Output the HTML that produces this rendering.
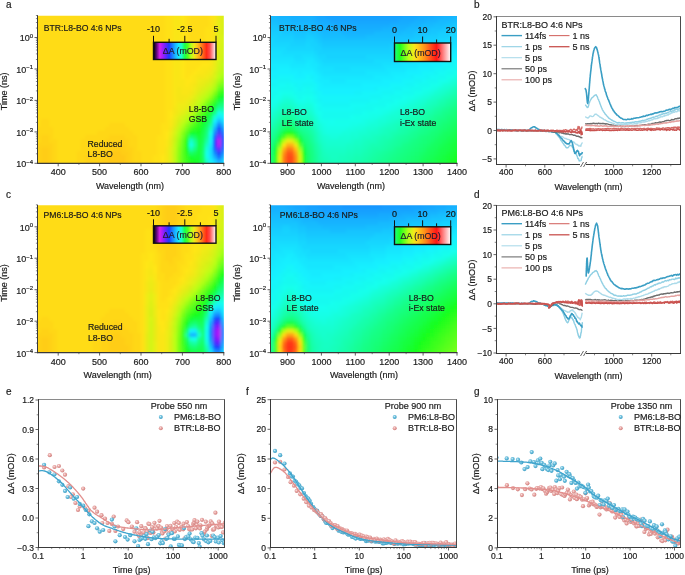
<!DOCTYPE html><html><head><meta charset="utf-8"><style>html,body{margin:0;padding:0;background:#fff;width:685px;height:575px;overflow:hidden}svg{display:block;will-change:transform}svg{font-family:"Liberation Sans",sans-serif}text{stroke:#1a1a1a;stroke-width:0.18px}</style></head><body><svg width="685" height="575" viewBox="0 0 685 575" font-family="Liberation Sans, sans-serif">
<defs><filter id="bl" x="-5%" y="-5%" width="110%" height="110%"><feGaussianBlur stdDeviation="1.7"/></filter></defs>
<rect width="685" height="575" fill="#fff"/>
<text x="6" y="7.5" font-size="10" text-anchor="start" fill="#222" >a</text>
<text x="474" y="7.5" font-size="10" text-anchor="start" fill="#222" >b</text>
<text x="6" y="198.3" font-size="10" text-anchor="start" fill="#222" >c</text>
<text x="474" y="198" font-size="10" text-anchor="start" fill="#222" >d</text>
<text x="6" y="394.5" font-size="10" text-anchor="start" fill="#222" >e</text>
<text x="246" y="394.5" font-size="10" text-anchor="start" fill="#222" >f</text>
<text x="474" y="394.5" font-size="10" text-anchor="start" fill="#222" >g</text>
<clipPath id="ca"><rect x="37.5" y="15.7" width="186.3" height="147.6"/></clipPath>
<g clip-path="url(#ca)"><g filter="url(#bl)">
<path fill="#ffdc19" d="M29 7h136v112h-136zM189 7h20v20h-20zM189 27h16v16h-16zM189 43h12v4h-12zM189 47h8v4h-8zM29 119h12v8h-12zM49 119h116v4h-116zM49 123h60v4h-60zM125 123h36v4h-36zM29 127h8v4h-8zM53 127h52v4h-52zM129 127h32v4h-32zM53 131h44v4h-44zM133 131h28v4h-28zM53 135h32v4h-32zM137 135h20v16h-20zM57 139h24v12h-24zM57 151h20v20h-20zM141 151h16v4h-16zM141 155h12v16h-12z"/>
<path fill="#ffe119" d="M165 7h8v104h-8zM185 7h4v44h-4zM209 7h4v20h-4zM205 27h8v16h-8zM201 43h12v4h-12zM197 47h16v4h-16zM185 51h24v12h-24zM185 63h16v4h-16zM185 67h12v4h-12zM185 71h8v4h-8zM185 75h4v4h-4zM165 111h4v12h-4zM161 123h8v8h-8zM161 131h4v4h-4zM157 135h8v20h-8zM153 155h8v16h-8z"/>
<path fill="#fae619" d="M173 7h8v72h-8zM213 7h4v16h-4zM209 59h4v8h-4zM201 67h8v4h-8zM197 71h8v4h-8zM193 75h4v8h-4zM173 79h12v8h-12zM189 83h4v4h-4zM173 87h4v20h-4zM181 87h12v4h-12zM181 91h8v4h-8zM169 119h4v8h-4zM165 139h4v8h-4z"/>
<path fill="#ffe619" d="M181 7h4v72h-4zM209 51h4v8h-4zM201 63h8v4h-8zM197 67h4v4h-4zM193 71h4v4h-4zM189 75h4v4h-4zM185 79h8v4h-8zM185 83h4v4h-4zM169 111h4v8h-4zM165 131h4v8h-4zM161 155h4v16h-4z"/>
<path fill="#e6eb19" d="M217 7h4v16h-4zM209 75h4v4h-4zM205 79h4v4h-4zM201 83h4v4h-4zM197 87h4v4h-4zM189 99h4v4h-4zM173 123h4v4h-4zM169 139h4v8h-4z"/>
<path fill="#dcf019" d="M221 7h12v12h-12zM221 19h4v4h-4zM217 47h4v12h-4zM213 71h4v4h-4zM209 79h4v4h-4zM205 83h4v4h-4zM201 87h4v4h-4zM197 91h4v4h-4zM189 103h4v4h-4zM173 127h4v4h-4z"/>
<path fill="#d7f019" d="M225 19h8v4h-8zM221 23h12v8h-12zM221 31h4v4h-4zM193 99h4v4h-4zM177 119h4v4h-4z"/>
<path fill="#f5e619" d="M213 23h4v28h-4zM209 67h4v4h-4zM205 71h4v4h-4zM197 75h8v4h-8zM193 83h4v4h-4zM177 87h4v8h-4zM189 91h4v4h-4zM177 95h12v4h-12zM177 99h8v4h-8zM173 107h4v8h-4zM169 127h4v4h-4zM165 147h4v24h-4z"/>
<path fill="#e6f019" d="M217 23h4v8h-4zM213 67h4v4h-4z"/>
<path fill="#e1f019" d="M217 31h4v16h-4zM193 95h4v4h-4zM185 107h4v4h-4zM181 111h4v4h-4zM177 115h4v4h-4zM169 147h4v24h-4z"/>
<path fill="#d7f519" d="M225 31h8v4h-8zM221 35h12v4h-12zM221 39h4v4h-4zM217 59h4v4h-4zM213 75h4v4h-4zM173 131h4v4h-4z"/>
<path fill="#d2f519" d="M225 39h8v4h-8zM221 43h12v8h-12zM221 51h4v4h-4zM217 63h4v4h-4zM209 83h4v4h-4zM205 87h4v4h-4zM201 91h4v4h-4zM197 95h4v4h-4zM189 107h4v4h-4zM185 111h4v4h-4zM181 115h4v4h-4z"/>
<path fill="#f0eb19" d="M213 51h4v8h-4zM209 71h4v4h-4zM205 75h4v4h-4zM197 79h4v4h-4zM193 87h4v4h-4zM189 95h4v4h-4zM185 99h4v4h-4zM177 103h8v4h-8zM177 107h4v4h-4zM173 115h4v4h-4zM169 131h4v4h-4z"/>
<path fill="#cdf519" d="M225 51h8v4h-8zM221 55h12v4h-12zM217 67h4v4h-4zM193 103h4v4h-4zM177 123h4v4h-4zM173 135h4v4h-4z"/>
<path fill="#ebeb19" d="M213 59h4v8h-4zM201 79h4v4h-4zM197 83h4v4h-4zM193 91h4v4h-4zM185 103h4v4h-4zM181 107h4v4h-4zM177 111h4v4h-4zM173 119h4v4h-4zM169 135h4v4h-4z"/>
<path fill="#c8f519" d="M221 59h4v4h-4zM213 79h4v4h-4zM173 139h4v4h-4z"/>
<path fill="#c8fa19" d="M225 59h8v4h-8zM197 99h4v4h-4zM181 119h4v4h-4z"/>
<path fill="#c3fa19" d="M221 63h12v4h-12zM217 71h4v4h-4zM209 87h4v4h-4zM205 91h4v4h-4zM201 95h4v4h-4zM185 115h4v4h-4zM177 127h4v4h-4zM173 143h4v8h-4z"/>
<path fill="#befa19" d="M221 67h12v4h-12zM189 111h4v4h-4zM173 151h4v20h-4z"/>
<path fill="#b4ff19" d="M221 71h12v4h-12zM205 95h4v4h-4zM201 99h4v4h-4zM181 123h4v4h-4zM177 131h4v4h-4z"/>
<path fill="#b9ff19" d="M217 75h4v4h-4zM197 103h4v4h-4z"/>
<path fill="#a5ff19" d="M221 75h12v4h-12zM217 79h4v4h-4zM213 87h4v4h-4z"/>
<path fill="#8cff19" d="M221 79h12v4h-12zM177 147h4v8h-4z"/>
<path fill="#b9fa19" d="M213 83h4v4h-4zM193 107h4v4h-4z"/>
<path fill="#87ff19" d="M217 83h4v4h-4zM189 119h4v4h-4zM181 131h4v4h-4zM177 155h4v16h-4z"/>
<path fill="#73ff1e" d="M221 83h4v4h-4zM201 107h4v4h-4zM185 127h4v4h-4z"/>
<path fill="#6eff1e" d="M225 83h8v4h-8zM205 103h4v4h-4z"/>
<path fill="#69ff1e" d="M217 87h4v4h-4zM209 99h4v4h-4zM189 123h4v4h-4zM181 139h4v4h-4z"/>
<path fill="#50ff1e" d="M221 87h12v4h-12z"/>
<path fill="#afff19" d="M209 91h4v4h-4zM185 119h4v4h-4z"/>
<path fill="#82ff19" d="M213 91h4v4h-4zM193 115h4v4h-4z"/>
<path fill="#41ff1e" d="M217 91h4v4h-4zM197 119h4v4h-4z"/>
<path fill="#2dff1e" d="M221 91h12v4h-12zM205 111h4v4h-4zM197 123h4v4h-4zM193 127h4v4h-4z"/>
<path fill="#91ff19" d="M209 95h4v4h-4zM205 99h4v4h-4zM185 123h4v4h-4z"/>
<path fill="#5aff1e" d="M213 95h4v4h-4zM197 115h4v4h-4zM181 151h4v20h-4z"/>
<path fill="#1eff1e" d="M217 95h4v4h-4zM209 107h4v4h-4zM201 119h4v4h-4zM197 127h4v4h-4zM185 139h4v4h-4zM189 159h4v4h-4z"/>
<path fill="#19ff32" d="M221 95h12v4h-12zM197 135h4v4h-4zM189 155h4v4h-4zM197 155h4v4h-4z"/>
<path fill="#37ff1e" d="M213 99h4v4h-4zM201 115h4v4h-4zM185 135h4v4h-4zM185 159h4v4h-4z"/>
<path fill="#19ff46" d="M217 99h4v4h-4zM205 119h4v4h-4zM201 131h4v4h-4z"/>
<path fill="#19ff5a" d="M221 99h12v4h-12zM213 107h4v4h-4zM205 123h4v4h-4zM201 159h4v4h-4z"/>
<path fill="#96ff19" d="M201 103h4v4h-4zM177 143h4v4h-4z"/>
<path fill="#46ff1e" d="M209 103h4v4h-4zM189 127h4v4h-4z"/>
<path fill="#19ff2d" d="M213 103h4v4h-4zM201 123h4v4h-4zM193 131h4v4h-4zM197 159h4v12h-4z"/>
<path fill="#19ff73" d="M217 103h4v4h-4z"/>
<path fill="#19ff82" d="M221 103h12v4h-12zM193 147h4v4h-4z"/>
<path fill="#9bff19" d="M197 107h4v4h-4zM177 139h4v4h-4z"/>
<path fill="#4bff1e" d="M205 107h4v4h-4zM193 123h4v4h-4z"/>
<path fill="#19ffa5" d="M217 107h4v4h-4zM225 107h8v4h-8zM205 139h4v4h-4z"/>
<path fill="#19ffaa" d="M221 107h4v4h-4z"/>
<path fill="#a0ff19" d="M193 111h4v4h-4zM181 127h4v4h-4z"/>
<path fill="#7dff19" d="M197 111h4v4h-4z"/>
<path fill="#55ff1e" d="M201 111h4v4h-4zM185 131h4v4h-4z"/>
<path fill="#19ff3c" d="M209 111h4v4h-4zM201 127h4v4h-4zM197 139h4v12h-4z"/>
<path fill="#19ff87" d="M213 111h4v4h-4z"/>
<path fill="#19ffeb" d="M217 111h4v4h-4zM209 131h4v4h-4zM205 151h4v4h-4z"/>
<path fill="#19ffdc" d="M221 111h4v4h-4zM205 147h4v4h-4z"/>
<path fill="#19ffd2" d="M225 111h8v4h-8zM213 115h4v4h-4z"/>
<path fill="#aaff19" d="M189 115h4v4h-4zM177 135h4v4h-4z"/>
<path fill="#19ff28" d="M205 115h4v4h-4zM189 131h4v4h-4z"/>
<path fill="#19ff5f" d="M209 115h4v4h-4zM193 135h4v4h-4zM201 143h4v4h-4z"/>
<path fill="#19e6ff" d="M217 115h4v4h-4zM225 119h8v4h-8zM209 143h4v4h-4zM225 163h8v8h-8z"/>
<path fill="#19f5fa" d="M221 115h4v4h-4z"/>
<path fill="#19faf5" d="M225 115h8v4h-8zM209 163h4v8h-4z"/>
<path fill="#ffd719" d="M41 119h8v8h-8zM109 123h16v4h-16zM37 127h16v4h-16zM105 127h24v4h-24zM29 131h24v4h-24zM97 131h36v4h-36zM29 135h12v8h-12zM49 135h4v4h-4zM85 135h24v4h-24zM125 135h12v4h-12zM49 139h8v4h-8zM81 139h24v4h-24zM129 139h8v8h-8zM29 143h8v8h-8zM53 143h4v28h-4zM81 143h20v4h-20zM81 147h12v4h-12zM133 147h4v4h-4zM77 151h12v4h-12zM133 151h8v20h-8zM77 155h8v16h-8z"/>
<path fill="#64ff1e" d="M193 119h4v4h-4zM181 143h4v4h-4z"/>
<path fill="#19ff7d" d="M209 119h4v4h-4zM205 131h4v4h-4z"/>
<path fill="#19f0ff" d="M213 119h4v4h-4zM209 139h4v4h-4zM209 159h4v4h-4z"/>
<path fill="#19b9ff" d="M217 119h4v4h-4zM221 123h4v4h-4z"/>
<path fill="#19dcff" d="M221 119h4v4h-4zM209 147h4v8h-4zM225 159h8v4h-8zM221 163h4v8h-4z"/>
<path fill="#19ffa0" d="M209 123h4v4h-4zM193 143h4v4h-4z"/>
<path fill="#19d2ff" d="M213 123h4v4h-4zM225 123h8v4h-8zM213 159h4v4h-4zM221 159h4v4h-4z"/>
<path fill="#197dff" d="M217 123h4v4h-4zM225 143h8v4h-8z"/>
<path fill="#19ff6e" d="M205 127h4v4h-4z"/>
<path fill="#19ffc8" d="M209 127h4v4h-4zM205 159h4v4h-4z"/>
<path fill="#19aaff" d="M213 127h4v4h-4zM225 151h8v4h-8zM213 155h4v4h-4z"/>
<path fill="#1946ff" d="M217 127h4v4h-4z"/>
<path fill="#1996ff" d="M221 127h4v4h-4zM225 131h8v4h-8z"/>
<path fill="#19afff" d="M225 127h8v4h-8zM221 155h4v4h-4z"/>
<path fill="#19ff23" d="M197 131h4v4h-4zM185 143h4v4h-4zM193 159h4v4h-4z"/>
<path fill="#1982ff" d="M213 131h4v4h-4zM225 135h8v4h-8zM213 151h4v4h-4z"/>
<path fill="#462dff" d="M217 131h4v4h-4z"/>
<path fill="#1973ff" d="M221 131h4v4h-4z"/>
<path fill="#ffd219" d="M41 135h8v8h-8zM109 135h16v4h-16zM105 139h24v4h-24zM37 143h16v4h-16zM101 143h8v4h-8zM125 143h4v4h-4zM37 147h4v4h-4zM49 147h4v24h-4zM93 147h16v4h-16zM125 147h8v4h-8zM29 151h12v20h-12zM89 151h16v4h-16zM129 151h4v20h-4zM85 155h20v4h-20zM85 159h16v12h-16z"/>
<path fill="#78ff1e" d="M181 135h4v4h-4z"/>
<path fill="#19ff78" d="M189 135h4v4h-4z"/>
<path fill="#19ff50" d="M201 135h4v4h-4z"/>
<path fill="#19ff8c" d="M205 135h4v4h-4z"/>
<path fill="#19f5f5" d="M209 135h4v4h-4z"/>
<path fill="#1955ff" d="M213 135h4v4h-4zM221 143h4v4h-4zM213 147h4v4h-4z"/>
<path fill="#871eff" d="M217 135h4v4h-4z"/>
<path fill="#195aff" d="M221 135h4v4h-4z"/>
<path fill="#19ffcd" d="M189 139h4v4h-4z"/>
<path fill="#19ff91" d="M193 139h4v4h-4z"/>
<path fill="#19ff55" d="M201 139h4v4h-4zM193 151h4v4h-4zM201 163h4v8h-4z"/>
<path fill="#2337ff" d="M213 139h4v8h-4z"/>
<path fill="#be1ef5" d="M217 139h4v4h-4z"/>
<path fill="#1950ff" d="M221 139h4v4h-4z"/>
<path fill="#1978ff" d="M225 139h8v4h-8z"/>
<path fill="#ffcd19" d="M109 143h16v8h-16zM41 147h8v24h-8zM105 151h8v4h-8zM121 151h8v4h-8zM105 155h4v4h-4zM125 155h4v16h-4zM101 159h8v12h-8z"/>
<path fill="#19ffe6" d="M189 143h4v4h-4zM205 155h4v4h-4z"/>
<path fill="#19ffc3" d="M205 143h4v4h-4z"/>
<path fill="#b41ef5" d="M217 143h4v4h-4z"/>
<path fill="#5fff1e" d="M181 147h4v4h-4z"/>
<path fill="#19ff1e" d="M185 147h4v4h-4zM193 163h4v8h-4z"/>
<path fill="#19ffb4" d="M189 147h4v4h-4zM205 163h4v8h-4z"/>
<path fill="#19ff64" d="M201 147h4v4h-4zM201 155h4v4h-4z"/>
<path fill="#6e23ff" d="M217 147h4v4h-4z"/>
<path fill="#1969ff" d="M221 147h4v4h-4zM217 155h4v4h-4z"/>
<path fill="#1991ff" d="M225 147h8v4h-8z"/>
<path fill="#ffc819" d="M113 151h8v4h-8zM109 155h16v16h-16z"/>
<path fill="#28ff1e" d="M185 151h4v4h-4z"/>
<path fill="#19ff69" d="M189 151h4v4h-4zM201 151h4v4h-4z"/>
<path fill="#19ff37" d="M197 151h4v4h-4zM193 155h4v4h-4z"/>
<path fill="#2837ff" d="M217 151h4v4h-4z"/>
<path fill="#198cff" d="M221 151h4v4h-4z"/>
<path fill="#32ff1e" d="M185 155h4v4h-4z"/>
<path fill="#19e1ff" d="M209 155h4v4h-4zM213 163h4v8h-4z"/>
<path fill="#19c3ff" d="M225 155h8v4h-8z"/>
<path fill="#19a5ff" d="M217 159h4v4h-4z"/>
<path fill="#3cff1e" d="M185 163h4v8h-4z"/>
<path fill="#23ff1e" d="M189 163h4v8h-4z"/>
<path fill="#19beff" d="M217 163h4v8h-4z"/>
</g></g>
<clipPath id="ca2"><rect x="270.5" y="15.9" width="186.5" height="147.4"/></clipPath>
<g clip-path="url(#ca2)"><g filter="url(#bl)">
<path fill="#19b9ff" d="M262 7h12v8h-12zM454 7h12v12h-12zM262 15h16v4h-16zM278 19h12v4h-12zM438 19h12v4h-12zM290 23h24v4h-24zM422 23h12v4h-12zM314 27h8v4h-8zM406 27h12v4h-12zM322 31h20v4h-20zM374 31h28v4h-28zM346 35h20v4h-20z"/>
<path fill="#19b4ff" d="M274 7h12v8h-12zM446 7h8v8h-8zM278 15h12v4h-12zM442 15h12v4h-12zM290 19h24v4h-24zM426 19h12v4h-12zM314 23h8v4h-8zM410 23h12v4h-12zM322 27h16v4h-16zM382 27h24v4h-24zM342 31h32v4h-32z"/>
<path fill="#19afff" d="M286 7h12v8h-12zM306 7h4v8h-4zM438 7h8v8h-8zM290 15h24v4h-24zM434 15h8v4h-8zM314 19h4v4h-4zM414 19h12v4h-12zM322 23h12v4h-12zM390 23h20v4h-20zM338 27h44v4h-44z"/>
<path fill="#19aaff" d="M298 7h8v8h-8zM310 7h8v8h-8zM426 7h12v8h-12zM314 15h4v4h-4zM418 15h16v4h-16zM318 19h12v4h-12zM398 19h16v4h-16zM334 23h56v4h-56z"/>
<path fill="#19a5ff" d="M318 7h4v8h-4zM410 7h16v8h-16zM318 15h8v4h-8zM402 15h16v4h-16zM330 19h68v4h-68z"/>
<path fill="#19a0ff" d="M322 7h24v8h-24zM386 7h24v8h-24zM326 15h76v4h-76z"/>
<path fill="#199bff" d="M346 7h40v8h-40z"/>
<path fill="#19beff" d="M262 19h16v4h-16zM450 19h16v4h-16zM278 23h12v4h-12zM434 23h12v4h-12zM290 27h24v4h-24zM418 27h12v4h-12zM318 31h4v4h-4zM402 31h12v4h-12zM322 35h24v4h-24zM366 35h32v4h-32z"/>
<path fill="#19c3ff" d="M262 23h16v4h-16zM446 23h8v4h-8zM282 27h8v4h-8zM430 27h12v4h-12zM294 31h12v4h-12zM310 31h8v4h-8zM414 31h16v4h-16zM318 35h4v4h-4zM398 35h16v4h-16zM322 39h72v4h-72z"/>
<path fill="#19c8ff" d="M454 23h12v4h-12zM262 27h20v4h-20zM442 27h8v4h-8zM282 31h12v4h-12zM306 31h4v4h-4zM430 31h8v4h-8zM294 35h12v4h-12zM314 35h4v4h-4zM414 35h12v4h-12zM318 39h4v4h-4zM394 39h16v4h-16zM322 43h68v4h-68z"/>
<path fill="#19cdff" d="M450 27h16v4h-16zM262 31h20v4h-20zM438 31h12v4h-12zM278 35h16v4h-16zM306 35h8v4h-8zM426 35h12v4h-12zM294 39h12v4h-12zM314 39h4v4h-4zM410 39h12v4h-12zM318 43h4v4h-4zM390 43h20v4h-20zM322 47h68v4h-68z"/>
<path fill="#19d2ff" d="M450 31h16v4h-16zM262 35h16v4h-16zM438 35h12v4h-12zM274 39h20v4h-20zM306 39h8v4h-8zM422 39h16v4h-16zM290 43h16v4h-16zM310 43h8v4h-8zM410 43h16v4h-16zM314 47h8v4h-8zM390 47h20v4h-20zM318 51h76v4h-76zM326 55h40v4h-40z"/>
<path fill="#19d7ff" d="M450 35h16v4h-16zM262 39h12v4h-12zM438 39h8v4h-8zM262 43h28v4h-28zM306 43h4v4h-4zM426 43h12v4h-12zM286 47h28v4h-28zM410 47h16v4h-16zM314 51h4v4h-4zM394 51h16v4h-16zM318 55h8v4h-8zM366 55h32v4h-32zM322 59h52v4h-52z"/>
<path fill="#19dcff" d="M446 39h20v4h-20zM438 43h8v4h-8zM262 47h24v4h-24zM426 47h12v4h-12zM282 51h32v4h-32zM410 51h16v4h-16zM294 55h8v4h-8zM314 55h4v4h-4zM398 55h16v4h-16zM318 59h4v4h-4zM374 59h24v4h-24zM322 63h60v4h-60zM334 67h16v4h-16z"/>
<path fill="#19e1ff" d="M446 43h20v4h-20zM438 47h8v4h-8zM262 51h20v4h-20zM426 51h12v4h-12zM262 55h32v4h-32zM302 55h12v4h-12zM414 55h12v4h-12zM294 59h12v4h-12zM314 59h4v4h-4zM398 59h16v4h-16zM318 63h4v4h-4zM382 63h20v4h-20zM318 67h16v4h-16zM350 67h36v4h-36zM322 71h44v4h-44z"/>
<path fill="#19e6ff" d="M446 47h20v4h-20zM438 51h8v4h-8zM426 55h12v4h-12zM262 59h32v4h-32zM306 59h8v4h-8zM414 59h12v4h-12zM290 63h16v4h-16zM310 63h8v4h-8zM402 63h16v4h-16zM314 67h4v4h-4zM386 67h20v4h-20zM318 71h4v4h-4zM366 71h24v4h-24zM322 75h52v4h-52zM330 79h16v4h-16z"/>
<path fill="#19ebff" d="M446 51h20v4h-20zM438 55h12v4h-12zM426 59h12v4h-12zM262 63h28v4h-28zM306 63h4v4h-4zM418 63h12v4h-12zM262 67h16v4h-16zM290 67h24v4h-24zM406 67h12v4h-12zM298 71h4v4h-4zM314 71h4v4h-4zM390 71h16v4h-16zM318 75h4v4h-4zM374 75h20v4h-20zM318 79h12v4h-12zM346 79h36v4h-36zM322 83h40v4h-40z"/>
<path fill="#19f0ff" d="M450 55h16v4h-16zM438 59h12v4h-12zM430 63h12v4h-12zM278 67h12v4h-12zM418 67h12v4h-12zM262 71h36v4h-36zM302 71h12v4h-12zM406 71h16v4h-16zM262 75h12v4h-12zM294 75h12v4h-12zM314 75h4v8h-4zM394 75h16v4h-16zM382 79h20v4h-20zM318 83h4v4h-4zM362 83h28v4h-28zM318 87h56v4h-56zM322 91h32v4h-32z"/>
<path fill="#19f5fa" d="M450 59h16v4h-16zM442 63h8v4h-8zM434 67h8v4h-8zM422 71h12v4h-12zM278 75h16v4h-16zM306 75h4v4h-4zM414 75h12v4h-12zM262 79h16v4h-16zM290 79h24v4h-24zM402 79h12v4h-12zM298 83h4v4h-4zM314 83h4v8h-4zM390 83h16v4h-16zM378 87h16v4h-16zM318 91h4v4h-4zM362 91h20v4h-20zM318 95h52v4h-52zM322 99h28v4h-28z"/>
<path fill="#19f5f5" d="M450 63h4v4h-4zM442 67h4v4h-4zM434 71h4v4h-4zM426 75h4v4h-4zM278 79h12v4h-12zM414 79h8v4h-8zM262 83h16v4h-16zM294 83h4v4h-4zM302 83h12v4h-12zM406 83h8v4h-8zM298 87h4v4h-4zM394 87h8v4h-8zM314 91h4v4h-4zM382 91h12v4h-12zM370 95h12v4h-12zM318 99h4v4h-4zM350 99h20v4h-20zM322 103h28v4h-28z"/>
<path fill="#19faf5" d="M454 63h12v4h-12zM446 67h8v4h-8zM438 71h8v4h-8zM430 75h8v4h-8zM422 79h4v4h-4zM278 83h8v4h-8zM290 83h4v4h-4zM414 83h4v4h-4zM262 87h16v4h-16zM294 87h4v4h-4zM302 87h4v4h-4zM310 87h4v4h-4zM402 87h8v4h-8zM394 91h8v4h-8zM314 95h4v4h-4zM382 95h8v4h-8zM370 99h8v4h-8zM318 103h4v4h-4zM350 103h16v4h-16zM322 107h32v4h-32z"/>
<path fill="#19f0fa" d="M430 67h4v4h-4zM274 75h4v4h-4zM310 75h4v4h-4zM410 75h4v4h-4zM374 87h4v4h-4zM354 91h8v4h-8z"/>
<path fill="#19faf0" d="M454 67h12v4h-12zM446 71h8v4h-8zM438 75h8v4h-8zM426 79h12v4h-12zM286 83h4v4h-4zM418 83h12v4h-12zM278 87h16v4h-16zM306 87h4v4h-4zM410 87h12v4h-12zM262 91h16v4h-16zM294 91h20v4h-20zM402 91h12v4h-12zM262 95h12v4h-12zM298 95h4v4h-4zM390 95h12v4h-12zM314 99h4v4h-4zM378 99h16v4h-16zM366 103h20v4h-20zM318 107h4v4h-4zM354 107h20v4h-20zM322 111h40v4h-40zM322 115h28v4h-28z"/>
<path fill="#19ffeb" d="M454 71h12v4h-12zM446 75h8v4h-8zM438 79h8v4h-8zM430 83h8v4h-8zM422 87h8v4h-8zM282 91h12v4h-12zM414 91h8v4h-8zM274 95h8v4h-8zM294 95h4v4h-4zM306 95h4v4h-4zM406 95h8v4h-8zM262 99h16v4h-16zM298 99h8v4h-8zM310 99h4v4h-4zM398 99h8v4h-8zM262 103h12v4h-12zM390 103h8v4h-8zM314 107h4v4h-4zM378 107h12v4h-12zM366 111h16v4h-16zM318 115h4v4h-4zM354 115h16v4h-16zM322 119h8v4h-8zM334 119h28v4h-28zM326 123h24v4h-24z"/>
<path fill="#19ffe1" d="M454 75h12v4h-12zM434 87h4v4h-4zM426 91h4v4h-4zM282 95h8v4h-8zM418 95h4v4h-4zM278 99h4v4h-4zM410 99h4v4h-4zM274 103h4v4h-4zM298 103h8v4h-8zM310 103h4v4h-4zM402 103h4v4h-4zM262 107h12v4h-12zM394 107h4v4h-4zM386 111h4v4h-4zM378 115h4v4h-4zM366 119h8v4h-8zM358 123h8v4h-8zM322 127h4v4h-4zM346 127h8v4h-8zM326 131h16v4h-16z"/>
<path fill="#19ffe6" d="M446 79h4v4h-4zM438 83h4v4h-4zM430 87h4v4h-4zM422 91h4v4h-4zM290 95h4v4h-4zM414 95h4v4h-4zM294 99h4v4h-4zM306 99h4v4h-4zM406 99h4v4h-4zM398 103h4v4h-4zM390 107h4v4h-4zM314 111h4v4h-4zM382 111h4v4h-4zM370 115h8v4h-8zM318 119h4v4h-4zM362 119h4v4h-4zM322 123h4v4h-4zM350 123h8v4h-8zM326 127h20v4h-20z"/>
<path fill="#19ffdc" d="M450 79h4v4h-4zM442 83h4v4h-4zM430 91h4v4h-4zM422 95h4v4h-4zM414 99h4v4h-4zM306 103h4v4h-4zM406 103h4v4h-4zM310 107h4v4h-4zM398 107h4v4h-4zM390 111h4v4h-4zM314 115h4v4h-4zM382 115h4v4h-4zM374 119h4v4h-4zM318 123h4v4h-4zM366 123h4v4h-4zM354 127h8v4h-8zM322 131h4v4h-4zM342 131h8v4h-8zM330 135h8v4h-8z"/>
<path fill="#19ffd7" d="M454 79h4v4h-4zM446 83h4v4h-4zM438 87h4v4h-4zM426 95h4v4h-4zM282 99h4v4h-4zM290 99h4v4h-4zM418 99h4v4h-4zM294 103h4v4h-4zM410 103h4v4h-4zM274 107h4v4h-4zM298 107h8v4h-8zM402 107h4v4h-4zM262 111h12v4h-12zM394 111h4v4h-4zM386 115h4v4h-4zM378 119h8v4h-8zM370 123h8v4h-8zM318 127h4v4h-4zM362 127h4v4h-4zM350 131h8v4h-8zM326 135h4v4h-4zM338 135h12v4h-12z"/>
<path fill="#19ffd2" d="M458 79h8v4h-8zM450 83h4v4h-4zM442 87h4v4h-4zM434 91h4v4h-4zM286 99h4v4h-4zM422 99h4v4h-4zM278 103h4v4h-4zM414 103h4v4h-4zM306 107h4v4h-4zM406 107h4v4h-4zM310 111h4v4h-4zM398 111h4v4h-4zM390 115h8v4h-8zM314 119h4v4h-4zM386 119h4v4h-4zM378 123h4v4h-4zM366 127h8v4h-8zM358 131h8v4h-8zM322 135h4v4h-4zM350 135h8v4h-8zM326 139h24v4h-24z"/>
<path fill="#19ffc8" d="M454 83h12v4h-12zM442 91h4v4h-4zM434 95h4v4h-4zM426 99h4v4h-4zM282 103h8v4h-8zM422 103h4v4h-4zM278 107h4v4h-4zM414 107h4v4h-4zM274 111h4v4h-4zM298 111h4v4h-4zM306 111h4v4h-4zM406 111h4v4h-4zM310 115h4v4h-4zM262 119h8v4h-8zM394 119h4v4h-4zM386 123h4v4h-4zM378 127h4v4h-4zM370 131h8v4h-8zM318 135h4v4h-4zM362 135h8v4h-8zM354 139h8v4h-8zM322 143h4v4h-4zM346 143h8v4h-8zM326 147h20v4h-20z"/>
<path fill="#19ffcd" d="M446 87h4v4h-4zM438 91h4v4h-4zM430 95h4v4h-4zM290 103h4v4h-4zM418 103h4v4h-4zM294 107h4v4h-4zM410 107h4v4h-4zM302 111h4v4h-4zM402 111h4v4h-4zM262 115h12v4h-12zM398 115h4v4h-4zM390 119h4v4h-4zM314 123h4v4h-4zM382 123h4v4h-4zM374 127h4v4h-4zM318 131h4v4h-4zM366 131h4v4h-4zM358 135h4v4h-4zM322 139h4v4h-4zM350 139h4v4h-4zM326 143h20v4h-20z"/>
<path fill="#19ffc3" d="M450 87h4v4h-4zM438 95h4v4h-4zM430 99h4v4h-4zM418 107h4v4h-4zM410 111h4v4h-4zM302 115h4v4h-4zM402 115h4v4h-4zM270 119h4v4h-4zM398 119h4v4h-4zM390 123h4v4h-4zM314 127h4v4h-4zM382 127h4v4h-4zM378 131h4v4h-4zM370 135h4v4h-4zM318 139h4v4h-4zM362 139h4v4h-4zM354 143h8v4h-8zM322 147h4v4h-4zM346 147h8v4h-8zM326 151h20v4h-20zM330 155h8v4h-8z"/>
<path fill="#19ffb9" d="M454 87h12v4h-12zM450 91h4v4h-4zM442 95h4v4h-4zM430 103h4v4h-4zM286 107h4v4h-4zM422 107h4v4h-4zM278 111h4v4h-4zM418 111h4v4h-4zM410 115h4v4h-4zM406 119h4v4h-4zM270 123h4v4h-4zM310 123h4v4h-4zM398 123h4v4h-4zM394 127h4v4h-4zM314 131h4v4h-4zM386 131h4v4h-4zM378 135h4v4h-4zM374 139h4v4h-4zM318 143h4v4h-4zM366 143h4v4h-4zM362 147h4v4h-4zM354 151h8v4h-8zM322 155h4v4h-4zM346 155h8v4h-8zM326 159h4v4h-4zM342 159h8v4h-8zM326 163h20v8h-20z"/>
<path fill="#19fff0" d="M278 91h4v4h-4zM302 95h4v4h-4zM310 95h4v4h-4zM402 95h4v4h-4zM394 99h4v4h-4zM314 103h4v4h-4zM386 103h4v4h-4zM374 107h4v4h-4zM318 111h4v4h-4zM362 111h4v4h-4zM350 115h4v4h-4zM330 119h4v4h-4z"/>
<path fill="#19ffbe" d="M446 91h4v4h-4zM434 99h4v4h-4zM426 103h4v4h-4zM282 107h4v4h-4zM290 107h4v4h-4zM294 111h4v4h-4zM414 111h4v4h-4zM274 115h4v4h-4zM298 115h4v4h-4zM306 115h4v4h-4zM406 115h4v4h-4zM310 119h4v4h-4zM402 119h4v4h-4zM262 123h8v4h-8zM394 123h4v4h-4zM386 127h8v4h-8zM382 131h4v4h-4zM374 135h4v4h-4zM366 139h8v4h-8zM362 143h4v4h-4zM354 147h8v4h-8zM322 151h4v4h-4zM346 151h8v4h-8zM326 155h4v4h-4zM338 155h8v4h-8zM330 159h12v4h-12z"/>
<path fill="#19ffaf" d="M454 91h12v4h-12zM442 99h4v4h-4zM430 107h4v4h-4zM282 111h4v4h-4zM290 111h4v4h-4zM422 111h4v4h-4zM278 115h4v4h-4zM294 115h4v4h-4zM418 115h4v4h-4zM298 119h4v4h-4zM410 119h4v4h-4zM406 123h4v4h-4zM262 127h8v4h-8zM310 127h4v4h-4zM398 127h4v4h-4zM394 131h4v4h-4zM390 135h4v4h-4zM314 139h4v4h-4zM382 139h4v4h-4zM378 143h4v4h-4zM370 147h4v4h-4zM318 151h4v8h-4zM366 151h4v4h-4zM362 155h4v4h-4zM354 159h8v4h-8zM354 163h4v8h-4z"/>
<path fill="#19ffb4" d="M446 95h4v4h-4zM438 99h4v4h-4zM434 103h4v4h-4zM426 107h4v4h-4zM414 115h4v4h-4zM274 119h4v4h-4zM302 119h8v4h-8zM402 123h4v4h-4zM390 131h4v4h-4zM314 135h4v4h-4zM382 135h8v4h-8zM378 139h4v4h-4zM370 143h8v4h-8zM318 147h4v4h-4zM366 147h4v4h-4zM362 151h4v4h-4zM354 155h8v4h-8zM322 159h4v12h-4zM350 159h4v4h-4zM346 163h8v8h-8z"/>
<path fill="#19ffaa" d="M450 95h4v4h-4zM438 103h4v4h-4zM286 111h4v4h-4zM426 111h4v4h-4zM422 115h4v4h-4zM414 119h4v4h-4zM302 123h8v4h-8zM410 123h4v4h-4zM270 127h4v4h-4zM402 127h4v4h-4zM398 131h4v4h-4zM386 139h4v4h-4zM382 143h4v4h-4zM374 147h8v4h-8zM370 151h4v4h-4zM366 155h4v4h-4zM318 159h4v12h-4zM362 159h4v4h-4zM358 163h4v8h-4z"/>
<path fill="#19ffa5" d="M454 95h4v4h-4zM446 99h4v4h-4zM442 103h4v4h-4zM434 107h4v4h-4zM430 111h4v4h-4zM418 119h4v4h-4zM274 123h4v4h-4zM406 127h4v4h-4zM262 131h8v4h-8zM310 131h4v4h-4zM402 131h4v4h-4zM394 135h4v4h-4zM390 139h4v4h-4zM314 143h4v4h-4zM386 143h4v4h-4zM382 147h4v4h-4zM374 151h4v4h-4zM370 155h4v4h-4zM366 159h4v4h-4zM362 163h8v8h-8z"/>
<path fill="#19ffa0" d="M458 95h8v4h-8zM450 99h4v4h-4zM438 107h4v4h-4zM282 115h4v4h-4zM290 115h4v4h-4zM426 115h4v4h-4zM278 119h4v4h-4zM294 119h4v4h-4zM422 119h4v4h-4zM298 123h4v4h-4zM414 123h4v4h-4zM306 127h4v4h-4zM410 127h4v4h-4zM270 131h4v4h-4zM406 131h4v4h-4zM398 135h4v4h-4zM394 139h4v4h-4zM390 143h4v4h-4zM314 147h4v4h-4zM386 147h4v4h-4zM378 151h4v4h-4zM374 155h4v4h-4zM370 159h4v12h-4z"/>
<path fill="#19ff96" d="M454 99h12v4h-12zM450 103h4v4h-4zM442 107h4v4h-4zM438 111h4v4h-4zM426 119h4v4h-4zM422 123h4v4h-4zM306 131h4v4h-4zM410 131h4v4h-4zM270 135h4v4h-4zM406 135h4v4h-4zM262 139h8v4h-8zM310 139h4v4h-4zM402 139h4v4h-4zM398 143h4v4h-4zM386 151h4v4h-4zM314 155h4v16h-4zM382 155h4v4h-4zM378 159h4v12h-4z"/>
<path fill="#19ff9b" d="M446 103h4v4h-4zM434 111h4v4h-4zM286 115h4v4h-4zM430 115h4v4h-4zM418 123h4v4h-4zM274 127h4v4h-4zM302 127h4v4h-4zM414 127h4v4h-4zM262 135h8v4h-8zM310 135h4v4h-4zM402 135h4v4h-4zM398 139h4v4h-4zM394 143h4v4h-4zM390 147h4v4h-4zM314 151h4v4h-4zM382 151h4v4h-4zM378 155h4v4h-4zM374 159h4v12h-4z"/>
<path fill="#19ff8c" d="M454 103h12v4h-12zM442 111h4v4h-4zM438 115h4v4h-4zM286 119h4v4h-4zM434 119h4v4h-4zM426 123h4v4h-4zM422 127h4v4h-4zM274 131h4v4h-4zM302 131h4v4h-4zM418 131h4v4h-4zM306 135h4v4h-4zM414 135h4v4h-4zM270 139h4v4h-4zM262 143h8v4h-8zM310 143h4v4h-4zM402 143h4v4h-4zM398 147h4v4h-4zM394 151h4v4h-4zM390 155h4v4h-4zM386 159h4v12h-4z"/>
<path fill="#19ff91" d="M446 107h4v4h-4zM434 115h4v4h-4zM282 119h4v4h-4zM290 119h4v4h-4zM430 119h4v4h-4zM278 123h4v4h-4zM294 123h4v4h-4zM298 127h4v4h-4zM418 127h4v4h-4zM414 131h4v4h-4zM410 135h4v4h-4zM406 139h4v4h-4zM394 147h4v4h-4zM390 151h4v4h-4zM386 155h4v4h-4zM382 159h4v12h-4z"/>
<path fill="#19ff87" d="M450 107h4v4h-4zM446 111h4v4h-4zM442 115h4v4h-4zM430 123h4v4h-4zM426 127h4v4h-4zM422 131h4v4h-4zM410 139h4v4h-4zM406 143h4v4h-4zM262 147h8v4h-8zM310 147h4v4h-4zM402 147h4v4h-4zM398 151h4v4h-4zM394 155h4v4h-4zM390 159h4v12h-4z"/>
<path fill="#19ff82" d="M454 107h12v4h-12zM450 111h4v4h-4zM438 119h4v4h-4zM282 123h4v4h-4zM434 123h4v4h-4zM278 127h4v4h-4zM430 127h4v4h-4zM426 131h4v4h-4zM418 135h4v4h-4zM306 139h4v4h-4zM414 139h4v4h-4zM270 143h4v4h-4zM410 143h4v4h-4zM406 147h4v4h-4zM310 151h4v20h-4zM402 151h4v4h-4zM398 155h4v4h-4zM394 159h4v12h-4z"/>
<path fill="#19ff78" d="M454 111h12v4h-12zM450 115h4v4h-4zM446 119h4v4h-4zM286 123h4v4h-4zM294 127h4v4h-4zM298 131h4v4h-4zM430 131h4v4h-4zM426 135h4v4h-4zM422 139h4v4h-4zM418 143h4v4h-4zM270 147h4v4h-4zM414 147h4v4h-4zM410 151h4v4h-4zM406 155h4v4h-4zM262 159h8v12h-8zM402 159h4v12h-4z"/>
<path fill="#19ff7d" d="M446 115h4v4h-4zM442 119h4v4h-4zM290 123h4v4h-4zM438 123h4v4h-4zM434 127h4v4h-4zM274 135h4v4h-4zM302 135h4v4h-4zM422 135h4v4h-4zM418 139h4v4h-4zM306 143h4v4h-4zM414 143h4v4h-4zM410 147h4v4h-4zM262 151h8v8h-8zM406 151h4v4h-4zM402 155h4v4h-4zM398 159h4v12h-4z"/>
<path fill="#19ff73" d="M454 115h4v4h-4zM442 123h4v4h-4zM438 127h4v4h-4zM434 131h4v4h-4zM430 135h4v4h-4zM426 139h4v4h-4zM422 143h4v4h-4zM306 147h4v4h-4zM418 147h4v4h-4zM270 151h4v4h-4zM414 151h4v4h-4zM410 155h4v4h-4zM406 159h4v12h-4z"/>
<path fill="#19ff6e" d="M458 115h8v4h-8zM450 119h4v4h-4zM446 123h4v4h-4zM442 127h4v4h-4zM438 131h4v4h-4zM434 135h4v4h-4zM302 139h4v4h-4zM430 139h4v4h-4zM426 143h4v4h-4zM422 147h4v4h-4zM306 151h4v4h-4zM418 151h4v4h-4zM270 155h4v16h-4zM414 155h4v4h-4zM410 159h4v4h-4z"/>
<path fill="#19ff69" d="M454 119h12v4h-12zM450 123h4v4h-4zM282 127h4v4h-4zM446 127h4v4h-4zM278 131h4v4h-4zM274 139h4v4h-4zM422 151h4v4h-4zM306 155h4v16h-4zM418 155h4v4h-4zM414 159h4v4h-4zM410 163h4v8h-4z"/>
<path fill="#19ff5f" d="M454 123h12v4h-12zM290 127h4v4h-4zM450 127h4v4h-4zM446 131h4v4h-4zM442 135h4v4h-4zM438 139h4v4h-4zM434 143h4v4h-4zM430 147h4v4h-4zM426 151h4v4h-4zM422 155h4v4h-4zM418 163h4v8h-4z"/>
<path fill="#19ff55" d="M286 127h4v4h-4zM458 127h8v4h-8zM298 135h4v4h-4zM302 143h4v4h-4zM434 151h4v4h-4zM430 155h4v4h-4zM426 159h4v4h-4z"/>
<path fill="#19ff5a" d="M454 127h4v4h-4zM450 131h4v4h-4zM446 135h4v4h-4zM442 139h4v4h-4zM438 143h4v4h-4zM434 147h4v4h-4zM430 151h4v4h-4zM426 155h4v4h-4zM422 159h4v12h-4z"/>
<path fill="#19ff37" d="M282 131h4v4h-4zM454 147h4v4h-4zM450 151h4v4h-4zM446 155h4v4h-4zM442 163h4v8h-4z"/>
<path fill="#23ff1e" d="M286 131h4v4h-4zM274 151h4v4h-4zM302 155h4v8h-4z"/>
<path fill="#1eff1e" d="M290 131h4v4h-4zM298 139h4v4h-4zM302 163h4v8h-4z"/>
<path fill="#19ff4b" d="M294 131h4v4h-4zM454 135h4v4h-4zM450 139h4v4h-4zM274 143h4v4h-4zM446 143h4v4h-4zM442 147h4v4h-4zM438 151h4v4h-4zM434 155h4v4h-4zM430 163h4v8h-4z"/>
<path fill="#19ff64" d="M442 131h4v4h-4zM438 135h4v4h-4zM434 139h4v4h-4zM430 143h4v4h-4zM426 147h4v4h-4zM418 159h4v4h-4zM414 163h4v8h-4z"/>
<path fill="#19ff50" d="M454 131h12v4h-12zM450 135h4v4h-4zM446 139h4v4h-4zM442 143h4v4h-4zM438 147h4v4h-4zM430 159h4v4h-4zM426 163h4v8h-4z"/>
<path fill="#19ff41" d="M278 135h4v4h-4zM454 139h12v4h-12zM450 143h4v4h-4zM442 155h4v4h-4zM438 159h4v4h-4z"/>
<path fill="#4bff1e" d="M282 135h4v4h-4z"/>
<path fill="#8cff19" d="M286 135h4v4h-4z"/>
<path fill="#82ff19" d="M290 135h4v4h-4z"/>
<path fill="#3cff1e" d="M294 135h4v4h-4z"/>
<path fill="#19ff46" d="M458 135h8v4h-8zM446 147h4v4h-4zM442 151h4v4h-4zM438 155h4v4h-4zM434 159h4v12h-4z"/>
<path fill="#32ff1e" d="M278 139h4v4h-4zM274 155h4v8h-4z"/>
<path fill="#b4ff19" d="M282 139h4v4h-4z"/>
<path fill="#f0eb19" d="M286 139h4v4h-4zM278 155h4v8h-4z"/>
<path fill="#e6eb19" d="M290 139h4v4h-4zM278 163h4v8h-4z"/>
<path fill="#a0ff19" d="M294 139h4v4h-4zM298 147h4v4h-4z"/>
<path fill="#73ff1e" d="M278 143h4v4h-4z"/>
<path fill="#fae619" d="M282 143h4v4h-4z"/>
<path fill="#ffaf19" d="M286 143h4v4h-4z"/>
<path fill="#ffb419" d="M290 143h4v4h-4zM282 147h4v4h-4z"/>
<path fill="#ebeb19" d="M294 143h4v4h-4z"/>
<path fill="#5aff1e" d="M298 143h4v4h-4z"/>
<path fill="#19ff3c" d="M454 143h12v4h-12zM302 147h4v4h-4zM450 147h4v4h-4zM446 151h4v4h-4zM442 159h4v4h-4zM438 163h4v8h-4z"/>
<path fill="#19ff2d" d="M274 147h4v4h-4zM454 151h12v4h-12zM446 163h4v8h-4z"/>
<path fill="#b9ff19" d="M278 147h4v4h-4z"/>
<path fill="#ff7819" d="M286 147h4v4h-4z"/>
<path fill="#ff7d19" d="M290 147h4v4h-4zM282 155h4v8h-4z"/>
<path fill="#ffc319" d="M294 147h4v4h-4z"/>
<path fill="#19ff32" d="M458 147h8v4h-8zM450 155h4v4h-4zM446 159h4v4h-4z"/>
<path fill="#dcf019" d="M278 151h4v4h-4zM298 155h4v8h-4z"/>
<path fill="#ff9119" d="M282 151h4v4h-4z"/>
<path fill="#ff5519" d="M286 151h4v4h-4z"/>
<path fill="#ff5a19" d="M290 151h4v4h-4z"/>
<path fill="#ffa019" d="M294 151h4v4h-4z"/>
<path fill="#c8fa19" d="M298 151h4v4h-4z"/>
<path fill="#19ff23" d="M302 151h4v4h-4zM454 159h4v4h-4z"/>
<path fill="#ff4b19" d="M286 155h8v8h-8z"/>
<path fill="#ff8c19" d="M294 155h4v8h-4z"/>
<path fill="#19ff28" d="M454 155h12v4h-12zM450 159h4v12h-4z"/>
<path fill="#19ff1e" d="M458 159h8v4h-8zM454 163h12v8h-12z"/>
<path fill="#2dff1e" d="M274 163h4v8h-4z"/>
<path fill="#ff8719" d="M282 163h4v8h-4z"/>
<path fill="#ff5019" d="M286 163h8v8h-8z"/>
<path fill="#ff9619" d="M294 163h4v8h-4z"/>
<path fill="#d2f519" d="M298 163h4v8h-4z"/>
</g></g>
<clipPath id="cc"><rect x="37.5" y="205.3" width="186.3" height="147.3"/></clipPath>
<g clip-path="url(#cc)"><g filter="url(#bl)">
<path fill="#ffdc19" d="M29 197h128v32h-128zM185 197h20v8h-20zM185 205h16v8h-16zM185 213h12v8h-12zM185 221h8v12h-8zM29 229h116v24h-116zM153 229h4v20h-4zM181 233h8v20h-8zM29 253h112v56h-112zM157 253h4v20h-4zM181 253h4v8h-4zM177 261h8v4h-8zM177 265h4v8h-4zM157 273h8v8h-8zM173 273h8v4h-8zM169 277h8v4h-8zM161 281h16v4h-16zM161 285h12v4h-12zM161 289h8v8h-8zM161 297h4v4h-4zM29 309h80v4h-80zM125 309h16v4h-16zM29 313h76v4h-76zM129 313h12v4h-12zM29 317h12v4h-12zM49 317h52v4h-52zM133 317h8v4h-8zM53 321h48v4h-48zM137 321h4v12h-4zM53 325h44v4h-44zM57 329h40v8h-40zM57 337h36v24h-36z"/>
<path fill="#ffd719" d="M157 197h4v52h-4zM181 197h4v24h-4zM177 221h8v12h-8zM177 233h4v24h-4zM157 249h8v4h-8zM161 253h4v8h-4zM173 257h8v4h-8zM161 261h8v4h-8zM173 261h4v4h-4zM161 265h16v8h-16zM165 273h8v4h-8zM165 277h4v4h-4zM109 309h16v4h-16zM105 313h24v4h-24zM41 317h8v4h-8zM101 317h32v4h-32zM29 321h24v8h-24zM101 321h12v4h-12zM121 321h16v4h-16zM97 325h12v4h-12zM125 325h12v4h-12zM29 329h12v4h-12zM49 329h8v4h-8zM97 329h8v8h-8zM129 329h8v4h-8zM29 333h8v4h-8zM53 333h4v28h-4zM133 333h8v28h-8zM93 337h12v4h-12zM93 341h8v20h-8z"/>
<path fill="#ffd219" d="M161 197h4v44h-4zM177 197h4v24h-4zM173 225h4v20h-4zM161 241h8v4h-8zM161 245h16v4h-16zM165 249h12v8h-12zM165 257h8v4h-8zM169 261h4v4h-4zM113 321h8v4h-8zM109 325h16v4h-16zM41 329h8v4h-8zM105 329h24v4h-24zM37 333h16v4h-16zM105 333h8v8h-8zM121 333h12v4h-12zM29 337h12v24h-12zM49 337h4v24h-4zM125 337h8v8h-8zM101 341h8v20h-8zM129 345h4v16h-4z"/>
<path fill="#ffcd19" d="M165 197h12v28h-12zM165 225h8v16h-8zM169 241h4v4h-4zM113 333h8v4h-8zM41 337h8v24h-8zM113 337h12v4h-12zM109 341h16v4h-16zM109 345h20v16h-20z"/>
<path fill="#ffe119" d="M205 197h8v8h-8zM201 205h12v8h-12zM197 213h16v4h-16zM197 217h12v4h-12zM193 221h16v8h-16zM145 229h8v20h-8zM193 229h12v4h-12zM189 233h12v4h-12zM189 237h8v8h-8zM189 245h4v8h-4zM145 249h12v4h-12zM141 253h8v8h-8zM153 253h4v12h-4zM185 253h8v8h-8zM141 261h4v100h-4zM185 261h4v4h-4zM181 265h8v4h-8zM181 269h4v8h-4zM177 277h4v8h-4zM157 281h4v20h-4zM173 285h4v4h-4zM169 289h4v8h-4zM165 297h4v4h-4zM157 301h12v8h-12zM161 309h4v12h-4z"/>
<path fill="#fae619" d="M213 197h4v12h-4zM209 225h4v8h-4zM205 233h4v4h-4zM201 237h8v4h-8zM201 241h4v4h-4zM197 245h4v8h-4zM193 253h4v8h-4zM149 261h4v8h-4zM189 265h4v8h-4zM145 269h4v12h-4zM153 273h4v8h-4zM185 273h4v4h-4zM181 281h4v4h-4zM177 285h4v4h-4zM173 293h4v4h-4zM169 301h4v4h-4zM165 313h4v8h-4zM157 325h4v8h-4zM157 333h8v28h-8z"/>
<path fill="#e6eb19" d="M217 197h4v16h-4zM213 237h4v4h-4zM205 253h4v4h-4zM201 257h4v4h-4zM197 265h4v4h-4zM185 285h4v4h-4zM149 289h4v4h-4zM181 289h4v4h-4zM153 317h4v24h-4zM169 317h4v4h-4zM145 333h4v28h-4z"/>
<path fill="#dcf019" d="M221 197h12v16h-12zM217 225h4v4h-4zM213 245h4v4h-4zM209 253h4v4h-4zM201 265h4v4h-4zM197 273h4v4h-4zM185 289h4v4h-4zM181 293h4v4h-4zM149 301h4v8h-4zM173 309h4v4h-4zM169 325h4v12h-4z"/>
<path fill="#f5e619" d="M213 209h4v12h-4zM209 233h4v8h-4zM205 241h4v4h-4zM201 245h4v4h-4zM197 253h4v4h-4zM193 261h4v8h-4zM149 269h4v8h-4zM189 273h4v4h-4zM185 277h4v4h-4zM145 281h4v12h-4zM153 281h4v12h-4zM177 289h4v4h-4zM173 297h4v4h-4zM169 305h4v4h-4zM165 321h4v8h-4z"/>
<path fill="#e6f019" d="M217 213h4v4h-4zM189 281h4v4h-4zM153 341h4v20h-4z"/>
<path fill="#d7f019" d="M221 213h12v4h-12zM221 217h4v4h-4zM217 229h4v4h-4zM205 261h4v4h-4zM189 285h4v4h-4zM149 309h4v8h-4zM169 337h4v24h-4z"/>
<path fill="#ffe619" d="M209 217h4v8h-4zM205 229h4v4h-4zM201 233h4v4h-4zM197 237h4v8h-4zM193 245h4v8h-4zM149 253h4v8h-4zM145 261h4v8h-4zM189 261h4v4h-4zM153 265h4v8h-4zM185 269h4v4h-4zM181 277h4v4h-4zM173 289h4v4h-4zM169 297h4v4h-4zM157 309h4v12h-4zM165 309h4v4h-4zM157 321h8v4h-8zM161 325h4v8h-4z"/>
<path fill="#e1f019" d="M217 217h4v8h-4zM213 241h4v4h-4zM209 249h4v4h-4zM205 257h4v4h-4zM201 261h4v4h-4zM197 269h4v4h-4zM193 277h4v4h-4zM149 293h4v8h-4zM177 297h4v4h-4zM173 305h4v4h-4zM169 321h4v4h-4z"/>
<path fill="#d7f519" d="M225 217h8v4h-8zM217 233h4v4h-4zM209 257h4v4h-4zM201 269h4v4h-4zM193 281h4v4h-4zM177 301h4v4h-4zM149 317h4v4h-4z"/>
<path fill="#f0eb19" d="M213 221h4v8h-4zM209 241h4v4h-4zM205 245h4v4h-4zM201 249h4v4h-4zM197 257h4v4h-4zM193 269h4v4h-4zM149 277h4v4h-4zM185 281h4v4h-4zM181 285h4v4h-4zM145 293h4v12h-4zM153 293h4v12h-4zM169 309h4v4h-4zM165 329h4v32h-4z"/>
<path fill="#d2f519" d="M221 221h12v8h-12zM217 237h4v4h-4zM213 249h4v4h-4zM205 265h4v4h-4zM197 277h4v4h-4zM173 313h4v4h-4zM149 321h4v40h-4z"/>
<path fill="#ebeb19" d="M213 229h4v8h-4zM209 245h4v4h-4zM205 249h4v4h-4zM201 253h4v4h-4zM197 261h4v4h-4zM193 273h4v4h-4zM189 277h4v4h-4zM149 281h4v8h-4zM177 293h4v4h-4zM173 301h4v4h-4zM145 305h4v28h-4zM153 305h4v12h-4zM169 313h4v4h-4z"/>
<path fill="#cdf519" d="M221 229h12v4h-12zM213 253h4v4h-4zM209 261h4v4h-4zM201 273h4v4h-4zM185 293h4v4h-4zM181 297h4v4h-4z"/>
<path fill="#c8f519" d="M221 233h4v4h-4zM217 241h4v4h-4zM189 289h4v4h-4zM177 305h4v4h-4zM173 317h4v4h-4z"/>
<path fill="#c8fa19" d="M225 233h8v4h-8zM205 269h4v4h-4zM193 285h4v4h-4z"/>
<path fill="#c3fa19" d="M221 237h12v4h-12zM217 245h4v4h-4zM213 257h4v4h-4zM209 265h4v4h-4zM197 281h4v4h-4zM173 321h4v4h-4z"/>
<path fill="#befa19" d="M221 241h4v4h-4zM217 249h4v4h-4zM201 277h4v4h-4zM181 301h4v4h-4zM177 309h4v4h-4zM173 325h4v8h-4z"/>
<path fill="#b9fa19" d="M225 241h8v4h-8z"/>
<path fill="#b4ff19" d="M221 245h12v4h-12zM217 253h4v4h-4zM197 285h4v4h-4z"/>
<path fill="#a5ff19" d="M221 249h12v4h-12z"/>
<path fill="#96ff19" d="M221 253h4v4h-4zM197 289h4v4h-4zM177 321h4v4h-4z"/>
<path fill="#91ff19" d="M225 253h8v4h-8zM213 269h4v4h-4zM201 285h4v4h-4zM181 309h4v4h-4z"/>
<path fill="#a0ff19" d="M217 257h4v4h-4zM209 273h4v4h-4zM185 301h4v4h-4zM177 317h4v4h-4z"/>
<path fill="#82ff19" d="M221 257h4v4h-4zM185 305h4v4h-4zM177 333h4v4h-4z"/>
<path fill="#7dff19" d="M225 257h8v4h-8zM193 297h4v4h-4zM189 301h4v4h-4zM181 313h4v4h-4zM177 337h4v24h-4z"/>
<path fill="#b9ff19" d="M213 261h4v4h-4zM209 269h4v4h-4zM205 273h4v4h-4zM193 289h4v4h-4zM189 293h4v4h-4zM185 297h4v4h-4zM173 333h4v28h-4z"/>
<path fill="#8cff19" d="M217 261h4v4h-4zM205 281h4v4h-4zM177 325h4v4h-4z"/>
<path fill="#6eff1e" d="M221 261h4v4h-4zM205 285h4v4h-4z"/>
<path fill="#69ff1e" d="M225 261h8v4h-8zM209 281h4v4h-4zM185 309h4v4h-4zM181 317h4v4h-4z"/>
<path fill="#aaff19" d="M213 265h4v4h-4zM205 277h4v4h-4zM181 305h4v4h-4z"/>
<path fill="#78ff1e" d="M217 265h4v4h-4zM213 273h4v4h-4zM197 293h4v4h-4z"/>
<path fill="#55ff1e" d="M221 265h4v4h-4z"/>
<path fill="#50ff1e" d="M225 265h8v4h-8zM205 289h4v4h-4zM185 313h4v4h-4z"/>
<path fill="#5aff1e" d="M217 269h4v4h-4zM213 277h4v4h-4zM201 293h4v4h-4zM181 321h4v4h-4z"/>
<path fill="#37ff1e" d="M221 269h4v4h-4zM205 293h4v4h-4zM185 317h4v4h-4z"/>
<path fill="#32ff1e" d="M225 269h8v4h-8zM197 305h4v4h-4zM193 309h4v4h-4z"/>
<path fill="#41ff1e" d="M217 273h4v4h-4zM181 329h4v4h-4zM181 341h4v4h-4z"/>
<path fill="#19ff1e" d="M221 273h4v4h-4zM205 297h4v4h-4zM193 313h4v4h-4zM185 321h4v4h-4zM185 349h4v4h-4z"/>
<path fill="#19ff23" d="M225 273h8v4h-8zM201 305h4v4h-4z"/>
<path fill="#87ff19" d="M209 277h4v4h-4zM177 329h4v4h-4z"/>
<path fill="#23ff1e" d="M217 277h4v4h-4zM197 309h4v4h-4z"/>
<path fill="#19ff41" d="M221 277h4v4h-4zM201 313h4v4h-4zM193 317h8v4h-8z"/>
<path fill="#19ff46" d="M225 277h8v4h-8zM185 341h4v4h-4zM189 349h4v4h-4zM193 353h8v8h-8z"/>
<path fill="#afff19" d="M201 281h4v4h-4zM177 313h4v4h-4z"/>
<path fill="#3cff1e" d="M213 281h4v4h-4zM201 297h4v4h-4zM181 333h4v8h-4z"/>
<path fill="#19ff37" d="M217 281h4v4h-4zM205 301h4v4h-4z"/>
<path fill="#19ff5f" d="M221 281h4v4h-4zM189 321h4v4h-4zM201 321h4v4h-4zM185 337h4v4h-4zM197 345h8v4h-8z"/>
<path fill="#19ff64" d="M225 281h8v4h-8zM213 293h4v4h-4z"/>
<path fill="#4bff1e" d="M209 285h4v4h-4zM193 305h4v4h-4zM189 309h4v4h-4zM181 325h4v4h-4zM181 349h4v12h-4z"/>
<path fill="#1eff1e" d="M213 285h4v4h-4zM185 353h4v8h-4z"/>
<path fill="#19ff5a" d="M217 285h4v4h-4zM197 321h4v4h-4z"/>
<path fill="#19ff78" d="M221 285h4v4h-4zM217 289h4v4h-4zM209 301h4v4h-4zM201 333h4v4h-4zM197 341h4v4h-4zM193 345h4v4h-4z"/>
<path fill="#19ff7d" d="M225 285h8v4h-8z"/>
<path fill="#73ff1e" d="M201 289h4v4h-4z"/>
<path fill="#2dff1e" d="M209 289h4v4h-4zM189 313h4v4h-4z"/>
<path fill="#19ff3c" d="M213 289h4v4h-4zM185 325h4v4h-4zM189 353h4v8h-4z"/>
<path fill="#19ff96" d="M221 289h12v4h-12z"/>
<path fill="#9bff19" d="M193 293h4v4h-4zM189 297h4v4h-4z"/>
<path fill="#19ff2d" d="M209 293h4v4h-4zM189 317h4v4h-4z"/>
<path fill="#19ff9b" d="M217 293h4v4h-4zM185 333h4v4h-4zM189 341h4v4h-4zM205 349h4v4h-4z"/>
<path fill="#19ffaf" d="M221 293h12v4h-12zM209 305h4v4h-4z"/>
<path fill="#5fff1e" d="M197 297h4v4h-4z"/>
<path fill="#19ff50" d="M209 297h4v4h-4zM205 305h4v4h-4zM201 317h4v4h-4zM201 353h4v8h-4z"/>
<path fill="#19ff8c" d="M213 297h4v4h-4zM205 313h4v4h-4zM205 353h4v8h-4z"/>
<path fill="#19ffc8" d="M217 297h4v4h-4z"/>
<path fill="#19ffcd" d="M221 297h12v4h-12zM213 301h4v4h-4z"/>
<path fill="#64ff1e" d="M193 301h4v4h-4zM189 305h4v4h-4z"/>
<path fill="#46ff1e" d="M197 301h4v4h-4zM181 345h4v4h-4z"/>
<path fill="#28ff1e" d="M201 301h4v4h-4z"/>
<path fill="#19faf0" d="M217 301h4v4h-4zM209 309h4v4h-4zM205 329h4v4h-4zM205 337h4v4h-4z"/>
<path fill="#19ffeb" d="M221 301h4v4h-4zM205 325h4v4h-4zM193 337h4v4h-4z"/>
<path fill="#19ffe6" d="M225 301h8v4h-8z"/>
<path fill="#19f0ff" d="M213 305h4v4h-4zM225 309h8v4h-8zM189 329h4v4h-4z"/>
<path fill="#19e6ff" d="M217 305h4v4h-4zM221 309h4v4h-4z"/>
<path fill="#19f5f5" d="M221 305h4v4h-4z"/>
<path fill="#19faf5" d="M225 305h8v4h-8zM205 333h4v4h-4z"/>
<path fill="#19ff32" d="M201 309h4v4h-4zM185 345h4v4h-4z"/>
<path fill="#19ff6e" d="M205 309h4v4h-4zM193 321h4v4h-4zM185 329h4v4h-4zM189 345h4v4h-4z"/>
<path fill="#19c8ff" d="M213 309h4v4h-4zM225 345h8v4h-8z"/>
<path fill="#19beff" d="M217 309h4v4h-4zM221 317h4v4h-4zM209 345h4v4h-4z"/>
<path fill="#19ff28" d="M197 313h4v4h-4z"/>
<path fill="#19e1ff" d="M209 313h4v4h-4zM225 313h8v4h-8zM225 353h8v8h-8z"/>
<path fill="#1991ff" d="M213 313h4v4h-4zM221 325h4v4h-4z"/>
<path fill="#1987ff" d="M217 313h4v4h-4zM209 325h4v4h-4zM209 337h4v4h-4z"/>
<path fill="#19d7ff" d="M221 313h4v4h-4zM225 349h8v4h-8zM221 353h4v8h-4z"/>
<path fill="#19ffb4" d="M205 317h4v4h-4z"/>
<path fill="#19c3ff" d="M209 317h4v4h-4z"/>
<path fill="#1950ff" d="M213 317h4v4h-4z"/>
<path fill="#1941ff" d="M217 317h4v4h-4z"/>
<path fill="#19cdff" d="M225 317h8v4h-8zM221 349h4v4h-4z"/>
<path fill="#19ffd7" d="M205 321h4v4h-4z"/>
<path fill="#19a0ff" d="M209 321h4v4h-4zM225 329h8v8h-8zM209 341h4v4h-4zM221 341h4v4h-4zM213 353h4v8h-4z"/>
<path fill="#412dff" d="M213 321h4v4h-4z"/>
<path fill="#5f28ff" d="M217 321h4v4h-4z"/>
<path fill="#19a5ff" d="M221 321h4v4h-4z"/>
<path fill="#19b9ff" d="M225 321h8v4h-8z"/>
<path fill="#19ff91" d="M189 325h4v4h-4zM197 337h4v4h-4z"/>
<path fill="#19ffa5" d="M193 325h4v4h-4zM197 329h4v4h-4z"/>
<path fill="#19ff73" d="M197 325h4v4h-4zM201 329h4v4h-4zM201 337h4v4h-4z"/>
<path fill="#19ff69" d="M201 325h4v4h-4zM201 341h4v4h-4z"/>
<path fill="#6e23ff" d="M213 325h4v4h-4z"/>
<path fill="#961efa" d="M217 325h4v4h-4zM217 337h4v4h-4z"/>
<path fill="#19aaff" d="M225 325h8v4h-8zM225 337h8v4h-8z"/>
<path fill="#19ebff" d="M193 329h4v4h-4zM209 353h4v8h-4z"/>
<path fill="#1978ff" d="M209 329h4v8h-4z"/>
<path fill="#821eff" d="M213 329h4v8h-4z"/>
<path fill="#b41ef5" d="M217 329h4v8h-4z"/>
<path fill="#1982ff" d="M221 329h4v8h-4z"/>
<path fill="#19b4ff" d="M189 333h8v4h-8zM225 341h8v4h-8zM221 345h4v4h-4z"/>
<path fill="#19ffd2" d="M197 333h4v4h-4z"/>
<path fill="#19ffdc" d="M189 337h4v4h-4zM205 341h4v4h-4z"/>
<path fill="#6e1eff" d="M213 337h4v4h-4z"/>
<path fill="#198cff" d="M221 337h4v4h-4zM213 349h4v4h-4z"/>
<path fill="#19ffaa" d="M193 341h4v4h-4z"/>
<path fill="#462dff" d="M213 341h4v4h-4z"/>
<path fill="#6423ff" d="M217 341h4v4h-4z"/>
<path fill="#19ffb9" d="M205 345h4v4h-4z"/>
<path fill="#194bff" d="M213 345h4v4h-4z"/>
<path fill="#1e3cff" d="M217 345h4v4h-4z"/>
<path fill="#19ff55" d="M193 349h4v4h-4zM201 349h4v4h-4z"/>
<path fill="#19ff4b" d="M197 349h4v4h-4z"/>
<path fill="#19dcff" d="M209 349h4v4h-4z"/>
<path fill="#197dff" d="M217 349h4v4h-4z"/>
<path fill="#1996ff" d="M217 353h4v8h-4z"/>
</g></g>
<clipPath id="cc2"><rect x="270.5" y="205.3" width="186.5" height="147.3"/></clipPath>
<g clip-path="url(#cc2)"><g filter="url(#bl)">
<path fill="#19afff" d="M262 197h12v8h-12zM454 197h12v8h-12zM262 205h24v4h-24zM446 205h8v4h-8zM290 209h8v4h-8zM426 209h12v4h-12zM302 213h8v4h-8zM402 213h16v4h-16zM314 217h76v4h-76z"/>
<path fill="#19aaff" d="M274 197h16v8h-16zM446 197h8v8h-8zM286 205h8v4h-8zM434 205h12v4h-12zM298 209h8v4h-8zM414 209h12v4h-12zM310 213h20v4h-20zM378 213h24v4h-24z"/>
<path fill="#19a5ff" d="M290 197h8v8h-8zM434 197h12v8h-12zM294 205h12v4h-12zM422 205h12v4h-12zM306 209h16v4h-16zM394 209h20v4h-20zM330 213h48v4h-48z"/>
<path fill="#19a0ff" d="M298 197h12v8h-12zM422 197h12v8h-12zM306 205h12v4h-12zM410 205h12v4h-12zM322 209h72v4h-72z"/>
<path fill="#199bff" d="M310 197h16v8h-16zM402 197h20v8h-20zM318 205h24v4h-24zM382 205h28v4h-28z"/>
<path fill="#1996ff" d="M326 197h32v8h-32zM370 197h32v8h-32zM342 205h40v4h-40z"/>
<path fill="#1991ff" d="M358 197h12v8h-12z"/>
<path fill="#19b4ff" d="M454 205h12v4h-12zM262 209h28v4h-28zM438 209h8v4h-8zM294 213h8v4h-8zM418 213h12v4h-12zM302 217h12v4h-12zM390 217h16v4h-16zM318 221h60v4h-60z"/>
<path fill="#19b9ff" d="M446 209h12v4h-12zM270 213h24v4h-24zM430 213h8v4h-8zM294 217h8v4h-8zM406 217h16v4h-16zM302 221h16v4h-16zM378 221h20v4h-20zM322 225h44v4h-44z"/>
<path fill="#19beff" d="M458 209h8v4h-8zM262 213h8v4h-8zM438 213h12v4h-12zM270 217h24v4h-24zM422 217h8v4h-8zM298 221h4v4h-4zM398 221h12v4h-12zM306 225h16v4h-16zM366 225h24v4h-24zM330 229h16v4h-16z"/>
<path fill="#19c3ff" d="M450 213h8v4h-8zM262 217h8v4h-8zM430 217h12v4h-12zM270 221h28v4h-28zM410 221h12v4h-12zM298 225h8v4h-8zM390 225h16v4h-16zM306 229h24v4h-24zM346 229h36v4h-36z"/>
<path fill="#19c8ff" d="M458 213h8v4h-8zM442 217h8v4h-8zM262 221h8v4h-8zM422 221h12v4h-12zM270 225h12v4h-12zM290 225h8v4h-8zM406 225h12v4h-12zM298 229h8v4h-8zM382 229h16v4h-16zM306 233h68v4h-68z"/>
<path fill="#19cdff" d="M450 217h16v4h-16zM434 221h8v4h-8zM262 225h8v4h-8zM282 225h8v4h-8zM418 225h12v4h-12zM262 229h20v4h-20zM290 229h8v4h-8zM398 229h12v4h-12zM298 233h8v4h-8zM374 233h20v4h-20zM306 237h64v4h-64z"/>
<path fill="#19d2ff" d="M442 221h12v4h-12zM430 225h8v4h-8zM282 229h8v4h-8zM410 229h16v4h-16zM262 233h36v4h-36zM394 233h16v4h-16zM298 237h8v4h-8zM370 237h20v4h-20zM306 241h60v4h-60z"/>
<path fill="#19d7ff" d="M454 221h12v4h-12zM438 225h12v4h-12zM426 229h8v4h-8zM410 233h12v4h-12zM262 237h36v4h-36zM390 237h16v4h-16zM262 241h12v4h-12zM298 241h8v4h-8zM366 241h24v4h-24zM302 245h68v4h-68zM310 249h28v4h-28z"/>
<path fill="#19dcff" d="M450 225h16v4h-16zM434 229h12v4h-12zM422 233h12v4h-12zM406 237h12v4h-12zM274 241h24v4h-24zM390 241h12v4h-12zM262 245h16v4h-16zM298 245h4v4h-4zM370 245h16v4h-16zM302 249h8v4h-8zM338 249h32v4h-32zM306 253h40v4h-40z"/>
<path fill="#19e1ff" d="M446 229h8v4h-8zM434 233h8v4h-8zM418 237h12v4h-12zM402 241h16v4h-16zM278 245h20v4h-20zM386 245h16v4h-16zM262 249h20v4h-20zM294 249h8v4h-8zM370 249h16v4h-16zM262 253h12v4h-12zM298 253h8v4h-8zM346 253h24v4h-24zM306 257h44v4h-44z"/>
<path fill="#19e6ff" d="M454 229h12v4h-12zM442 233h8v4h-8zM430 237h8v4h-8zM418 241h8v4h-8zM402 245h12v4h-12zM282 249h12v4h-12zM386 249h16v4h-16zM274 253h12v4h-12zM294 253h4v4h-4zM370 253h16v4h-16zM262 257h16v4h-16zM298 257h8v4h-8zM350 257h24v4h-24zM262 261h12v4h-12zM302 261h52v4h-52zM306 265h28v4h-28z"/>
<path fill="#19ebff" d="M450 233h16v4h-16zM438 237h12v4h-12zM426 241h12v4h-12zM414 245h12v4h-12zM402 249h12v4h-12zM286 253h8v4h-8zM386 253h16v4h-16zM278 257h8v4h-8zM290 257h8v4h-8zM374 257h12v4h-12zM274 261h8v4h-8zM298 261h4v4h-4zM354 261h20v4h-20zM262 265h16v4h-16zM302 265h4v4h-4zM334 265h24v4h-24zM262 269h12v4h-12zM306 269h36v4h-36zM310 273h12v4h-12z"/>
<path fill="#19f0ff" d="M450 237h16v4h-16zM438 241h8v4h-8zM426 245h8v4h-8zM414 249h8v4h-8zM402 253h12v4h-12zM286 257h4v4h-4zM386 257h16v4h-16zM282 261h16v4h-16zM374 261h16v4h-16zM278 265h8v4h-8zM294 265h8v4h-8zM358 265h20v4h-20zM274 269h8v4h-8zM298 269h8v4h-8zM342 269h20v4h-20zM262 273h16v4h-16zM302 273h8v4h-8zM322 273h28v4h-28zM262 277h12v4h-12zM306 277h28v4h-28z"/>
<path fill="#19f0fa" d="M446 241h4v4h-4zM434 245h4v4h-4zM422 249h4v4h-4zM362 269h4v4h-4zM350 273h4v4h-4zM334 277h8v4h-8zM310 281h16v4h-16z"/>
<path fill="#19f5fa" d="M450 241h4v4h-4zM438 245h8v4h-8zM426 249h8v4h-8zM414 253h8v4h-8zM402 257h12v4h-12zM390 261h12v4h-12zM286 265h8v4h-8zM378 265h12v4h-12zM282 269h4v4h-4zM290 269h8v4h-8zM366 269h12v4h-12zM278 273h4v4h-4zM298 273h4v4h-4zM354 273h16v4h-16zM274 277h8v4h-8zM298 277h8v4h-8zM342 277h16v4h-16zM262 281h16v4h-16zM302 281h8v4h-8zM326 281h20v4h-20zM262 285h12v4h-12zM306 285h28v4h-28zM262 289h8v4h-8z"/>
<path fill="#19f5f5" d="M454 241h12v4h-12zM446 245h4v4h-4zM434 249h4v4h-4zM422 253h8v4h-8zM414 257h4v4h-4zM402 261h4v4h-4zM390 265h8v4h-8zM286 269h4v4h-4zM378 269h8v4h-8zM282 273h4v4h-4zM294 273h4v4h-4zM370 273h4v4h-4zM358 277h8v4h-8zM278 281h4v4h-4zM346 281h8v4h-8zM274 285h4v4h-4zM302 285h4v4h-4zM334 285h8v4h-8zM270 289h4v4h-4zM306 289h28v4h-28zM262 293h8v4h-8z"/>
<path fill="#19faf5" d="M450 245h4v4h-4zM438 249h4v4h-4zM430 253h4v4h-4zM418 257h4v4h-4zM406 261h8v4h-8zM398 265h4v4h-4zM386 269h8v4h-8zM286 273h8v4h-8zM374 273h8v4h-8zM282 277h4v4h-4zM294 277h4v4h-4zM366 277h8v4h-8zM298 281h4v4h-4zM354 281h8v4h-8zM342 285h12v4h-12zM274 289h4v4h-4zM302 289h4v4h-4zM334 289h8v4h-8zM270 293h4v4h-4zM306 293h28v4h-28zM262 297h12v4h-12z"/>
<path fill="#19faf0" d="M454 245h12v4h-12zM442 249h8v4h-8zM434 253h8v4h-8zM422 257h8v4h-8zM414 261h8v4h-8zM402 265h12v4h-12zM394 269h8v4h-8zM382 273h12v4h-12zM286 277h8v4h-8zM374 277h8v4h-8zM282 281h16v4h-16zM362 281h12v4h-12zM278 285h4v8h-4zM298 285h4v8h-4zM354 285h12v4h-12zM342 289h16v4h-16zM274 293h4v8h-4zM302 293h4v4h-4zM334 293h16v4h-16zM306 297h36v4h-36zM262 301h12v4h-12zM310 301h20v4h-20zM262 305h8v4h-8z"/>
<path fill="#19fff0" d="M450 249h4v4h-4zM430 257h4v4h-4zM402 269h4v4h-4zM382 277h4v4h-4zM374 281h4v4h-4zM282 285h4v4h-4zM294 285h4v4h-4zM306 301h4v4h-4zM330 301h4v4h-4zM270 305h4v4h-4zM314 305h12v4h-12z"/>
<path fill="#19ffeb" d="M454 249h12v4h-12zM442 253h8v4h-8zM434 257h4v4h-4zM422 261h8v4h-8zM414 265h8v4h-8zM406 269h4v4h-4zM394 273h8v4h-8zM386 277h8v4h-8zM378 281h8v4h-8zM286 285h8v4h-8zM366 285h12v4h-12zM282 289h4v4h-4zM294 289h4v4h-4zM358 289h12v4h-12zM278 293h4v8h-4zM298 293h4v4h-4zM350 293h12v4h-12zM302 297h4v8h-4zM342 297h12v4h-12zM274 301h4v4h-4zM334 301h12v4h-12zM306 305h8v4h-8zM326 305h12v4h-12zM262 309h12v4h-12zM314 309h16v4h-16zM262 313h8v4h-8z"/>
<path fill="#19ffe1" d="M450 253h4v4h-4zM442 257h4v4h-4zM422 265h4v4h-4zM414 269h4v4h-4zM406 273h4v4h-4zM378 285h4v4h-4zM286 289h8v4h-8zM370 289h4v4h-4zM282 293h4v4h-4zM294 293h4v4h-4zM366 293h4v4h-4zM358 297h4v4h-4zM278 301h4v4h-4zM350 301h4v4h-4zM302 305h4v4h-4zM342 305h4v4h-4zM306 309h4v4h-4zM338 309h4v4h-4zM310 313h4v4h-4zM330 313h4v4h-4zM262 317h8v4h-8zM318 317h8v4h-8z"/>
<path fill="#19ffd7" d="M454 253h12v4h-12zM446 257h4v4h-4zM438 261h4v4h-4zM418 269h4v4h-4zM410 273h4v4h-4zM402 277h4v4h-4zM394 281h4v4h-4zM386 285h4v4h-4zM378 289h4v4h-4zM286 293h8v4h-8zM370 293h4v4h-4zM282 297h4v4h-4zM294 297h4v4h-4zM366 297h4v4h-4zM358 301h4v4h-4zM278 305h4v4h-4zM350 305h4v4h-4zM346 309h4v4h-4zM306 313h4v4h-4zM342 313h4v4h-4zM310 317h4v4h-4zM334 317h4v4h-4zM314 321h8v4h-8zM326 321h8v4h-8z"/>
<path fill="#19ffe6" d="M438 257h4v4h-4zM430 261h4v4h-4zM410 269h4v4h-4zM402 273h4v4h-4zM394 277h4v4h-4zM386 281h4v4h-4zM362 293h4v4h-4zM298 297h4v4h-4zM354 297h4v4h-4zM346 301h4v4h-4zM274 305h4v4h-4zM338 305h4v4h-4zM310 309h4v4h-4zM330 309h8v4h-8zM270 313h4v4h-4zM314 313h16v4h-16z"/>
<path fill="#19ffcd" d="M450 257h4v4h-4zM442 261h4v4h-4zM434 265h4v4h-4zM426 269h4v4h-4zM394 285h4v4h-4zM386 289h4v4h-4zM378 293h4v4h-4zM286 297h8v4h-8zM370 297h4v4h-4zM282 301h4v4h-4zM294 301h4v4h-4zM366 301h4v4h-4zM298 305h4v4h-4zM358 305h4v4h-4zM354 309h4v4h-4zM306 317h4v4h-4zM342 317h4v4h-4zM310 321h4v4h-4zM338 321h4v4h-4zM270 325h4v4h-4zM314 325h4v4h-4zM334 325h4v4h-4zM262 329h8v4h-8zM318 329h16v4h-16zM322 333h4v4h-4z"/>
<path fill="#19ffc8" d="M454 257h4v4h-4zM418 273h4v4h-4zM410 277h4v4h-4zM402 281h4v4h-4zM382 293h4v4h-4zM374 297h4v4h-4zM362 305h4v4h-4zM278 309h4v4h-4zM358 309h4v4h-4zM302 313h4v4h-4zM350 313h4v4h-4zM274 317h4v4h-4zM346 317h4v4h-4zM342 321h4v4h-4zM310 325h4v4h-4zM338 325h4v4h-4zM314 329h4v4h-4zM334 329h4v4h-4zM318 333h4v4h-4zM326 333h8v4h-8zM322 337h8v4h-8z"/>
<path fill="#19ffc3" d="M458 257h8v4h-8zM446 261h4v4h-4zM438 265h4v4h-4zM430 269h4v4h-4zM422 273h4v4h-4zM414 277h4v4h-4zM406 281h4v4h-4zM398 285h4v4h-4zM390 289h4v4h-4zM378 297h4v4h-4zM286 301h8v4h-8zM370 301h4v4h-4zM282 305h4v4h-4zM366 305h4v4h-4zM298 309h4v4h-4zM354 313h4v4h-4zM350 317h4v4h-4zM306 321h4v4h-4zM346 321h4v4h-4zM342 325h4v4h-4zM338 329h4v4h-4zM262 333h8v4h-8zM314 333h4v4h-4zM334 333h4v4h-4zM318 337h4v4h-4zM330 337h4v4h-4zM322 341h12v4h-12zM322 345h8v4h-8z"/>
<path fill="#19ffdc" d="M434 261h4v4h-4zM426 265h4v4h-4zM398 277h4v4h-4zM390 281h4v4h-4zM382 285h4v4h-4zM374 289h4v4h-4zM362 297h4v4h-4zM298 301h4v4h-4zM354 301h4v4h-4zM346 305h4v4h-4zM274 309h4v4h-4zM342 309h4v4h-4zM334 313h8v4h-8zM270 317h4v4h-4zM314 317h4v4h-4zM326 317h8v4h-8zM262 321h8v4h-8zM322 321h4v4h-4z"/>
<path fill="#19ffbe" d="M450 261h4v4h-4zM410 281h4v4h-4zM402 285h4v4h-4zM394 289h4v4h-4zM386 293h4v4h-4zM382 297h4v4h-4zM374 301h4v4h-4zM294 305h4v4h-4zM370 305h4v4h-4zM362 309h4v4h-4zM278 313h4v4h-4zM358 313h4v4h-4zM302 317h4v4h-4zM354 317h4v4h-4zM350 321h4v4h-4zM346 325h4v4h-4zM270 329h4v4h-4zM310 329h4v4h-4zM342 329h4v4h-4zM338 333h4v4h-4zM314 337h4v4h-4zM334 337h4v8h-4zM318 341h4v8h-4zM330 345h4v4h-4zM318 349h16v4h-16zM318 353h12v8h-12z"/>
<path fill="#19ffb4" d="M454 261h4v4h-4zM446 265h4v4h-4zM438 269h4v4h-4zM430 273h4v4h-4zM422 277h4v4h-4zM414 281h4v4h-4zM406 285h4v4h-4zM394 293h4v4h-4zM386 297h4v4h-4zM382 301h4v4h-4zM286 305h8v4h-8zM374 305h4v4h-4zM282 309h4v4h-4zM294 309h4v4h-4zM370 309h4v4h-4zM298 313h4v4h-4zM366 313h4v4h-4zM310 333h4v4h-4zM346 333h4v4h-4zM342 337h4v4h-4zM314 345h4v16h-4zM338 345h4v4h-4zM262 353h8v8h-8zM334 353h4v8h-4z"/>
<path fill="#19ffaf" d="M458 261h8v4h-8zM418 281h4v4h-4zM410 285h4v4h-4zM402 289h4v4h-4zM390 297h4v4h-4zM378 305h4v4h-4zM374 309h4v4h-4zM278 317h4v4h-4zM362 317h4v4h-4zM302 321h4v4h-4zM358 321h4v4h-4zM354 325h4v4h-4zM350 329h4v4h-4zM270 333h4v4h-4zM310 337h4v4h-4zM346 337h4v4h-4zM262 341h8v4h-8zM342 341h4v8h-4zM262 349h8v4h-8zM338 349h4v12h-4z"/>
<path fill="#19ffd2" d="M430 265h4v4h-4zM422 269h4v4h-4zM414 273h4v4h-4zM406 277h4v4h-4zM398 281h4v4h-4zM390 285h4v4h-4zM382 289h4v4h-4zM374 293h4v4h-4zM362 301h4v4h-4zM354 305h4v4h-4zM302 309h4v4h-4zM350 309h4v4h-4zM274 313h4v4h-4zM346 313h4v4h-4zM338 317h4v4h-4zM270 321h4v4h-4zM334 321h4v4h-4zM262 325h8v4h-8zM318 325h16v4h-16z"/>
<path fill="#19ffb9" d="M442 265h4v4h-4zM434 269h4v4h-4zM426 273h4v4h-4zM418 277h4v4h-4zM398 289h4v4h-4zM390 293h4v4h-4zM378 301h4v4h-4zM366 309h4v4h-4zM362 313h4v4h-4zM358 317h4v4h-4zM274 321h4v4h-4zM354 321h4v4h-4zM306 325h4v4h-4zM350 325h4v4h-4zM346 329h4v4h-4zM342 333h4v4h-4zM262 337h8v4h-8zM338 337h4v8h-4zM314 341h4v4h-4zM334 345h4v8h-4zM330 353h4v8h-4z"/>
<path fill="#19ffaa" d="M450 265h4v4h-4zM442 269h4v4h-4zM434 273h4v4h-4zM426 277h4v4h-4zM406 289h4v4h-4zM398 293h4v4h-4zM386 301h4v4h-4zM382 305h4v4h-4zM286 309h8v4h-8zM282 313h4v4h-4zM370 313h4v4h-4zM366 317h4v4h-4zM362 321h4v4h-4zM358 325h4v4h-4zM306 329h4v4h-4zM354 329h4v4h-4zM350 333h4v8h-4zM310 341h4v4h-4zM346 341h4v4h-4zM262 345h8v4h-8zM342 349h4v12h-4z"/>
<path fill="#19ffa0" d="M454 265h12v4h-12zM446 269h4v4h-4zM438 273h4v4h-4zM418 285h4v4h-4zM410 289h4v4h-4zM398 297h4v4h-4zM386 305h4v4h-4zM382 309h4v4h-4zM358 333h4v4h-4zM354 337h4v4h-4zM350 345h4v4h-4zM346 353h4v8h-4z"/>
<path fill="#19ff9b" d="M450 269h4v4h-4zM442 273h4v4h-4zM434 277h4v4h-4zM426 281h4v4h-4zM414 289h4v4h-4zM406 293h4v4h-4zM394 301h4v4h-4zM390 305h4v4h-4zM286 313h4v4h-4zM378 313h4v4h-4zM374 317h4v4h-4zM370 321h4v4h-4zM366 325h4v4h-4zM362 329h4v4h-4zM270 337h4v4h-4zM358 337h4v4h-4zM354 341h4v4h-4zM350 349h4v12h-4z"/>
<path fill="#19ff91" d="M454 269h4v4h-4zM446 273h4v4h-4zM438 277h4v4h-4zM418 289h4v4h-4zM406 297h4v4h-4zM394 305h4v4h-4zM390 309h4v4h-4zM282 317h4v4h-4zM366 333h4v4h-4zM362 337h4v4h-4zM358 345h4v4h-4zM270 353h4v8h-4zM354 353h4v8h-4z"/>
<path fill="#19ff8c" d="M458 269h8v4h-8zM442 277h4v4h-4zM434 281h4v4h-4zM426 285h4v4h-4zM414 293h4v4h-4zM402 301h4v4h-4zM398 305h4v4h-4zM386 313h4v4h-4zM294 317h4v4h-4zM382 317h4v4h-4zM298 321h4v4h-4zM378 321h4v4h-4zM374 325h4v4h-4zM370 329h4v4h-4zM366 337h4v4h-4zM270 341h4v4h-4zM362 341h4v4h-4zM270 349h4v4h-4zM358 349h4v12h-4z"/>
<path fill="#19ff87" d="M450 273h4v4h-4zM430 285h4v4h-4zM422 289h4v4h-4zM418 293h4v4h-4zM410 297h4v4h-4zM406 301h4v4h-4zM394 309h4v4h-4zM390 313h4v4h-4zM386 317h4v4h-4zM382 321h4v4h-4zM378 325h4v4h-4zM374 329h4v4h-4zM370 333h4v4h-4zM306 337h4v4h-4zM366 341h4v4h-4zM270 345h4v4h-4zM362 345h4v8h-4z"/>
<path fill="#19ff82" d="M454 273h4v4h-4zM446 277h4v4h-4zM438 281h4v4h-4zM426 289h4v4h-4zM414 297h4v4h-4zM402 305h4v4h-4zM398 309h4v4h-4zM394 313h4v4h-4zM286 317h4v4h-4zM390 317h4v4h-4zM382 325h4v4h-4zM274 329h4v4h-4zM378 329h4v4h-4zM374 333h4v4h-4zM370 337h4v4h-4zM366 345h4v4h-4zM362 353h4v8h-4z"/>
<path fill="#19ff7d" d="M458 273h8v4h-8zM450 277h4v4h-4zM442 281h4v4h-4zM434 285h4v4h-4zM430 289h4v4h-4zM422 293h4v4h-4zM418 297h4v4h-4zM410 301h4v4h-4zM406 305h4v4h-4zM402 309h4v4h-4zM290 317h4v4h-4zM386 321h4v4h-4zM378 333h4v4h-4zM374 337h4v4h-4zM370 341h4v8h-4zM366 349h4v12h-4z"/>
<path fill="#19ffa5" d="M430 277h4v4h-4zM422 281h4v4h-4zM414 285h4v4h-4zM402 293h4v4h-4zM394 297h4v4h-4zM390 301h4v4h-4zM378 309h4v4h-4zM294 313h4v4h-4zM374 313h4v4h-4zM298 317h4v4h-4zM370 317h4v4h-4zM366 321h4v4h-4zM274 325h4v4h-4zM362 325h4v4h-4zM358 329h4v4h-4zM354 333h4v4h-4zM350 341h4v4h-4zM310 345h4v16h-4zM346 345h4v8h-4z"/>
<path fill="#19ff73" d="M454 277h12v4h-12zM446 281h4v4h-4zM434 289h4v4h-4zM422 297h4v4h-4zM418 301h4v4h-4zM406 309h4v4h-4zM402 313h4v4h-4zM398 317h4v4h-4zM394 321h4v4h-4zM390 325h4v4h-4zM302 329h4v4h-4zM386 329h4v4h-4zM382 333h4v4h-4zM378 341h4v4h-4zM306 345h4v8h-4zM374 345h4v4h-4z"/>
<path fill="#19ff96" d="M430 281h4v4h-4zM422 285h4v4h-4zM410 293h4v4h-4zM402 297h4v4h-4zM398 301h4v4h-4zM386 309h4v4h-4zM290 313h4v4h-4zM382 313h4v4h-4zM378 317h4v4h-4zM278 321h4v4h-4zM374 321h4v4h-4zM302 325h4v4h-4zM370 325h4v4h-4zM366 329h4v4h-4zM306 333h4v4h-4zM362 333h4v4h-4zM358 341h4v4h-4zM354 345h4v8h-4z"/>
<path fill="#19ff6e" d="M450 281h4v4h-4zM442 285h4v4h-4zM438 289h4v4h-4zM430 293h4v4h-4zM426 297h4v4h-4zM414 305h4v4h-4zM410 309h4v4h-4zM406 313h4v4h-4zM390 329h4v4h-4zM386 333h4v4h-4zM382 337h4v4h-4zM378 345h4v4h-4zM374 349h4v12h-4z"/>
<path fill="#19ff64" d="M454 281h12v4h-12zM442 289h4v4h-4zM430 297h4v4h-4zM426 301h4v4h-4zM414 309h4v4h-4zM410 313h4v4h-4zM406 317h4v4h-4zM294 321h4v4h-4zM402 321h4v4h-4zM278 325h4v4h-4zM398 325h4v4h-4zM394 329h4v4h-4zM390 333h4v4h-4zM386 341h4v4h-4zM382 345h4v4h-4z"/>
<path fill="#19ff78" d="M438 285h4v4h-4zM426 293h4v4h-4zM414 301h4v4h-4zM410 305h4v4h-4zM398 313h4v4h-4zM394 317h4v4h-4zM390 321h4v4h-4zM386 325h4v4h-4zM382 329h4v4h-4zM378 337h4v4h-4zM306 341h4v4h-4zM374 341h4v4h-4zM370 349h4v12h-4zM306 353h4v8h-4z"/>
<path fill="#19ff69" d="M446 285h4v4h-4zM434 293h4v4h-4zM422 301h4v4h-4zM418 305h4v4h-4zM402 317h4v4h-4zM282 321h4v4h-4zM398 321h4v4h-4zM394 325h4v4h-4zM386 337h4v4h-4zM382 341h4v4h-4zM378 349h4v12h-4z"/>
<path fill="#19ff5f" d="M450 285h4v4h-4zM438 293h4v4h-4zM434 297h4v4h-4zM422 305h4v4h-4zM418 309h4v4h-4zM414 313h4v4h-4zM398 329h4v4h-4zM394 333h4v4h-4zM390 337h4v4h-4zM386 345h4v4h-4zM382 349h4v12h-4z"/>
<path fill="#19ff5a" d="M454 285h4v4h-4zM446 289h4v4h-4zM442 293h4v4h-4zM430 301h4v4h-4zM426 305h4v4h-4zM410 317h4v4h-4zM406 321h4v4h-4zM298 325h4v4h-4zM402 325h4v4h-4zM394 337h4v4h-4zM390 341h4v4h-4zM386 349h4v4h-4z"/>
<path fill="#19ff55" d="M458 285h8v4h-8zM450 289h4v4h-4zM438 297h4v4h-4zM422 309h4v4h-4zM418 313h4v4h-4zM414 317h4v4h-4zM410 321h4v4h-4zM406 325h4v4h-4zM402 329h4v4h-4zM398 333h4v4h-4zM394 341h4v4h-4zM390 345h4v4h-4zM386 353h4v8h-4z"/>
<path fill="#19ff4b" d="M454 289h12v4h-12zM442 297h4v4h-4zM438 301h4v4h-4zM422 313h4v4h-4zM418 317h4v4h-4zM414 321h4v4h-4zM410 325h4v4h-4zM406 329h4v4h-4zM398 341h4v4h-4zM394 349h4v4h-4z"/>
<path fill="#19ff50" d="M446 293h4v4h-4zM434 301h4v4h-4zM430 305h4v4h-4zM426 309h4v4h-4zM274 333h4v4h-4zM402 333h4v4h-4zM398 337h4v4h-4zM394 345h4v4h-4zM390 349h4v12h-4z"/>
<path fill="#19ff46" d="M450 293h4v4h-4zM446 297h4v4h-4zM434 305h4v4h-4zM430 309h4v4h-4zM426 313h4v4h-4zM422 317h4v4h-4zM286 321h8v4h-8zM418 321h4v4h-4zM414 325h4v4h-4zM410 329h4v4h-4zM406 333h4v4h-4zM402 337h4v4h-4zM398 345h4v4h-4zM394 353h4v8h-4z"/>
<path fill="#19ff41" d="M454 293h4v4h-4zM442 301h4v4h-4zM438 305h4v4h-4zM302 333h4v4h-4zM406 337h4v4h-4zM402 341h4v4h-4zM398 349h4v4h-4z"/>
<path fill="#19ff3c" d="M458 293h8v4h-8zM450 297h4v4h-4zM434 309h4v4h-4zM430 313h4v4h-4zM426 317h4v4h-4zM422 321h4v4h-4zM418 325h4v4h-4zM414 329h4v4h-4zM410 333h4v4h-4zM406 341h4v4h-4zM402 345h4v4h-4zM398 353h4v8h-4z"/>
<path fill="#19ff32" d="M454 297h12v4h-12zM450 301h4v4h-4zM434 313h4v4h-4zM430 317h4v4h-4zM426 321h4v4h-4zM422 325h4v4h-4zM418 329h4v4h-4zM410 341h4v4h-4zM406 345h4v4h-4z"/>
<path fill="#19ff37" d="M446 301h4v4h-4zM442 305h4v4h-4zM438 309h4v4h-4zM414 333h4v4h-4zM410 337h4v4h-4zM402 349h4v12h-4z"/>
<path fill="#19ff28" d="M454 301h4v4h-4zM430 321h4v4h-4zM418 337h4v4h-4zM414 341h4v4h-4zM410 349h4v4h-4z"/>
<path fill="#19ff23" d="M458 301h8v4h-8zM450 305h4v4h-4zM446 309h4v4h-4zM442 313h4v4h-4zM438 317h4v4h-4zM434 321h4v4h-4zM430 325h4v4h-4zM426 329h4v4h-4zM422 333h4v4h-4zM414 345h4v4h-4zM410 353h4v8h-4z"/>
<path fill="#19ff2d" d="M446 305h4v4h-4zM442 309h4v4h-4zM438 313h4v4h-4zM434 317h4v4h-4zM426 325h4v4h-4zM422 329h4v4h-4zM418 333h4v4h-4zM414 337h4v4h-4zM410 345h4v4h-4zM406 349h4v12h-4z"/>
<path fill="#1eff1e" d="M454 305h12v4h-12zM450 309h4v4h-4zM446 313h4v4h-4zM442 317h4v4h-4zM438 321h4v4h-4zM434 325h4v4h-4zM430 329h4v4h-4zM426 333h4v4h-4zM274 337h4v4h-4zM418 345h4v4h-4zM414 353h4v8h-4z"/>
<path fill="#23ff1e" d="M454 309h4v4h-4zM430 333h4v4h-4zM426 337h4v4h-4zM422 341h4v4h-4zM418 349h4v4h-4z"/>
<path fill="#28ff1e" d="M458 309h8v4h-8zM450 313h4v4h-4zM446 317h4v4h-4zM442 321h4v4h-4zM282 325h4v4h-4zM438 325h4v4h-4zM278 329h4v4h-4zM434 329h4v4h-4zM426 341h4v4h-4zM422 345h4v4h-4zM418 353h4v8h-4z"/>
<path fill="#2dff1e" d="M454 313h4v4h-4zM450 317h4v4h-4zM446 321h4v4h-4zM294 325h4v4h-4zM442 325h4v4h-4zM438 329h4v4h-4zM434 333h4v4h-4zM302 337h4v4h-4zM430 337h4v4h-4zM426 345h4v4h-4zM422 349h4v12h-4z"/>
<path fill="#32ff1e" d="M458 313h8v4h-8zM298 329h4v4h-4zM434 337h4v4h-4zM430 341h4v4h-4z"/>
<path fill="#37ff1e" d="M454 317h4v4h-4zM450 321h4v4h-4zM446 325h4v4h-4zM442 329h4v4h-4zM438 333h4v4h-4zM430 345h4v4h-4zM426 349h4v12h-4zM274 353h4v8h-4z"/>
<path fill="#3cff1e" d="M458 317h8v4h-8zM442 333h4v4h-4zM438 337h4v4h-4zM434 341h4v4h-4zM430 349h4v4h-4z"/>
<path fill="#41ff1e" d="M454 321h12v4h-12zM450 325h4v4h-4zM446 329h4v4h-4zM438 341h4v4h-4zM434 345h4v4h-4zM430 353h4v8h-4z"/>
<path fill="#64ff1e" d="M286 325h8v4h-8zM458 337h8v4h-8zM302 345h4v4h-4zM450 345h4v4h-4zM446 349h4v12h-4z"/>
<path fill="#4bff1e" d="M454 325h12v4h-12zM442 341h4v4h-4zM438 345h4v4h-4zM434 353h4v8h-4z"/>
<path fill="#afff19" d="M282 329h4v4h-4zM294 329h4v4h-4z"/>
<path fill="#e6eb19" d="M286 329h8v4h-8z"/>
<path fill="#46ff1e" d="M450 329h4v4h-4zM446 333h4v4h-4zM442 337h4v4h-4zM274 341h4v4h-4zM274 349h4v4h-4zM434 349h4v4h-4zM302 353h4v8h-4z"/>
<path fill="#50ff1e" d="M454 329h4v4h-4zM450 333h4v4h-4zM446 337h4v4h-4zM302 341h4v4h-4zM274 345h4v4h-4zM438 349h4v12h-4z"/>
<path fill="#55ff1e" d="M458 329h8v4h-8zM450 337h4v4h-4zM446 341h4v4h-4zM442 345h4v4h-4zM302 349h4v4h-4z"/>
<path fill="#91ff19" d="M278 333h4v4h-4z"/>
<path fill="#ffd719" d="M282 333h4v4h-4zM294 333h4v4h-4zM298 349h4v4h-4z"/>
<path fill="#ffa019" d="M286 333h8v4h-8z"/>
<path fill="#96ff19" d="M298 333h4v4h-4z"/>
<path fill="#5aff1e" d="M454 333h12v4h-12zM446 345h4v4h-4zM442 349h4v12h-4z"/>
<path fill="#dcf019" d="M278 337h4v4h-4z"/>
<path fill="#ff9b19" d="M282 337h4v4h-4z"/>
<path fill="#ff5a19" d="M286 337h8v4h-8zM294 345h4v4h-4z"/>
<path fill="#ff9619" d="M294 337h4v4h-4z"/>
<path fill="#e1f019" d="M298 337h4v4h-4z"/>
<path fill="#19ff1e" d="M422 337h4v4h-4zM418 341h4v4h-4zM414 349h4v4h-4z"/>
<path fill="#5fff1e" d="M454 337h4v4h-4zM450 341h4v4h-4z"/>
<path fill="#ffdc19" d="M278 341h4v4h-4zM298 341h4v4h-4zM278 349h4v4h-4z"/>
<path fill="#ff6e19" d="M282 341h4v4h-4zM282 349h4v4h-4z"/>
<path fill="#ff3719" d="M286 341h8v4h-8zM286 349h8v4h-8z"/>
<path fill="#ff6919" d="M294 341h4v4h-4zM294 349h4v4h-4z"/>
<path fill="#69ff1e" d="M454 341h12v4h-12z"/>
<path fill="#ffd219" d="M278 345h4v4h-4z"/>
<path fill="#ff5f19" d="M282 345h4v4h-4z"/>
<path fill="#ff3219" d="M286 345h8v4h-8z"/>
<path fill="#ffcd19" d="M298 345h4v4h-4z"/>
<path fill="#6eff1e" d="M454 345h4v4h-4zM450 349h4v12h-4z"/>
<path fill="#73ff1e" d="M458 345h8v4h-8z"/>
<path fill="#78ff1e" d="M454 349h12v4h-12zM454 353h4v8h-4z"/>
<path fill="#fae619" d="M278 353h4v8h-4z"/>
<path fill="#ff7d19" d="M282 353h4v8h-4z"/>
<path fill="#ff4119" d="M286 353h8v8h-8z"/>
<path fill="#ff7819" d="M294 353h4v8h-4z"/>
<path fill="#ffe619" d="M298 353h4v8h-4z"/>
<path fill="#7dff19" d="M458 353h8v8h-8z"/>
</g></g>
<line x1="37.5" y1="15.2" x2="37.5" y2="163.8" stroke="#3a3a3a" stroke-width="1"/>
<line x1="37" y1="163.3" x2="224.3" y2="163.3" stroke="#3a3a3a" stroke-width="1.2"/>
<line x1="34.5" y1="163.3" x2="37.5" y2="163.3" stroke="#3a3a3a" stroke-width="0.8"/>
<line x1="35.9" y1="153.8" x2="37.5" y2="153.8" stroke="#3a3a3a" stroke-width="0.6"/>
<line x1="35.9" y1="148.3" x2="37.5" y2="148.3" stroke="#3a3a3a" stroke-width="0.6"/>
<line x1="35.9" y1="144.4" x2="37.5" y2="144.4" stroke="#3a3a3a" stroke-width="0.6"/>
<line x1="35.9" y1="141.3" x2="37.5" y2="141.3" stroke="#3a3a3a" stroke-width="0.6"/>
<line x1="35.9" y1="138.8" x2="37.5" y2="138.8" stroke="#3a3a3a" stroke-width="0.6"/>
<line x1="35.9" y1="136.7" x2="37.5" y2="136.7" stroke="#3a3a3a" stroke-width="0.6"/>
<line x1="35.9" y1="134.9" x2="37.5" y2="134.9" stroke="#3a3a3a" stroke-width="0.6"/>
<line x1="35.9" y1="133.3" x2="37.5" y2="133.3" stroke="#3a3a3a" stroke-width="0.6"/>
<text x="33" y="167.2" font-size="9" text-anchor="end" fill="#222">10<tspan dy="-3.6" font-size="6">&#8722;4</tspan></text>
<line x1="34.5" y1="131.9" x2="37.5" y2="131.9" stroke="#3a3a3a" stroke-width="0.8"/>
<line x1="35.9" y1="122.4" x2="37.5" y2="122.4" stroke="#3a3a3a" stroke-width="0.6"/>
<line x1="35.9" y1="116.8" x2="37.5" y2="116.8" stroke="#3a3a3a" stroke-width="0.6"/>
<line x1="35.9" y1="112.9" x2="37.5" y2="112.9" stroke="#3a3a3a" stroke-width="0.6"/>
<line x1="35.9" y1="109.9" x2="37.5" y2="109.9" stroke="#3a3a3a" stroke-width="0.6"/>
<line x1="35.9" y1="107.4" x2="37.5" y2="107.4" stroke="#3a3a3a" stroke-width="0.6"/>
<line x1="35.9" y1="105.3" x2="37.5" y2="105.3" stroke="#3a3a3a" stroke-width="0.6"/>
<line x1="35.9" y1="103.4" x2="37.5" y2="103.4" stroke="#3a3a3a" stroke-width="0.6"/>
<line x1="35.9" y1="101.8" x2="37.5" y2="101.8" stroke="#3a3a3a" stroke-width="0.6"/>
<text x="33" y="135.8" font-size="9" text-anchor="end" fill="#222">10<tspan dy="-3.6" font-size="6">&#8722;3</tspan></text>
<line x1="34.5" y1="100.4" x2="37.5" y2="100.4" stroke="#3a3a3a" stroke-width="0.8"/>
<line x1="35.9" y1="90.9" x2="37.5" y2="90.9" stroke="#3a3a3a" stroke-width="0.6"/>
<line x1="35.9" y1="85.4" x2="37.5" y2="85.4" stroke="#3a3a3a" stroke-width="0.6"/>
<line x1="35.9" y1="81.5" x2="37.5" y2="81.5" stroke="#3a3a3a" stroke-width="0.6"/>
<line x1="35.9" y1="78.4" x2="37.5" y2="78.4" stroke="#3a3a3a" stroke-width="0.6"/>
<line x1="35.9" y1="75.9" x2="37.5" y2="75.9" stroke="#3a3a3a" stroke-width="0.6"/>
<line x1="35.9" y1="73.8" x2="37.5" y2="73.8" stroke="#3a3a3a" stroke-width="0.6"/>
<line x1="35.9" y1="72" x2="37.5" y2="72" stroke="#3a3a3a" stroke-width="0.6"/>
<line x1="35.9" y1="70.4" x2="37.5" y2="70.4" stroke="#3a3a3a" stroke-width="0.6"/>
<text x="33" y="104.3" font-size="9" text-anchor="end" fill="#222">10<tspan dy="-3.6" font-size="6">&#8722;2</tspan></text>
<line x1="34.5" y1="69" x2="37.5" y2="69" stroke="#3a3a3a" stroke-width="0.8"/>
<line x1="35.9" y1="59.5" x2="37.5" y2="59.5" stroke="#3a3a3a" stroke-width="0.6"/>
<line x1="35.9" y1="53.9" x2="37.5" y2="53.9" stroke="#3a3a3a" stroke-width="0.6"/>
<line x1="35.9" y1="50" x2="37.5" y2="50" stroke="#3a3a3a" stroke-width="0.6"/>
<line x1="35.9" y1="47" x2="37.5" y2="47" stroke="#3a3a3a" stroke-width="0.6"/>
<line x1="35.9" y1="44.5" x2="37.5" y2="44.5" stroke="#3a3a3a" stroke-width="0.6"/>
<line x1="35.9" y1="42.4" x2="37.5" y2="42.4" stroke="#3a3a3a" stroke-width="0.6"/>
<line x1="35.9" y1="40.5" x2="37.5" y2="40.5" stroke="#3a3a3a" stroke-width="0.6"/>
<line x1="35.9" y1="38.9" x2="37.5" y2="38.9" stroke="#3a3a3a" stroke-width="0.6"/>
<text x="33" y="72.9" font-size="9" text-anchor="end" fill="#222">10<tspan dy="-3.6" font-size="6">&#8722;1</tspan></text>
<line x1="34.5" y1="37.5" x2="37.5" y2="37.5" stroke="#3a3a3a" stroke-width="0.8"/>
<line x1="35.9" y1="28" x2="37.5" y2="28" stroke="#3a3a3a" stroke-width="0.6"/>
<line x1="35.9" y1="22.5" x2="37.5" y2="22.5" stroke="#3a3a3a" stroke-width="0.6"/>
<line x1="35.9" y1="18.6" x2="37.5" y2="18.6" stroke="#3a3a3a" stroke-width="0.6"/>
<line x1="35.9" y1="15.5" x2="37.5" y2="15.5" stroke="#3a3a3a" stroke-width="0.6"/>
<text x="33" y="41.4" font-size="9" text-anchor="end" fill="#222">10<tspan dy="-3.6" font-size="6">0</tspan></text>
<line x1="58.2" y1="163.3" x2="58.2" y2="166.3" stroke="#3a3a3a" stroke-width="0.8"/>
<text x="58.2" y="175.3" font-size="9" text-anchor="middle" fill="#1a1a1a" >400</text>
<line x1="78.9" y1="163.3" x2="78.9" y2="164.9" stroke="#3a3a3a" stroke-width="0.6"/>
<line x1="99.6" y1="163.3" x2="99.6" y2="166.3" stroke="#3a3a3a" stroke-width="0.8"/>
<text x="99.6" y="175.3" font-size="9" text-anchor="middle" fill="#1a1a1a" >500</text>
<line x1="120.3" y1="163.3" x2="120.3" y2="164.9" stroke="#3a3a3a" stroke-width="0.6"/>
<line x1="141" y1="163.3" x2="141" y2="166.3" stroke="#3a3a3a" stroke-width="0.8"/>
<text x="141" y="175.3" font-size="9" text-anchor="middle" fill="#1a1a1a" >600</text>
<line x1="161.7" y1="163.3" x2="161.7" y2="164.9" stroke="#3a3a3a" stroke-width="0.6"/>
<line x1="182.4" y1="163.3" x2="182.4" y2="166.3" stroke="#3a3a3a" stroke-width="0.8"/>
<text x="182.4" y="175.3" font-size="9" text-anchor="middle" fill="#1a1a1a" >700</text>
<line x1="203.1" y1="163.3" x2="203.1" y2="164.9" stroke="#3a3a3a" stroke-width="0.6"/>
<line x1="223.8" y1="163.3" x2="223.8" y2="166.3" stroke="#3a3a3a" stroke-width="0.8"/>
<text x="223.8" y="175.3" font-size="9" text-anchor="middle" fill="#1a1a1a" >800</text>
<line x1="270.5" y1="15.4" x2="270.5" y2="163.8" stroke="#3a3a3a" stroke-width="1"/>
<line x1="270" y1="163.3" x2="457.5" y2="163.3" stroke="#3a3a3a" stroke-width="1.2"/>
<line x1="267.5" y1="163.3" x2="270.5" y2="163.3" stroke="#3a3a3a" stroke-width="0.8"/>
<line x1="268.9" y1="153.8" x2="270.5" y2="153.8" stroke="#3a3a3a" stroke-width="0.6"/>
<line x1="268.9" y1="148.3" x2="270.5" y2="148.3" stroke="#3a3a3a" stroke-width="0.6"/>
<line x1="268.9" y1="144.4" x2="270.5" y2="144.4" stroke="#3a3a3a" stroke-width="0.6"/>
<line x1="268.9" y1="141.3" x2="270.5" y2="141.3" stroke="#3a3a3a" stroke-width="0.6"/>
<line x1="268.9" y1="138.8" x2="270.5" y2="138.8" stroke="#3a3a3a" stroke-width="0.6"/>
<line x1="268.9" y1="136.7" x2="270.5" y2="136.7" stroke="#3a3a3a" stroke-width="0.6"/>
<line x1="268.9" y1="134.9" x2="270.5" y2="134.9" stroke="#3a3a3a" stroke-width="0.6"/>
<line x1="268.9" y1="133.3" x2="270.5" y2="133.3" stroke="#3a3a3a" stroke-width="0.6"/>
<text x="266" y="167.2" font-size="9" text-anchor="end" fill="#222">10<tspan dy="-3.6" font-size="6">&#8722;4</tspan></text>
<line x1="267.5" y1="131.9" x2="270.5" y2="131.9" stroke="#3a3a3a" stroke-width="0.8"/>
<line x1="268.9" y1="122.4" x2="270.5" y2="122.4" stroke="#3a3a3a" stroke-width="0.6"/>
<line x1="268.9" y1="116.8" x2="270.5" y2="116.8" stroke="#3a3a3a" stroke-width="0.6"/>
<line x1="268.9" y1="112.9" x2="270.5" y2="112.9" stroke="#3a3a3a" stroke-width="0.6"/>
<line x1="268.9" y1="109.9" x2="270.5" y2="109.9" stroke="#3a3a3a" stroke-width="0.6"/>
<line x1="268.9" y1="107.4" x2="270.5" y2="107.4" stroke="#3a3a3a" stroke-width="0.6"/>
<line x1="268.9" y1="105.3" x2="270.5" y2="105.3" stroke="#3a3a3a" stroke-width="0.6"/>
<line x1="268.9" y1="103.4" x2="270.5" y2="103.4" stroke="#3a3a3a" stroke-width="0.6"/>
<line x1="268.9" y1="101.8" x2="270.5" y2="101.8" stroke="#3a3a3a" stroke-width="0.6"/>
<text x="266" y="135.8" font-size="9" text-anchor="end" fill="#222">10<tspan dy="-3.6" font-size="6">&#8722;3</tspan></text>
<line x1="267.5" y1="100.4" x2="270.5" y2="100.4" stroke="#3a3a3a" stroke-width="0.8"/>
<line x1="268.9" y1="90.9" x2="270.5" y2="90.9" stroke="#3a3a3a" stroke-width="0.6"/>
<line x1="268.9" y1="85.4" x2="270.5" y2="85.4" stroke="#3a3a3a" stroke-width="0.6"/>
<line x1="268.9" y1="81.5" x2="270.5" y2="81.5" stroke="#3a3a3a" stroke-width="0.6"/>
<line x1="268.9" y1="78.4" x2="270.5" y2="78.4" stroke="#3a3a3a" stroke-width="0.6"/>
<line x1="268.9" y1="75.9" x2="270.5" y2="75.9" stroke="#3a3a3a" stroke-width="0.6"/>
<line x1="268.9" y1="73.8" x2="270.5" y2="73.8" stroke="#3a3a3a" stroke-width="0.6"/>
<line x1="268.9" y1="72" x2="270.5" y2="72" stroke="#3a3a3a" stroke-width="0.6"/>
<line x1="268.9" y1="70.4" x2="270.5" y2="70.4" stroke="#3a3a3a" stroke-width="0.6"/>
<text x="266" y="104.3" font-size="9" text-anchor="end" fill="#222">10<tspan dy="-3.6" font-size="6">&#8722;2</tspan></text>
<line x1="267.5" y1="69" x2="270.5" y2="69" stroke="#3a3a3a" stroke-width="0.8"/>
<line x1="268.9" y1="59.5" x2="270.5" y2="59.5" stroke="#3a3a3a" stroke-width="0.6"/>
<line x1="268.9" y1="53.9" x2="270.5" y2="53.9" stroke="#3a3a3a" stroke-width="0.6"/>
<line x1="268.9" y1="50" x2="270.5" y2="50" stroke="#3a3a3a" stroke-width="0.6"/>
<line x1="268.9" y1="47" x2="270.5" y2="47" stroke="#3a3a3a" stroke-width="0.6"/>
<line x1="268.9" y1="44.5" x2="270.5" y2="44.5" stroke="#3a3a3a" stroke-width="0.6"/>
<line x1="268.9" y1="42.4" x2="270.5" y2="42.4" stroke="#3a3a3a" stroke-width="0.6"/>
<line x1="268.9" y1="40.5" x2="270.5" y2="40.5" stroke="#3a3a3a" stroke-width="0.6"/>
<line x1="268.9" y1="38.9" x2="270.5" y2="38.9" stroke="#3a3a3a" stroke-width="0.6"/>
<text x="266" y="72.9" font-size="9" text-anchor="end" fill="#222">10<tspan dy="-3.6" font-size="6">&#8722;1</tspan></text>
<line x1="267.5" y1="37.5" x2="270.5" y2="37.5" stroke="#3a3a3a" stroke-width="0.8"/>
<line x1="268.9" y1="28" x2="270.5" y2="28" stroke="#3a3a3a" stroke-width="0.6"/>
<line x1="268.9" y1="22.5" x2="270.5" y2="22.5" stroke="#3a3a3a" stroke-width="0.6"/>
<line x1="268.9" y1="18.6" x2="270.5" y2="18.6" stroke="#3a3a3a" stroke-width="0.6"/>
<line x1="268.9" y1="15.5" x2="270.5" y2="15.5" stroke="#3a3a3a" stroke-width="0.6"/>
<text x="266" y="41.4" font-size="9" text-anchor="end" fill="#222">10<tspan dy="-3.6" font-size="6">0</tspan></text>
<line x1="287.5" y1="163.3" x2="287.5" y2="166.3" stroke="#3a3a3a" stroke-width="0.8"/>
<text x="287.5" y="175.3" font-size="9" text-anchor="middle" fill="#1a1a1a" >900</text>
<line x1="304.4" y1="163.3" x2="304.4" y2="164.9" stroke="#3a3a3a" stroke-width="0.6"/>
<line x1="321.4" y1="163.3" x2="321.4" y2="166.3" stroke="#3a3a3a" stroke-width="0.8"/>
<text x="321.4" y="175.3" font-size="9" text-anchor="middle" fill="#1a1a1a" >1000</text>
<line x1="338.3" y1="163.3" x2="338.3" y2="164.9" stroke="#3a3a3a" stroke-width="0.6"/>
<line x1="355.3" y1="163.3" x2="355.3" y2="166.3" stroke="#3a3a3a" stroke-width="0.8"/>
<text x="355.3" y="175.3" font-size="9" text-anchor="middle" fill="#1a1a1a" >1100</text>
<line x1="372.2" y1="163.3" x2="372.2" y2="164.9" stroke="#3a3a3a" stroke-width="0.6"/>
<line x1="389.2" y1="163.3" x2="389.2" y2="166.3" stroke="#3a3a3a" stroke-width="0.8"/>
<text x="389.2" y="175.3" font-size="9" text-anchor="middle" fill="#1a1a1a" >1200</text>
<line x1="406.1" y1="163.3" x2="406.1" y2="164.9" stroke="#3a3a3a" stroke-width="0.6"/>
<line x1="423.1" y1="163.3" x2="423.1" y2="166.3" stroke="#3a3a3a" stroke-width="0.8"/>
<text x="423.1" y="175.3" font-size="9" text-anchor="middle" fill="#1a1a1a" >1300</text>
<line x1="440" y1="163.3" x2="440" y2="164.9" stroke="#3a3a3a" stroke-width="0.6"/>
<line x1="457" y1="163.3" x2="457" y2="166.3" stroke="#3a3a3a" stroke-width="0.8"/>
<text x="457" y="175.3" font-size="9" text-anchor="middle" fill="#1a1a1a" >1400</text>
<line x1="37.5" y1="204.8" x2="37.5" y2="353.1" stroke="#3a3a3a" stroke-width="1"/>
<line x1="37" y1="352.6" x2="224.3" y2="352.6" stroke="#3a3a3a" stroke-width="1.2"/>
<line x1="34.5" y1="352.6" x2="37.5" y2="352.6" stroke="#3a3a3a" stroke-width="0.8"/>
<line x1="35.9" y1="343.1" x2="37.5" y2="343.1" stroke="#3a3a3a" stroke-width="0.6"/>
<line x1="35.9" y1="337.6" x2="37.5" y2="337.6" stroke="#3a3a3a" stroke-width="0.6"/>
<line x1="35.9" y1="333.7" x2="37.5" y2="333.7" stroke="#3a3a3a" stroke-width="0.6"/>
<line x1="35.9" y1="330.6" x2="37.5" y2="330.6" stroke="#3a3a3a" stroke-width="0.6"/>
<line x1="35.9" y1="328.1" x2="37.5" y2="328.1" stroke="#3a3a3a" stroke-width="0.6"/>
<line x1="35.9" y1="326" x2="37.5" y2="326" stroke="#3a3a3a" stroke-width="0.6"/>
<line x1="35.9" y1="324.2" x2="37.5" y2="324.2" stroke="#3a3a3a" stroke-width="0.6"/>
<line x1="35.9" y1="322.6" x2="37.5" y2="322.6" stroke="#3a3a3a" stroke-width="0.6"/>
<text x="33" y="356.5" font-size="9" text-anchor="end" fill="#222">10<tspan dy="-3.6" font-size="6">&#8722;4</tspan></text>
<line x1="34.5" y1="321.2" x2="37.5" y2="321.2" stroke="#3a3a3a" stroke-width="0.8"/>
<line x1="35.9" y1="311.7" x2="37.5" y2="311.7" stroke="#3a3a3a" stroke-width="0.6"/>
<line x1="35.9" y1="306.1" x2="37.5" y2="306.1" stroke="#3a3a3a" stroke-width="0.6"/>
<line x1="35.9" y1="302.2" x2="37.5" y2="302.2" stroke="#3a3a3a" stroke-width="0.6"/>
<line x1="35.9" y1="299.2" x2="37.5" y2="299.2" stroke="#3a3a3a" stroke-width="0.6"/>
<line x1="35.9" y1="296.7" x2="37.5" y2="296.7" stroke="#3a3a3a" stroke-width="0.6"/>
<line x1="35.9" y1="294.6" x2="37.5" y2="294.6" stroke="#3a3a3a" stroke-width="0.6"/>
<line x1="35.9" y1="292.7" x2="37.5" y2="292.7" stroke="#3a3a3a" stroke-width="0.6"/>
<line x1="35.9" y1="291.1" x2="37.5" y2="291.1" stroke="#3a3a3a" stroke-width="0.6"/>
<text x="33" y="325.1" font-size="9" text-anchor="end" fill="#222">10<tspan dy="-3.6" font-size="6">&#8722;3</tspan></text>
<line x1="34.5" y1="289.7" x2="37.5" y2="289.7" stroke="#3a3a3a" stroke-width="0.8"/>
<line x1="35.9" y1="280.2" x2="37.5" y2="280.2" stroke="#3a3a3a" stroke-width="0.6"/>
<line x1="35.9" y1="274.7" x2="37.5" y2="274.7" stroke="#3a3a3a" stroke-width="0.6"/>
<line x1="35.9" y1="270.8" x2="37.5" y2="270.8" stroke="#3a3a3a" stroke-width="0.6"/>
<line x1="35.9" y1="267.7" x2="37.5" y2="267.7" stroke="#3a3a3a" stroke-width="0.6"/>
<line x1="35.9" y1="265.2" x2="37.5" y2="265.2" stroke="#3a3a3a" stroke-width="0.6"/>
<line x1="35.9" y1="263.1" x2="37.5" y2="263.1" stroke="#3a3a3a" stroke-width="0.6"/>
<line x1="35.9" y1="261.3" x2="37.5" y2="261.3" stroke="#3a3a3a" stroke-width="0.6"/>
<line x1="35.9" y1="259.7" x2="37.5" y2="259.7" stroke="#3a3a3a" stroke-width="0.6"/>
<text x="33" y="293.6" font-size="9" text-anchor="end" fill="#222">10<tspan dy="-3.6" font-size="6">&#8722;2</tspan></text>
<line x1="34.5" y1="258.2" x2="37.5" y2="258.2" stroke="#3a3a3a" stroke-width="0.8"/>
<line x1="35.9" y1="248.8" x2="37.5" y2="248.8" stroke="#3a3a3a" stroke-width="0.6"/>
<line x1="35.9" y1="243.2" x2="37.5" y2="243.2" stroke="#3a3a3a" stroke-width="0.6"/>
<line x1="35.9" y1="239.3" x2="37.5" y2="239.3" stroke="#3a3a3a" stroke-width="0.6"/>
<line x1="35.9" y1="236.3" x2="37.5" y2="236.3" stroke="#3a3a3a" stroke-width="0.6"/>
<line x1="35.9" y1="233.8" x2="37.5" y2="233.8" stroke="#3a3a3a" stroke-width="0.6"/>
<line x1="35.9" y1="231.7" x2="37.5" y2="231.7" stroke="#3a3a3a" stroke-width="0.6"/>
<line x1="35.9" y1="229.8" x2="37.5" y2="229.8" stroke="#3a3a3a" stroke-width="0.6"/>
<line x1="35.9" y1="228.2" x2="37.5" y2="228.2" stroke="#3a3a3a" stroke-width="0.6"/>
<text x="33" y="262.1" font-size="9" text-anchor="end" fill="#222">10<tspan dy="-3.6" font-size="6">&#8722;1</tspan></text>
<line x1="34.5" y1="226.8" x2="37.5" y2="226.8" stroke="#3a3a3a" stroke-width="0.8"/>
<line x1="35.9" y1="217.3" x2="37.5" y2="217.3" stroke="#3a3a3a" stroke-width="0.6"/>
<line x1="35.9" y1="211.8" x2="37.5" y2="211.8" stroke="#3a3a3a" stroke-width="0.6"/>
<line x1="35.9" y1="207.9" x2="37.5" y2="207.9" stroke="#3a3a3a" stroke-width="0.6"/>
<line x1="35.9" y1="204.8" x2="37.5" y2="204.8" stroke="#3a3a3a" stroke-width="0.6"/>
<text x="33" y="230.7" font-size="9" text-anchor="end" fill="#222">10<tspan dy="-3.6" font-size="6">0</tspan></text>
<line x1="58.2" y1="352.6" x2="58.2" y2="355.6" stroke="#3a3a3a" stroke-width="0.8"/>
<text x="58.2" y="364.6" font-size="9" text-anchor="middle" fill="#1a1a1a" >400</text>
<line x1="78.9" y1="352.6" x2="78.9" y2="354.2" stroke="#3a3a3a" stroke-width="0.6"/>
<line x1="99.6" y1="352.6" x2="99.6" y2="355.6" stroke="#3a3a3a" stroke-width="0.8"/>
<text x="99.6" y="364.6" font-size="9" text-anchor="middle" fill="#1a1a1a" >500</text>
<line x1="120.3" y1="352.6" x2="120.3" y2="354.2" stroke="#3a3a3a" stroke-width="0.6"/>
<line x1="141" y1="352.6" x2="141" y2="355.6" stroke="#3a3a3a" stroke-width="0.8"/>
<text x="141" y="364.6" font-size="9" text-anchor="middle" fill="#1a1a1a" >600</text>
<line x1="161.7" y1="352.6" x2="161.7" y2="354.2" stroke="#3a3a3a" stroke-width="0.6"/>
<line x1="182.4" y1="352.6" x2="182.4" y2="355.6" stroke="#3a3a3a" stroke-width="0.8"/>
<text x="182.4" y="364.6" font-size="9" text-anchor="middle" fill="#1a1a1a" >700</text>
<line x1="203.1" y1="352.6" x2="203.1" y2="354.2" stroke="#3a3a3a" stroke-width="0.6"/>
<line x1="223.8" y1="352.6" x2="223.8" y2="355.6" stroke="#3a3a3a" stroke-width="0.8"/>
<text x="223.8" y="364.6" font-size="9" text-anchor="middle" fill="#1a1a1a" >800</text>
<line x1="270.5" y1="204.8" x2="270.5" y2="353.1" stroke="#3a3a3a" stroke-width="1"/>
<line x1="270" y1="352.6" x2="457.5" y2="352.6" stroke="#3a3a3a" stroke-width="1.2"/>
<line x1="267.5" y1="352.6" x2="270.5" y2="352.6" stroke="#3a3a3a" stroke-width="0.8"/>
<line x1="268.9" y1="343.1" x2="270.5" y2="343.1" stroke="#3a3a3a" stroke-width="0.6"/>
<line x1="268.9" y1="337.6" x2="270.5" y2="337.6" stroke="#3a3a3a" stroke-width="0.6"/>
<line x1="268.9" y1="333.7" x2="270.5" y2="333.7" stroke="#3a3a3a" stroke-width="0.6"/>
<line x1="268.9" y1="330.6" x2="270.5" y2="330.6" stroke="#3a3a3a" stroke-width="0.6"/>
<line x1="268.9" y1="328.1" x2="270.5" y2="328.1" stroke="#3a3a3a" stroke-width="0.6"/>
<line x1="268.9" y1="326" x2="270.5" y2="326" stroke="#3a3a3a" stroke-width="0.6"/>
<line x1="268.9" y1="324.2" x2="270.5" y2="324.2" stroke="#3a3a3a" stroke-width="0.6"/>
<line x1="268.9" y1="322.6" x2="270.5" y2="322.6" stroke="#3a3a3a" stroke-width="0.6"/>
<text x="266" y="356.5" font-size="9" text-anchor="end" fill="#222">10<tspan dy="-3.6" font-size="6">&#8722;4</tspan></text>
<line x1="267.5" y1="321.2" x2="270.5" y2="321.2" stroke="#3a3a3a" stroke-width="0.8"/>
<line x1="268.9" y1="311.7" x2="270.5" y2="311.7" stroke="#3a3a3a" stroke-width="0.6"/>
<line x1="268.9" y1="306.1" x2="270.5" y2="306.1" stroke="#3a3a3a" stroke-width="0.6"/>
<line x1="268.9" y1="302.2" x2="270.5" y2="302.2" stroke="#3a3a3a" stroke-width="0.6"/>
<line x1="268.9" y1="299.2" x2="270.5" y2="299.2" stroke="#3a3a3a" stroke-width="0.6"/>
<line x1="268.9" y1="296.7" x2="270.5" y2="296.7" stroke="#3a3a3a" stroke-width="0.6"/>
<line x1="268.9" y1="294.6" x2="270.5" y2="294.6" stroke="#3a3a3a" stroke-width="0.6"/>
<line x1="268.9" y1="292.7" x2="270.5" y2="292.7" stroke="#3a3a3a" stroke-width="0.6"/>
<line x1="268.9" y1="291.1" x2="270.5" y2="291.1" stroke="#3a3a3a" stroke-width="0.6"/>
<text x="266" y="325.1" font-size="9" text-anchor="end" fill="#222">10<tspan dy="-3.6" font-size="6">&#8722;3</tspan></text>
<line x1="267.5" y1="289.7" x2="270.5" y2="289.7" stroke="#3a3a3a" stroke-width="0.8"/>
<line x1="268.9" y1="280.2" x2="270.5" y2="280.2" stroke="#3a3a3a" stroke-width="0.6"/>
<line x1="268.9" y1="274.7" x2="270.5" y2="274.7" stroke="#3a3a3a" stroke-width="0.6"/>
<line x1="268.9" y1="270.8" x2="270.5" y2="270.8" stroke="#3a3a3a" stroke-width="0.6"/>
<line x1="268.9" y1="267.7" x2="270.5" y2="267.7" stroke="#3a3a3a" stroke-width="0.6"/>
<line x1="268.9" y1="265.2" x2="270.5" y2="265.2" stroke="#3a3a3a" stroke-width="0.6"/>
<line x1="268.9" y1="263.1" x2="270.5" y2="263.1" stroke="#3a3a3a" stroke-width="0.6"/>
<line x1="268.9" y1="261.3" x2="270.5" y2="261.3" stroke="#3a3a3a" stroke-width="0.6"/>
<line x1="268.9" y1="259.7" x2="270.5" y2="259.7" stroke="#3a3a3a" stroke-width="0.6"/>
<text x="266" y="293.6" font-size="9" text-anchor="end" fill="#222">10<tspan dy="-3.6" font-size="6">&#8722;2</tspan></text>
<line x1="267.5" y1="258.2" x2="270.5" y2="258.2" stroke="#3a3a3a" stroke-width="0.8"/>
<line x1="268.9" y1="248.8" x2="270.5" y2="248.8" stroke="#3a3a3a" stroke-width="0.6"/>
<line x1="268.9" y1="243.2" x2="270.5" y2="243.2" stroke="#3a3a3a" stroke-width="0.6"/>
<line x1="268.9" y1="239.3" x2="270.5" y2="239.3" stroke="#3a3a3a" stroke-width="0.6"/>
<line x1="268.9" y1="236.3" x2="270.5" y2="236.3" stroke="#3a3a3a" stroke-width="0.6"/>
<line x1="268.9" y1="233.8" x2="270.5" y2="233.8" stroke="#3a3a3a" stroke-width="0.6"/>
<line x1="268.9" y1="231.7" x2="270.5" y2="231.7" stroke="#3a3a3a" stroke-width="0.6"/>
<line x1="268.9" y1="229.8" x2="270.5" y2="229.8" stroke="#3a3a3a" stroke-width="0.6"/>
<line x1="268.9" y1="228.2" x2="270.5" y2="228.2" stroke="#3a3a3a" stroke-width="0.6"/>
<text x="266" y="262.1" font-size="9" text-anchor="end" fill="#222">10<tspan dy="-3.6" font-size="6">&#8722;1</tspan></text>
<line x1="267.5" y1="226.8" x2="270.5" y2="226.8" stroke="#3a3a3a" stroke-width="0.8"/>
<line x1="268.9" y1="217.3" x2="270.5" y2="217.3" stroke="#3a3a3a" stroke-width="0.6"/>
<line x1="268.9" y1="211.8" x2="270.5" y2="211.8" stroke="#3a3a3a" stroke-width="0.6"/>
<line x1="268.9" y1="207.9" x2="270.5" y2="207.9" stroke="#3a3a3a" stroke-width="0.6"/>
<line x1="268.9" y1="204.8" x2="270.5" y2="204.8" stroke="#3a3a3a" stroke-width="0.6"/>
<text x="266" y="230.7" font-size="9" text-anchor="end" fill="#222">10<tspan dy="-3.6" font-size="6">0</tspan></text>
<line x1="287.5" y1="352.6" x2="287.5" y2="355.6" stroke="#3a3a3a" stroke-width="0.8"/>
<text x="287.5" y="364.6" font-size="9" text-anchor="middle" fill="#1a1a1a" >900</text>
<line x1="304.4" y1="352.6" x2="304.4" y2="354.2" stroke="#3a3a3a" stroke-width="0.6"/>
<line x1="321.4" y1="352.6" x2="321.4" y2="355.6" stroke="#3a3a3a" stroke-width="0.8"/>
<text x="321.4" y="364.6" font-size="9" text-anchor="middle" fill="#1a1a1a" >1000</text>
<line x1="338.3" y1="352.6" x2="338.3" y2="354.2" stroke="#3a3a3a" stroke-width="0.6"/>
<line x1="355.3" y1="352.6" x2="355.3" y2="355.6" stroke="#3a3a3a" stroke-width="0.8"/>
<text x="355.3" y="364.6" font-size="9" text-anchor="middle" fill="#1a1a1a" >1100</text>
<line x1="372.2" y1="352.6" x2="372.2" y2="354.2" stroke="#3a3a3a" stroke-width="0.6"/>
<line x1="389.2" y1="352.6" x2="389.2" y2="355.6" stroke="#3a3a3a" stroke-width="0.8"/>
<text x="389.2" y="364.6" font-size="9" text-anchor="middle" fill="#1a1a1a" >1200</text>
<line x1="406.1" y1="352.6" x2="406.1" y2="354.2" stroke="#3a3a3a" stroke-width="0.6"/>
<line x1="423.1" y1="352.6" x2="423.1" y2="355.6" stroke="#3a3a3a" stroke-width="0.8"/>
<text x="423.1" y="364.6" font-size="9" text-anchor="middle" fill="#1a1a1a" >1300</text>
<line x1="440" y1="352.6" x2="440" y2="354.2" stroke="#3a3a3a" stroke-width="0.6"/>
<line x1="457" y1="352.6" x2="457" y2="355.6" stroke="#3a3a3a" stroke-width="0.8"/>
<text x="457" y="364.6" font-size="9" text-anchor="middle" fill="#1a1a1a" >1400</text>
<text transform="translate(6.5,91.3) rotate(-90)" font-size="9" text-anchor="middle" fill="#222">Time (ns)</text>
<text transform="translate(239.5,91.5) rotate(-90)" font-size="9" text-anchor="middle" fill="#222">Time (ns)</text>
<text transform="translate(6.5,283) rotate(-90)" font-size="9" text-anchor="middle" fill="#222">Time (ns)</text>
<text transform="translate(239.5,283) rotate(-90)" font-size="9" text-anchor="middle" fill="#222">Time (ns)</text>
<text x="130" y="189" font-size="9" text-anchor="middle" fill="#1a1a1a" >Wavelength (nm)</text>
<text x="351" y="189" font-size="9" text-anchor="middle" fill="#1a1a1a" >Wavelength (nm)</text>
<text x="117.7" y="378" font-size="9" text-anchor="middle" fill="#1a1a1a" >Wavelength (nm)</text>
<text x="364" y="378" font-size="9" text-anchor="middle" fill="#1a1a1a" >Wavelength (nm)</text>
<text x="43.8" y="31" font-size="8.65" text-anchor="start" fill="#1a1a1a" >BTR:L8-BO 4:6 NPs</text>
<text x="279" y="31" font-size="8.65" text-anchor="start" fill="#1a1a1a" >BTR:L8-BO 4:6 NPs</text>
<text x="43.5" y="217.5" font-size="8.65" text-anchor="start" fill="#1a1a1a" >PM6:L8-BO 4:6 NPs</text>
<text x="279.7" y="217.5" font-size="8.65" text-anchor="start" fill="#1a1a1a" >PM6:L8-BO 4:6 NPs</text>
<text x="87.6" y="146.5" font-size="8.7" text-anchor="start" fill="#1a1a1a" >Reduced</text>
<text x="87.6" y="157" font-size="8.7" text-anchor="start" fill="#1a1a1a" >L8-BO</text>
<text x="87.9" y="330" font-size="8.7" text-anchor="start" fill="#1a1a1a" >Reduced</text>
<text x="87.9" y="341" font-size="8.7" text-anchor="start" fill="#1a1a1a" >L8-BO</text>
<text x="188.8" y="112" font-size="8.7" text-anchor="start" fill="#1a1a1a" >L8-BO</text>
<text x="188.8" y="122" font-size="8.7" text-anchor="start" fill="#1a1a1a" >GSB</text>
<text x="195.5" y="301" font-size="8.7" text-anchor="start" fill="#1a1a1a" >L8-BO</text>
<text x="195.5" y="311" font-size="8.7" text-anchor="start" fill="#1a1a1a" >GSB</text>
<text x="281.7" y="115" font-size="8.7" text-anchor="start" fill="#1a1a1a" >L8-BO</text>
<text x="281.7" y="125.5" font-size="8.7" text-anchor="start" fill="#1a1a1a" >LE state</text>
<text x="400" y="115" font-size="8.7" text-anchor="start" fill="#1a1a1a" >L8-BO</text>
<text x="400" y="125.5" font-size="8.7" text-anchor="start" fill="#1a1a1a" >i-Ex state</text>
<text x="286.6" y="300.5" font-size="8.7" text-anchor="start" fill="#1a1a1a" >L8-BO</text>
<text x="286.6" y="311" font-size="8.7" text-anchor="start" fill="#1a1a1a" >LE state</text>
<text x="408.7" y="300.5" font-size="8.7" text-anchor="start" fill="#1a1a1a" >L8-BO</text>
<text x="408.7" y="311" font-size="8.7" text-anchor="start" fill="#1a1a1a" >i-Ex state</text>
<linearGradient id="cba" x1="0" x2="1" y1="0" y2="0">
<stop offset="0.00" stop-color="#000000"/>
<stop offset="0.05" stop-color="#610977"/>
<stop offset="0.10" stop-color="#d71ef0"/>
<stop offset="0.15" stop-color="#9c1ef9"/>
<stop offset="0.20" stop-color="#5d27ff"/>
<stop offset="0.25" stop-color="#1a3cff"/>
<stop offset="0.30" stop-color="#1a7cff"/>
<stop offset="0.35" stop-color="#1ab7ff"/>
<stop offset="0.40" stop-color="#1ae7ff"/>
<stop offset="0.45" stop-color="#1affc2"/>
<stop offset="0.50" stop-color="#1aff4a"/>
<stop offset="0.55" stop-color="#54ff1c"/>
<stop offset="0.60" stop-color="#b4ff1a"/>
<stop offset="0.65" stop-color="#eeea1a"/>
<stop offset="0.70" stop-color="#ffc41a"/>
<stop offset="0.75" stop-color="#ff951a"/>
<stop offset="0.80" stop-color="#ff5d1a"/>
<stop offset="0.85" stop-color="#ff2816"/>
<stop offset="0.90" stop-color="#ff4c4c"/>
<stop offset="0.95" stop-color="#ffa8a8"/>
<stop offset="1.00" stop-color="#ffffff"/>
</linearGradient>
<rect x="153.5" y="42.3" width="62.5" height="17.2" fill="url(#cba)" stroke="#111" stroke-width="1.4"/>
<line x1="153.5" y1="35.8" x2="153.5" y2="42.3" stroke="#111" stroke-width="1"/>
<text x="153.5" y="32.3" font-size="9" text-anchor="middle" fill="#111" >-10</text>
<line x1="169.1" y1="38.8" x2="169.1" y2="42.3" stroke="#111" stroke-width="1"/>
<line x1="184.8" y1="35.8" x2="184.8" y2="42.3" stroke="#111" stroke-width="1"/>
<text x="184.8" y="32.3" font-size="9" text-anchor="middle" fill="#111" >-2.5</text>
<line x1="200.4" y1="38.8" x2="200.4" y2="42.3" stroke="#111" stroke-width="1"/>
<line x1="216" y1="35.8" x2="216" y2="42.3" stroke="#111" stroke-width="1"/>
<text x="216" y="32.3" font-size="9" text-anchor="middle" fill="#111" >5</text>
<text x="182.8" y="54.1" font-size="8.8" text-anchor="middle" fill="#2a1a3a" >&#916;A (mOD)</text>
<linearGradient id="cba2" x1="0" x2="1" y1="0" y2="0">
<stop offset="0.00" stop-color="#1aff8c"/>
<stop offset="0.05" stop-color="#1aff52"/>
<stop offset="0.10" stop-color="#20ff1e"/>
<stop offset="0.15" stop-color="#53ff1d"/>
<stop offset="0.20" stop-color="#86ff1b"/>
<stop offset="0.25" stop-color="#b7fe1a"/>
<stop offset="0.30" stop-color="#d5f31a"/>
<stop offset="0.35" stop-color="#f4e81a"/>
<stop offset="0.40" stop-color="#ffd41a"/>
<stop offset="0.45" stop-color="#ffbc1a"/>
<stop offset="0.50" stop-color="#ffa31a"/>
<stop offset="0.55" stop-color="#ff8a1a"/>
<stop offset="0.60" stop-color="#ff6b1a"/>
<stop offset="0.65" stop-color="#ff4c1a"/>
<stop offset="0.70" stop-color="#ff3117"/>
<stop offset="0.75" stop-color="#ff1714"/>
<stop offset="0.80" stop-color="#ff4141"/>
<stop offset="0.85" stop-color="#ff7272"/>
<stop offset="0.90" stop-color="#ffa2a2"/>
<stop offset="0.95" stop-color="#ffd1d1"/>
<stop offset="1.00" stop-color="#ffffff"/>
</linearGradient>
<rect x="394.5" y="43" width="56.2" height="18.5" fill="url(#cba2)" stroke="#111" stroke-width="1.4"/>
<line x1="394.5" y1="36.5" x2="394.5" y2="43" stroke="#111" stroke-width="1"/>
<text x="394.5" y="33" font-size="9" text-anchor="middle" fill="#111" >0</text>
<line x1="408.6" y1="39.5" x2="408.6" y2="43" stroke="#111" stroke-width="1"/>
<line x1="422.6" y1="36.5" x2="422.6" y2="43" stroke="#111" stroke-width="1"/>
<text x="422.6" y="33" font-size="9" text-anchor="middle" fill="#111" >10</text>
<line x1="436.6" y1="39.5" x2="436.6" y2="43" stroke="#111" stroke-width="1"/>
<line x1="450.7" y1="36.5" x2="450.7" y2="43" stroke="#111" stroke-width="1"/>
<text x="450.7" y="33" font-size="9" text-anchor="middle" fill="#111" >20</text>
<text x="420.6" y="55.5" font-size="8.8" text-anchor="middle" fill="#2a1a3a" >&#916;A (mOD)</text>
<linearGradient id="cbc" x1="0" x2="1" y1="0" y2="0">
<stop offset="0.00" stop-color="#000000"/>
<stop offset="0.05" stop-color="#610977"/>
<stop offset="0.10" stop-color="#d71ef0"/>
<stop offset="0.15" stop-color="#9c1ef9"/>
<stop offset="0.20" stop-color="#5d27ff"/>
<stop offset="0.25" stop-color="#1a3cff"/>
<stop offset="0.30" stop-color="#1a7cff"/>
<stop offset="0.35" stop-color="#1ab7ff"/>
<stop offset="0.40" stop-color="#1ae7ff"/>
<stop offset="0.45" stop-color="#1affc2"/>
<stop offset="0.50" stop-color="#1aff4a"/>
<stop offset="0.55" stop-color="#54ff1c"/>
<stop offset="0.60" stop-color="#b4ff1a"/>
<stop offset="0.65" stop-color="#eeea1a"/>
<stop offset="0.70" stop-color="#ffc41a"/>
<stop offset="0.75" stop-color="#ff951a"/>
<stop offset="0.80" stop-color="#ff5d1a"/>
<stop offset="0.85" stop-color="#ff2816"/>
<stop offset="0.90" stop-color="#ff4c4c"/>
<stop offset="0.95" stop-color="#ffa8a8"/>
<stop offset="1.00" stop-color="#ffffff"/>
</linearGradient>
<rect x="153.5" y="225.8" width="62.5" height="17.4" fill="url(#cbc)" stroke="#111" stroke-width="1.4"/>
<line x1="153.5" y1="219.3" x2="153.5" y2="225.8" stroke="#111" stroke-width="1"/>
<text x="153.5" y="215.8" font-size="9" text-anchor="middle" fill="#111" >-10</text>
<line x1="169.1" y1="222.3" x2="169.1" y2="225.8" stroke="#111" stroke-width="1"/>
<line x1="184.8" y1="219.3" x2="184.8" y2="225.8" stroke="#111" stroke-width="1"/>
<text x="184.8" y="215.8" font-size="9" text-anchor="middle" fill="#111" >-2.5</text>
<line x1="200.4" y1="222.3" x2="200.4" y2="225.8" stroke="#111" stroke-width="1"/>
<line x1="216" y1="219.3" x2="216" y2="225.8" stroke="#111" stroke-width="1"/>
<text x="216" y="215.8" font-size="9" text-anchor="middle" fill="#111" >5</text>
<text x="182.8" y="237.7" font-size="8.8" text-anchor="middle" fill="#2a1a3a" >&#916;A (mOD)</text>
<linearGradient id="cbc2" x1="0" x2="1" y1="0" y2="0">
<stop offset="0.00" stop-color="#1aff8c"/>
<stop offset="0.05" stop-color="#1aff52"/>
<stop offset="0.10" stop-color="#20ff1e"/>
<stop offset="0.15" stop-color="#53ff1d"/>
<stop offset="0.20" stop-color="#86ff1b"/>
<stop offset="0.25" stop-color="#b7fe1a"/>
<stop offset="0.30" stop-color="#d5f31a"/>
<stop offset="0.35" stop-color="#f4e81a"/>
<stop offset="0.40" stop-color="#ffd41a"/>
<stop offset="0.45" stop-color="#ffbc1a"/>
<stop offset="0.50" stop-color="#ffa31a"/>
<stop offset="0.55" stop-color="#ff8a1a"/>
<stop offset="0.60" stop-color="#ff6b1a"/>
<stop offset="0.65" stop-color="#ff4c1a"/>
<stop offset="0.70" stop-color="#ff3117"/>
<stop offset="0.75" stop-color="#ff1714"/>
<stop offset="0.80" stop-color="#ff4141"/>
<stop offset="0.85" stop-color="#ff7272"/>
<stop offset="0.90" stop-color="#ffa2a2"/>
<stop offset="0.95" stop-color="#ffd1d1"/>
<stop offset="1.00" stop-color="#ffffff"/>
</linearGradient>
<rect x="394.5" y="226.8" width="56.2" height="17.7" fill="url(#cbc2)" stroke="#111" stroke-width="1.4"/>
<line x1="394.5" y1="220.3" x2="394.5" y2="226.8" stroke="#111" stroke-width="1"/>
<text x="394.5" y="216.8" font-size="9" text-anchor="middle" fill="#111" >0</text>
<line x1="408.6" y1="223.3" x2="408.6" y2="226.8" stroke="#111" stroke-width="1"/>
<line x1="422.6" y1="220.3" x2="422.6" y2="226.8" stroke="#111" stroke-width="1"/>
<text x="422.6" y="216.8" font-size="9" text-anchor="middle" fill="#111" >10</text>
<line x1="436.6" y1="223.3" x2="436.6" y2="226.8" stroke="#111" stroke-width="1"/>
<line x1="450.7" y1="220.3" x2="450.7" y2="226.8" stroke="#111" stroke-width="1"/>
<text x="450.7" y="216.8" font-size="9" text-anchor="middle" fill="#111" >20</text>
<text x="420.6" y="238.8" font-size="8.8" text-anchor="middle" fill="#2a1a3a" >&#916;A (mOD)</text>
<line x1="493.5" y1="158.9" x2="496.5" y2="158.9" stroke="#555" stroke-width="0.9"/>
<text x="492" y="162" font-size="8.5" text-anchor="end" fill="#1a1a1a" >&#8722;5</text>
<line x1="494.7" y1="144.7" x2="496.5" y2="144.7" stroke="#555" stroke-width="0.7"/>
<line x1="493.5" y1="130.5" x2="496.5" y2="130.5" stroke="#555" stroke-width="0.9"/>
<text x="492" y="133.6" font-size="8.5" text-anchor="end" fill="#1a1a1a" >0</text>
<line x1="494.7" y1="116.3" x2="496.5" y2="116.3" stroke="#555" stroke-width="0.7"/>
<line x1="493.5" y1="102.1" x2="496.5" y2="102.1" stroke="#555" stroke-width="0.9"/>
<text x="492" y="105.2" font-size="8.5" text-anchor="end" fill="#1a1a1a" >5</text>
<line x1="494.7" y1="87.9" x2="496.5" y2="87.9" stroke="#555" stroke-width="0.7"/>
<line x1="493.5" y1="73.7" x2="496.5" y2="73.7" stroke="#555" stroke-width="0.9"/>
<text x="492" y="76.8" font-size="8.5" text-anchor="end" fill="#1a1a1a" >10</text>
<line x1="494.7" y1="59.4" x2="496.5" y2="59.4" stroke="#555" stroke-width="0.7"/>
<line x1="493.5" y1="45.2" x2="496.5" y2="45.2" stroke="#555" stroke-width="0.9"/>
<text x="492" y="48.3" font-size="8.5" text-anchor="end" fill="#1a1a1a" >15</text>
<line x1="494.7" y1="31" x2="496.5" y2="31" stroke="#555" stroke-width="0.7"/>
<line x1="493.5" y1="16.8" x2="496.5" y2="16.8" stroke="#555" stroke-width="0.9"/>
<text x="492" y="19.9" font-size="8.5" text-anchor="end" fill="#1a1a1a" >20</text>
<line x1="506.1" y1="164.5" x2="506.1" y2="167.5" stroke="#555" stroke-width="0.9"/>
<text x="506.1" y="175" font-size="8.5" text-anchor="middle" fill="#1a1a1a" >400</text>
<line x1="525.5" y1="164.5" x2="525.5" y2="166.3" stroke="#555" stroke-width="0.7"/>
<line x1="544.8" y1="164.5" x2="544.8" y2="167.5" stroke="#555" stroke-width="0.9"/>
<text x="544.8" y="175" font-size="8.5" text-anchor="middle" fill="#1a1a1a" >600</text>
<line x1="564" y1="164.5" x2="564" y2="166.3" stroke="#555" stroke-width="0.7"/>
<line x1="594.5" y1="164.5" x2="594.5" y2="166.3" stroke="#555" stroke-width="0.7"/>
<line x1="613.6" y1="164.5" x2="613.6" y2="167.5" stroke="#555" stroke-width="0.9"/>
<text x="613.6" y="175" font-size="8.5" text-anchor="middle" fill="#1a1a1a" >1000</text>
<line x1="632.6" y1="164.5" x2="632.6" y2="166.3" stroke="#555" stroke-width="0.7"/>
<line x1="651.7" y1="164.5" x2="651.7" y2="167.5" stroke="#555" stroke-width="0.9"/>
<text x="651.7" y="175" font-size="8.5" text-anchor="middle" fill="#1a1a1a" >1200</text>
<line x1="670.8" y1="164.5" x2="670.8" y2="166.3" stroke="#555" stroke-width="0.7"/>
<rect x="580" y="161.5" width="6" height="6" fill="#fff"/>
<line x1="580.5" y1="167" x2="583.5" y2="162" stroke="#555" stroke-width="0.9"/>
<line x1="583.5" y1="167" x2="586.5" y2="162" stroke="#555" stroke-width="0.9"/>
<text x="588.5" y="189.8" font-size="9" text-anchor="middle" fill="#1a1a1a" >Wavelength (nm)</text>
<text transform="translate(474.5,91) rotate(-90)" font-size="9" text-anchor="middle" fill="#222">&#916;A (mOD)</text>
<clipPath id="cl16"><rect x="496.5" y="16.5" width="184" height="148"/></clipPath>
<g clip-path="url(#cl16)">
<path d="M496.5,129.8 496.9,129.9 497.3,129.9 497.7,129.9 498.2,129.9 498.7,130.1 499.3,129.8 499.9,130.1 500.5,129.7 501.1,129.9 501.8,129.9 502.4,129.8 503.1,130.2 503.9,130.0 504.6,130.3 505.4,130.4 506.1,130.0 506.9,130.4 507.7,130.4 508.5,130.3 509.4,129.9 510.2,130.2 511.0,130.3 511.8,130.1 512.7,130.1 513.5,130.2 514.3,130.1 515.2,130.5 516.0,130.2 516.8,130.3 517.6,130.5 518.4,130.7 519.2,130.3 520.0,130.1 520.7,130.8 521.5,130.7 522.2,130.7 522.9,130.5 523.6,130.3 524.2,130.2 524.8,130.4 525.5,130.5 526.3,130.2 527.2,130.7 528.1,130.7 528.9,130.2 529.8,130.8 530.6,130.5 531.4,130.8 532.2,130.5 533.0,130.7 533.7,130.5 534.5,130.6 535.2,130.5 535.9,130.1 536.7,130.2 537.4,130.3 538.1,130.4 538.7,130.3 539.4,130.5 540.0,130.5 540.7,130.4 541.3,130.3 541.9,130.4 542.5,130.8 543.1,130.7 543.7,130.6 544.2,130.7 544.8,130.3 545.8,130.3 546.8,130.3 547.8,130.4 548.7,130.4 549.5,130.9 550.2,131.1 551.0,130.7 551.6,131.2 552.2,131.4 552.8,131.4 553.4,131.1 553.9,131.6 554.4,131.5 555.3,131.8 555.7,132.2 556.0,133.2 556.4,134.1 557.3,134.2 557.8,134.5 558.3,135.0 558.9,135.1 559.6,135.7 560.3,136.3 561.1,136.4 561.8,136.5 562.6,136.9 563.3,137.3 564.1,138.0 564.8,138.5 565.4,138.5 566.0,138.5 566.6,138.8 567.6,139.4 568.4,139.4 569.1,139.6 569.7,140.1 570.3,140.8 571.0,140.5 571.7,141.5 572.3,141.9 573.0,141.8 573.7,142.0 574.3,142.3 575.0,143.4 575.6,144.0 576.3,144.5 576.9,144.2 577.5,145.0 578.1,145.0 578.6,145.8 579.2,146.1 579.7,145.8 580.2,145.4 580.8,146.3 581.3,144.3 581.7,143.7 582.1,143.0 582.4,142.4" fill="none" stroke="#acdbea" stroke-width="1.4" stroke-linejoin="round" opacity="1"/>
<path d="M585.2,116.7 585.7,117.0 586.4,117.5 587.1,117.6 587.9,118.1 588.5,117.7 589.1,117.1 589.7,116.2 590.3,115.9 591.2,116.2 592.1,116.6 593.0,116.3 593.5,116.1 594.0,115.3 594.4,115.0 595.0,114.2 595.7,114.1 596.2,114.1 596.7,114.5 597.3,115.1 597.9,115.5 598.5,115.8 599.2,116.5 600.0,117.2 600.8,117.3 601.4,118.1 602.0,117.9 602.6,118.7 603.2,118.7 603.9,119.6 604.5,119.8 605.2,119.9 605.9,120.4 606.7,120.9 607.4,121.3 608.1,121.5 608.9,121.8 609.6,122.1 610.2,122.5 610.8,122.5 611.4,122.7 612.0,123.1 612.5,123.1 613.1,123.2 613.7,123.6 614.3,123.7 615.0,124.1 615.7,124.3 616.4,124.5 617.2,124.1 618.0,124.2 618.9,124.8 619.9,124.7 620.4,124.9 621.0,124.8 621.6,124.9 622.2,124.4 622.9,124.4 623.5,124.6 624.2,124.7 624.9,124.3 625.6,124.8 626.3,124.3 627.1,124.2 627.8,124.3 628.5,124.1 629.3,124.0 630.1,123.9 630.8,123.8 631.6,123.8 632.4,124.1 633.2,124.0 634.0,123.9 634.7,123.6 635.5,123.7 636.3,123.2 637.1,123.6 637.8,123.2 638.6,122.9 639.3,122.9 640.1,122.6 640.8,122.8 641.4,122.5 642.1,122.1 642.8,122.1 643.5,121.9 644.1,122.2 644.8,121.7 645.5,121.8 646.2,121.5 646.9,121.2 647.6,121.2 648.3,120.9 649.0,120.4 649.7,120.8 650.4,120.2 651.1,120.1 651.8,119.8 652.5,119.9 653.2,119.2 653.8,118.9 654.5,118.7 655.2,118.7 655.9,118.8 656.6,118.3 657.3,118.5 657.9,117.6 658.6,118.1 659.3,117.2 659.9,117.6 660.6,116.8 661.2,116.9 662.0,116.7 662.7,116.8 663.5,116.0 664.2,116.2 665.0,115.2 665.8,115.7 666.6,115.1 667.4,114.8 668.2,115.0 669.0,114.0 669.8,114.0 670.6,113.7 671.3,113.1 672.1,112.7 672.8,112.7 673.6,112.3 674.3,112.4 675.0,111.9 675.7,111.2 676.3,111.7 676.9,111.8 677.5,111.2 678.1,110.6 678.6,110.4 679.1,111.1 679.5,110.2 679.9,110.5 680.3,109.5" fill="none" stroke="#acdbea" stroke-width="1.4" stroke-linejoin="round" opacity="1"/>
<path d="M496.5,130.2 496.9,130.2 497.3,129.8 497.7,129.8 498.2,130.1 498.7,130.3 499.3,130.2 499.9,129.7 500.5,129.7 501.1,130.3 501.8,130.0 502.4,130.4 503.1,130.0 503.9,130.3 504.6,129.9 505.4,130.4 506.1,130.1 506.9,129.8 507.7,129.9 508.5,129.9 509.4,130.1 510.2,130.5 511.0,130.5 511.8,130.5 512.7,130.2 513.5,130.4 514.3,130.4 515.2,130.5 516.0,130.6 516.8,130.5 517.6,130.5 518.4,130.2 519.2,130.1 520.0,130.3 520.7,130.2 521.5,130.6 522.2,130.2 522.9,130.2 523.6,130.6 524.2,130.1 524.8,130.2 525.5,130.2 526.3,130.2 527.2,130.3 528.1,130.7 528.9,130.4 529.8,130.3 530.6,130.6 531.4,130.5 532.2,130.3 533.0,130.4 533.7,130.5 534.5,130.6 535.2,130.5 535.9,130.7 536.7,130.7 537.4,131.1 538.1,130.9 538.7,130.7 539.4,130.6 540.0,130.6 540.7,130.8 541.3,131.2 541.9,131.3 542.5,130.7 543.1,131.1 543.7,131.2 544.2,131.3 544.8,131.2 545.8,131.2 546.8,130.9 547.8,131.1 548.6,131.6 549.4,131.6 550.2,131.7 550.9,131.3 551.5,131.7 552.2,131.8 552.8,131.7 553.3,131.8 553.9,132.0 554.4,132.2 555.2,132.2 555.8,132.6 556.2,133.7 556.6,133.7 557.0,134.4 557.5,135.3 558.3,136.2 558.6,136.7 558.9,137.1 559.3,137.3 559.7,137.9 560.1,138.7 560.5,139.4 561.0,140.5 561.4,140.9 561.9,141.3 562.4,142.5 562.8,142.8 563.3,143.6 563.8,144.4 564.2,145.1 564.7,145.3 565.1,146.0 565.5,146.2 565.9,147.3 566.2,147.6 566.6,147.8 567.4,147.6 568.1,147.7 568.7,146.9 569.3,145.9 569.8,145.3 570.4,145.6 571.0,145.4 571.3,145.7 571.7,145.5 572.1,146.5 572.4,147.4 572.8,147.2 573.2,148.0 573.5,149.5 573.9,149.4 574.2,150.4 574.6,151.7 574.9,152.2 575.3,152.4 575.6,153.0 576.0,153.6 576.4,154.1 576.7,155.6 577.1,155.9 577.4,156.8 577.8,158.5 578.1,158.2 578.5,158.8 578.8,159.4 579.1,160.8 579.4,160.6 579.7,160.8 580.2,161.2 580.6,161.1 581.1,160.7 581.5,158.2 581.8,157.7 582.2,156.3 582.4,156.4" fill="none" stroke="#8fcfe3" stroke-width="1.4" stroke-linejoin="round" opacity="1"/>
<path d="M585.2,104.7 585.6,105.0 586.1,105.9 586.7,106.6 587.3,107.5 587.9,107.4 588.1,107.1 588.3,106.4 588.5,106.0 588.7,105.1 588.9,103.9 589.1,103.1 589.4,102.7 589.7,101.7 590.0,101.0 590.3,100.2 590.8,99.8 591.3,98.7 591.8,98.0 592.4,97.4 593.0,97.1 593.6,96.4 594.2,95.8 594.7,95.3 595.2,95.1 595.7,94.9 596.2,94.8 596.6,95.6 596.9,96.0 597.2,96.7 597.5,97.2 597.9,98.4 598.3,99.4 598.6,99.6 598.8,100.5 599.0,101.0 599.2,101.2 599.4,101.9 599.7,102.6 599.9,103.6 600.2,104.0 600.4,104.8 600.7,105.4 601.0,106.4 601.3,107.0 601.6,107.9 601.9,108.3 602.2,109.3 602.5,109.9 602.9,110.3 603.3,111.3 603.6,111.7 604.0,112.3 604.4,112.7 604.8,113.3 605.2,114.1 605.7,114.5 606.1,114.9 606.6,115.6 607.0,116.2 607.5,116.5 608.0,117.1 608.5,117.9 609.1,118.3 609.6,118.5 610.2,119.1 610.7,119.5 611.3,119.6 611.8,120.2 612.4,120.3 613.0,120.9 613.6,121.2 614.2,121.3 614.9,121.8 615.6,121.9 616.3,122.3 617.1,122.7 618.0,122.8 618.9,122.5 619.9,122.9 620.4,122.9 621.0,123.1 621.6,122.8 622.2,122.7 622.9,122.9 623.5,122.8 624.2,123.1 624.9,123.1 625.6,122.9 626.3,123.0 627.1,122.8 627.8,122.6 628.5,122.7 629.3,122.8 630.1,122.5 630.8,122.7 631.6,122.4 632.4,122.2 633.2,122.2 634.0,122.4 634.7,121.9 635.5,121.8 636.3,121.8 637.1,121.9 637.8,121.7 638.6,121.5 639.3,121.1 640.1,121.2 640.8,121.1 641.4,120.7 642.1,120.7 642.8,120.3 643.5,120.6 644.1,120.3 644.8,120.1 645.5,120.0 646.2,119.7 646.9,119.3 647.6,119.2 648.3,118.7 649.0,118.8 649.7,118.4 650.4,118.3 651.1,118.2 651.8,117.7 652.5,117.3 653.2,117.5 653.8,116.9 654.5,117.1 655.2,116.9 655.9,116.1 656.6,116.2 657.3,116.2 657.9,115.8 658.6,115.6 659.3,114.9 659.9,115.0 660.6,115.1 661.2,114.1 662.0,114.5 662.7,113.9 663.5,113.7 664.2,113.9 665.0,113.2 665.8,113.1 666.6,113.3 667.4,112.4 668.2,112.8 669.0,111.9 669.8,111.9 670.6,111.1 671.3,111.8 672.1,111.0 672.8,110.8 673.6,111.1 674.3,110.2 675.0,109.5 675.7,109.7 676.3,109.1 676.9,108.9 677.5,109.7 678.1,109.4 678.6,109.2 679.1,108.9 679.5,108.4 679.9,108.5 680.3,108.1" fill="none" stroke="#8fcfe3" stroke-width="1.4" stroke-linejoin="round" opacity="1"/>
<path d="M496.5,129.7 496.9,129.9 497.3,129.6 497.8,129.5 498.4,129.6 499.0,129.5 499.7,130.0 500.4,130.0 501.1,129.6 501.8,129.5 502.6,129.8 503.4,130.0 504.2,129.6 505.1,130.0 505.9,129.7 506.7,129.6 507.6,130.1 508.4,130.0 509.2,129.8 510.0,130.1 510.7,129.8 511.4,130.2 512.1,130.1 512.9,130.1 513.6,129.9 514.4,130.2 515.2,130.0 516.0,130.5 516.8,130.3 517.6,130.4 518.5,130.0 519.3,130.1 520.0,130.2 520.8,130.2 521.6,130.3 522.3,130.5 523.0,130.7 523.7,130.2 524.3,130.6 524.9,130.2 525.5,130.7 526.0,130.8 526.4,130.6 528.2,130.2 529.0,130.0 529.3,129.9 529.7,129.6 530.4,128.5 531.0,128.0 531.6,127.9 532.3,127.5 533.0,126.9 533.7,126.7 534.4,126.7 535.2,127.2 535.9,127.9 536.4,128.1 536.9,128.3 537.5,128.7 538.2,129.1 538.7,129.5 539.1,129.6 539.7,129.8 540.5,130.3 541.9,130.3 542.3,130.2 542.9,130.3 543.5,130.9 544.2,130.9 544.9,130.6 545.7,131.3 546.5,131.3 547.3,130.8 548.1,131.5 548.9,131.0 549.7,131.2 550.5,131.3 551.3,131.7 552.0,131.9 552.7,131.7 553.3,132.0 553.9,132.3 554.4,131.9 555.5,132.3 556.2,133.1 556.6,132.9 557.0,133.5 557.5,134.1 558.3,135.1 558.7,135.1 559.1,135.6 559.6,136.5 560.1,137.1 560.7,137.3 561.3,138.3 561.9,138.7 562.5,139.7 563.1,140.3 563.6,140.9 564.2,141.2 564.8,141.9 565.3,142.8 565.7,142.9 566.2,143.4 566.6,143.8 567.7,143.9 568.4,143.8 568.9,143.9 569.5,143.2 570.1,142.0 570.6,141.4 571.2,140.6 571.8,141.5 571.9,141.9 572.1,142.6 572.3,142.9 572.5,143.1 572.6,144.4 572.8,144.7 573.0,146.1 573.2,146.9 573.4,147.8 573.6,148.5 573.7,149.3 573.9,150.2 574.1,151.4 574.3,151.4 574.5,152.3 574.7,153.3 575.3,153.6 575.9,152.8 576.5,151.5 577.0,150.7 577.6,150.4 577.9,151.3 578.2,151.3 578.5,151.6 578.8,153.7 579.1,153.6 579.4,155.3 579.7,155.6 580.2,154.5 580.9,153.8 581.5,154.0 582.0,153.3 582.4,152.1" fill="none" stroke="#3a9ec4" stroke-width="1.6" stroke-linejoin="round" opacity="1"/>
<path d="M585.2,87.8 585.3,88.4 585.5,89.2 585.8,89.5 586.1,90.6 586.3,92.1 586.4,92.5 586.5,93.2 586.6,94.3 586.7,95.1 586.8,96.6 586.9,97.4 587.0,98.9 587.1,99.9 587.2,100.7 587.3,102.0 587.4,102.7 587.5,102.8 587.6,103.1 587.7,103.4 587.9,102.6 587.9,102.7 588.0,102.2 588.0,101.9 588.1,101.4 588.1,100.8 588.2,100.6 588.2,100.3 588.3,99.3 588.4,99.0 588.4,98.0 588.5,97.8 588.5,96.6 588.6,96.0 588.7,95.2 588.7,94.7 588.8,93.8 588.9,93.1 588.9,92.2 589.0,91.5 589.1,90.3 589.1,89.4 589.2,88.8 589.3,88.0 589.3,86.9 589.4,86.3 589.5,85.0 589.5,84.5 589.6,83.5 589.7,82.7 589.7,82.0 589.8,81.1 589.9,80.3 589.9,79.4 590.0,78.4 590.1,77.9 590.1,77.1 590.2,76.4 590.3,75.4 590.3,75.2 590.4,74.4 590.5,73.6 590.6,72.5 590.7,71.6 590.8,70.9 590.9,70.3 591.0,69.2 591.1,68.3 591.2,67.7 591.2,67.1 591.3,66.1 591.4,65.5 591.5,64.5 591.6,63.5 591.7,63.3 591.8,62.3 591.9,61.7 592.0,60.8 592.1,60.4 592.2,59.3 592.3,58.9 592.4,58.5 592.4,57.8 592.5,56.8 592.6,56.6 592.7,56.2 592.8,55.6 592.9,54.7 593.0,54.0 593.2,53.1 593.5,52.1 593.7,50.7 594.0,50.0 594.2,49.0 594.5,48.3 594.7,48.2 594.9,47.6 595.2,47.1 595.4,47.0 595.7,46.7 595.9,46.9 596.2,47.4 596.4,47.5 596.7,47.9 596.9,49.1 597.1,49.3 597.4,50.5 597.6,51.3 597.9,52.3 598.1,53.4 598.3,54.2 598.5,54.8 598.6,55.3 598.7,56.0 598.8,56.7 598.9,57.2 599.0,58.0 599.1,58.6 599.2,59.3 599.3,59.9 599.4,60.5 599.5,61.4 599.6,62.2 599.7,62.8 599.9,63.9 600.0,64.2 600.1,65.1 600.2,66.2 600.3,66.5 600.4,67.5 600.6,68.3 600.7,69.2 600.8,69.6 600.9,70.2 601.1,71.2 601.2,71.8 601.3,72.5 601.4,73.1 601.5,73.5 601.7,74.5 601.8,75.1 601.9,76.1 602.0,76.9 602.2,77.4 602.3,78.3 602.4,78.8 602.6,79.5 602.7,80.4 602.8,80.8 603.0,81.7 603.1,82.2 603.3,83.1 603.4,84.1 603.6,84.9 603.7,85.1 603.9,86.0 604.1,86.6 604.3,87.0 604.4,87.8 604.6,88.8 604.9,89.2 605.1,90.4 605.3,91.2 605.5,91.5 605.7,92.1 606.0,92.8 606.2,93.5 606.4,94.7 606.7,95.3 606.9,96.2 607.2,96.7 607.4,97.4 607.7,97.9 607.9,98.7 608.2,99.5 608.4,99.7 608.6,100.2 608.9,100.8 609.1,101.6 609.4,102.1 609.6,102.7 609.9,103.6 610.3,104.4 610.6,105.1 610.9,105.8 611.2,106.8 611.6,107.1 611.9,108.1 612.2,108.6 612.5,108.8 612.9,109.6 613.2,110.5 613.6,110.8 614.0,111.1 614.3,112.1 614.7,112.2 615.2,113.0 615.7,113.8 616.2,113.9 616.8,115.0 617.3,115.0 617.9,115.5 618.4,116.1 619.0,116.5 619.6,117.3 620.1,117.5 620.7,118.0 621.2,118.3 621.8,118.3 622.5,118.8 623.2,119.4 623.9,119.5 624.6,119.5 625.3,119.5 626.0,119.7 626.8,119.7 627.7,119.1 628.6,119.3 629.2,119.5 629.8,119.3 630.4,119.2 631.1,119.1 631.7,118.6 632.4,118.9 633.1,118.7 633.8,118.3 634.5,118.2 635.2,118.1 636.0,118.0 636.8,117.7 637.6,117.8 638.4,117.7 639.2,117.5 640.1,117.2 640.7,117.1 641.3,116.9 641.9,116.8 642.6,116.7 643.2,116.1 643.9,116.4 644.6,116.3 645.3,116.2 646.0,115.6 646.7,115.3 647.4,115.6 648.1,115.3 648.9,114.7 649.6,114.8 650.3,114.6 651.0,114.1 651.8,114.5 652.5,113.8 653.2,114.0 653.9,113.4 654.6,113.1 655.3,113.0 656.0,112.7 656.7,113.0 657.4,112.8 658.1,112.3 658.9,112.5 659.6,111.9 660.4,111.8 661.1,111.5 661.9,111.6 662.6,111.7 663.3,111.4 664.1,111.3 664.8,111.1 665.5,110.8 666.2,110.1 666.9,110.2 667.6,110.0 668.3,109.9 668.9,109.5 669.6,109.2 670.2,109.7 670.8,109.4 671.4,109.1 671.9,108.9 672.9,108.2 673.8,108.4 674.7,107.6 675.5,107.8 676.3,107.5 677.1,107.5 677.7,107.5 678.4,106.7 679.0,106.5 679.5,106.4 679.9,106.4 680.3,106.8" fill="none" stroke="#3a9ec4" stroke-width="1.6" stroke-linejoin="round" opacity="1"/>
<path d="M496.5,130.3 496.9,130.5 497.3,130.2 497.7,130.8 498.1,130.8 498.6,130.8 499.1,130.8 499.6,130.2 500.1,130.5 500.7,130.4 501.3,130.4 501.9,130.6 502.5,130.8 503.1,130.8 503.8,130.3 504.5,130.7 505.1,130.9 505.8,130.6 506.6,130.4 507.3,130.7 508.0,130.3 508.8,130.4 509.6,130.2 510.3,130.5 511.1,130.6 511.9,130.7 512.7,130.4 513.6,130.3 514.4,130.6 515.2,130.3 516.0,130.8 516.9,130.7 517.7,130.6 518.6,130.7 519.4,130.3 520.3,130.7 521.1,130.7 522.0,131.0 522.8,131.0 523.7,131.0 524.5,130.4 525.4,130.5 526.2,131.0 527.1,131.0 527.9,131.0 528.7,130.9 529.6,130.5 530.4,130.7 531.2,130.7 532.0,131.0 532.8,130.6 533.6,130.9 534.4,130.9 535.1,131.1 535.9,131.0 536.6,131.0 537.3,131.0 538.1,130.8 538.8,130.8 539.4,130.9 540.1,130.7 540.8,131.2 541.4,130.6 542.0,131.0 542.6,131.3 543.2,131.3 543.7,130.8 544.2,130.9 544.8,130.9 546.0,131.5 547.1,131.4 548.2,131.2 549.2,131.7 550.2,131.4 551.1,131.3 552.0,131.6 552.8,131.7 553.6,132.0 554.4,131.6 555.1,132.2 555.7,132.1 556.4,131.9 557.0,132.0 557.6,132.0 558.2,132.6 558.7,132.4 559.3,132.8 559.8,132.7 560.3,132.4 560.8,132.5 561.4,133.0 561.9,132.8 562.4,132.8 562.9,133.4 563.5,133.6 564.0,133.3 565.0,133.8 565.9,134.0 566.8,133.8 567.6,134.0 568.4,133.9 569.2,134.5 569.9,134.6 570.6,134.6 571.3,134.5 572.0,134.6 572.6,134.6 573.3,135.4 573.9,135.3 574.5,135.2 575.1,135.2 575.6,135.7 576.5,136.2 577.4,136.3 578.2,136.1 579.0,136.8 579.7,136.6 580.4,137.5 581.0,137.5 581.5,137.5 582.0,137.8 582.4,137.9" fill="none" stroke="#6e6e6e" stroke-width="1.4" stroke-linejoin="round" opacity="1"/>
<path d="M585.2,123.7 585.6,123.7 586.0,124.0 586.5,123.8 587.0,124.0 587.6,123.6 588.2,123.9 588.9,123.7 589.5,123.8 590.3,123.8 591.0,123.5 591.8,123.8 592.5,123.4 593.3,123.2 594.2,123.2 595.0,123.8 595.8,123.4 596.6,123.4 597.4,123.8 598.3,123.2 599.1,123.3 599.9,123.7 600.7,123.5 601.4,123.6 602.2,123.3 602.9,123.8 603.6,123.4 604.3,123.7 605.0,123.7 605.8,124.2 606.5,123.8 607.2,123.9 607.9,124.1 608.6,124.3 609.3,124.6 610.0,124.7 610.7,125.1 611.3,124.8 612.0,125.3 612.7,125.1 613.3,125.1 614.0,125.6 614.7,125.6 615.4,125.6 616.1,126.0 616.8,126.3 617.5,126.0 618.3,126.5 619.1,126.4 619.9,126.1 620.5,126.0 621.2,126.3 621.8,126.6 622.5,126.4 623.2,126.3 623.9,126.6 624.6,126.5 625.3,126.6 626.0,126.4 626.7,126.4 627.4,126.2 628.2,126.6 628.9,126.5 629.6,126.0 630.4,126.1 631.1,125.8 631.9,125.7 632.6,126.3 633.4,126.2 634.1,126.2 634.9,125.7 635.6,125.7 636.4,125.4 637.1,125.7 637.9,125.5 638.6,125.6 639.3,125.5 640.1,125.5 640.8,125.3 641.5,125.1 642.2,125.1 642.9,124.8 643.6,125.1 644.3,124.7 645.0,124.6 645.7,125.0 646.4,124.9 647.1,124.8 647.9,124.3 648.6,124.2 649.3,124.2 650.0,124.1 650.7,124.1 651.5,123.9 652.2,123.4 652.9,123.7 653.6,123.3 654.3,123.1 655.0,123.0 655.7,122.7 656.4,123.1 657.1,122.8 657.8,122.8 658.5,122.6 659.2,122.1 659.9,121.9 660.6,122.3 661.2,122.3 662.0,121.9 662.8,121.8 663.6,121.9 664.4,121.2 665.2,120.9 666.0,120.7 666.8,120.5 667.6,120.4 668.5,120.3 669.3,120.6 670.1,120.5 670.9,120.1 671.7,119.5 672.5,119.7 673.3,119.8 674.0,119.7 674.7,118.9 675.4,118.7 676.1,118.8 676.8,118.8 677.4,118.3 678.0,118.7 678.5,118.3 679.0,118.2 679.5,117.9 679.9,118.3 680.3,117.9" fill="none" stroke="#6e6e6e" stroke-width="1.4" stroke-linejoin="round" opacity="1"/>
<path d="M496.5,130.3 496.9,130.4 497.3,130.8 497.7,130.8 498.1,130.5 498.6,130.7 499.1,130.7 499.6,130.4 500.1,130.7 500.7,130.7 501.3,130.5 501.9,130.4 502.5,130.5 503.1,130.5 503.8,130.6 504.5,130.3 505.1,130.7 505.8,130.2 506.6,130.2 507.3,130.8 508.0,130.1 508.8,130.5 509.6,130.5 510.3,130.6 511.1,130.7 511.9,130.6 512.7,130.7 513.6,130.1 514.4,130.3 515.2,130.6 516.0,130.4 516.9,130.1 517.7,130.6 518.6,130.6 519.4,130.1 520.3,130.1 521.1,130.2 522.0,130.7 522.8,130.6 523.7,130.1 524.5,130.6 525.4,130.6 526.2,130.7 527.1,130.4 527.9,130.6 528.7,130.6 529.6,130.4 530.4,130.6 531.2,130.1 532.0,130.7 532.8,130.2 533.6,130.7 534.4,130.7 535.1,130.3 535.9,130.7 536.6,130.7 537.3,130.7 538.1,130.7 538.8,130.7 539.4,130.8 540.1,130.3 540.8,130.2 541.4,130.6 542.0,130.4 542.6,130.4 543.2,130.7 543.7,130.8 544.2,130.3 544.8,130.2 546.0,130.8 547.1,130.8 548.2,130.5 549.2,130.6 550.1,130.9 551.0,130.6 551.8,130.4 552.6,130.8 553.4,130.9 554.1,131.2 554.7,130.7 555.4,130.9 556.0,131.0 556.6,130.8 557.1,130.8 557.7,131.4 558.2,131.3 558.8,131.5 559.3,131.1 559.8,131.6 560.4,131.6 560.9,131.5 561.5,131.4 562.1,131.3 562.7,131.4 563.4,131.4 564.0,131.9 564.8,131.7 565.5,131.9 566.3,131.6 567.1,131.7 567.9,131.6 568.7,132.2 569.5,131.7 570.4,132.2 571.2,132.4 572.0,132.4 572.8,131.9 573.6,132.0 574.4,132.2 575.2,132.0 576.0,132.5 576.7,132.3 577.4,132.5 578.1,132.8 578.8,132.3 579.4,132.4 580.0,132.4 580.6,132.5 581.1,132.6 581.6,132.9 582.0,132.9 582.4,132.9" fill="none" stroke="#e4a3a1" stroke-width="1.5" stroke-linejoin="round" opacity="1"/>
<path d="M585.2,125.7 585.6,125.1 586.0,125.4 586.5,125.2 587.0,125.5 587.6,125.6 588.2,125.2 588.9,125.6 589.5,125.6 590.3,125.6 591.0,125.8 591.8,125.2 592.5,125.5 593.3,125.6 594.2,125.4 595.0,125.8 595.8,126.0 596.6,125.5 597.4,126.0 598.3,126.1 599.1,126.2 599.9,126.1 600.7,125.7 601.4,125.6 602.2,126.0 602.9,126.2 603.6,126.0 604.3,125.8 605.0,125.9 605.7,126.0 606.4,125.7 607.1,126.4 607.7,126.2 608.3,126.4 608.9,126.4 609.5,126.4 610.1,126.2 610.7,126.4 611.3,126.5 611.9,126.3 612.5,126.2 613.1,126.6 613.8,126.0 614.5,126.4 615.3,126.3 616.1,126.5 617.0,126.4 617.9,126.6 618.8,126.3 619.9,126.0 620.4,126.6 621.0,126.4 621.5,126.6 622.1,126.1 622.7,125.9 623.3,126.2 624.0,126.3 624.6,126.4 625.3,126.1 625.9,125.8 626.6,126.4 627.3,126.4 628.0,125.8 628.7,126.4 629.4,126.1 630.1,125.7 630.9,126.3 631.6,125.7 632.3,126.2 633.1,126.0 633.8,126.2 634.6,125.9 635.4,126.1 636.1,126.1 636.9,125.9 637.7,126.0 638.4,125.8 639.2,125.6 640.0,125.8 640.7,125.2 641.5,125.6 642.3,125.4 643.0,125.3 643.8,125.2 644.5,125.5 645.3,125.4 646.0,125.2 646.8,124.9 647.5,124.8 648.2,125.4 648.9,124.9 649.6,125.2 650.3,125.0 651.0,124.9 651.7,124.6 652.5,124.8 653.2,124.3 654.0,124.5 654.8,124.6 655.5,124.4 656.3,124.1 657.1,123.9 657.9,124.3 658.7,124.2 659.6,123.7 660.4,123.8 661.2,123.4 662.0,123.5 662.8,123.2 663.6,123.0 664.4,122.9 665.2,123.0 666.0,122.7 666.8,123.0 667.6,122.4 668.4,122.5 669.1,122.3 669.9,122.0 670.6,122.4 671.4,121.8 672.1,121.7 672.8,121.8 673.5,121.8 674.1,121.5 674.8,121.6 675.4,121.4 676.0,121.0 676.6,121.3 677.1,120.8 677.7,121.2 678.2,121.0 678.7,120.9 679.1,120.8 679.5,120.8 679.9,120.7 680.3,120.8" fill="none" stroke="#e4a3a1" stroke-width="1.5" stroke-linejoin="round" opacity="1"/>
<path d="M496.5,130.5 496.9,130.9 497.3,130.1 497.7,130.1 498.1,130.4 498.6,130.2 499.1,130.2 499.6,130.1 500.1,130.6 500.7,130.9 501.3,130.2 501.9,130.1 502.5,130.9 503.1,130.9 503.8,130.9 504.5,130.1 505.1,130.4 505.8,130.7 506.6,130.4 507.3,130.2 508.0,130.8 508.8,130.8 509.6,130.7 510.3,130.3 511.1,130.7 511.9,130.5 512.7,130.2 513.6,130.5 514.4,130.8 515.2,130.2 516.0,130.7 516.9,130.3 517.7,130.3 518.6,130.5 519.4,130.1 520.3,130.4 521.1,130.2 522.0,130.2 522.8,130.7 523.7,130.7 524.5,130.2 525.4,130.8 526.2,130.9 527.1,130.2 527.9,130.6 528.7,130.2 529.6,130.2 530.4,130.1 531.2,130.9 532.0,130.4 532.8,130.4 533.6,130.8 534.4,130.6 535.1,130.3 535.9,130.9 536.6,130.8 537.3,130.7 538.1,130.9 538.8,130.6 539.4,130.5 540.1,130.4 540.8,130.1 541.4,130.2 542.0,130.5 542.6,130.8 543.2,130.7 543.7,130.2 544.2,130.5 544.8,130.5 546.0,130.8 547.1,130.2 548.2,130.1 549.2,130.8 550.1,130.8 551.0,130.4 551.8,130.8 552.6,130.3 553.4,130.1 554.1,130.9 554.7,131.0 555.4,130.7 556.0,130.8 556.6,130.2 557.1,130.2 557.7,130.4 558.2,130.7 558.8,130.7 559.3,130.4 559.8,130.7 560.4,130.7 560.9,130.4 561.5,130.9 562.1,130.6 562.7,130.7 563.4,130.0 564.0,130.7 564.8,129.9 565.5,129.8 566.3,130.0 567.1,130.9 567.9,130.3 568.7,130.8 569.5,130.5 570.4,129.4 571.2,129.5 572.0,130.8 572.8,130.2 573.6,129.1 574.4,129.3 575.2,129.8 576.0,130.3 576.7,129.6 577.4,130.5 578.1,126.4 578.8,128.8 579.4,126.8 580.0,129.9 580.6,132.0 581.1,129.0 581.6,128.7 582.0,127.0 582.4,127.0" fill="none" stroke="#d46a66" stroke-width="1.4" stroke-linejoin="round" opacity="1"/>
<path d="M585.2,129.1 585.6,129.1 586.0,129.1 586.4,129.3 586.8,128.7 587.3,128.6 587.8,129.3 588.3,128.7 588.9,129.2 589.5,128.6 590.1,129.2 590.7,128.5 591.3,129.0 592.0,129.2 592.6,128.9 593.3,128.8 594.0,129.3 594.8,129.1 595.5,128.9 596.2,128.9 597.0,129.3 597.8,128.7 598.6,128.7 599.4,128.9 600.2,129.0 601.0,128.9 601.8,129.2 602.6,128.8 603.5,128.9 604.3,129.1 605.1,128.6 606.0,129.0 606.8,128.6 607.7,128.4 608.5,128.6 609.4,129.1 610.2,128.7 611.1,129.0 611.9,128.9 612.8,128.8 613.6,128.5 614.2,128.4 614.8,128.9 615.5,128.6 616.1,128.6 616.8,128.7 617.5,129.0 618.1,129.0 618.8,128.6 619.5,129.1 620.2,129.0 620.9,128.4 621.6,128.4 622.3,128.4 623.0,129.0 623.7,128.8 624.5,128.9 625.2,128.7 625.9,128.6 626.7,129.1 627.4,128.6 628.1,129.0 628.9,128.8 629.6,128.7 630.4,129.1 631.1,128.9 631.9,128.4 632.6,128.7 633.4,129.0 634.1,128.4 634.9,129.1 635.6,128.5 636.4,128.7 637.1,128.4 637.9,128.4 638.6,128.6 639.3,128.9 640.1,128.3 640.8,128.8 641.5,128.8 642.3,128.7 643.0,128.7 643.7,128.5 644.4,128.4 645.1,128.8 645.8,129.1 646.5,128.7 647.2,128.3 647.8,128.4 648.5,128.3 649.2,128.9 649.8,128.7 650.5,128.5 651.1,128.8 651.7,128.4 652.5,129.0 653.4,128.6 654.2,128.6 655.1,129.0 655.9,128.6 656.8,127.9 657.6,128.1 658.5,128.2 659.3,128.2 660.2,128.8 661.0,128.5 661.9,128.9 662.7,127.9 663.6,127.9 664.4,128.7 665.2,128.3 666.0,127.9 666.8,128.1 667.6,127.7 668.4,127.8 669.2,127.7 669.9,128.8 670.7,128.1 671.4,127.7 672.1,127.5 672.8,128.1 673.5,127.3 674.1,128.2 674.8,127.0 675.4,127.1 676.0,128.0 676.6,128.3 677.1,126.9 677.7,127.9 678.2,127.9 678.6,127.0 679.1,127.8 679.5,127.9 679.9,126.9 680.3,128.2" fill="none" stroke="#d46a66" stroke-width="1.4" stroke-linejoin="round" opacity="1"/>
<path d="M496.5,130.1 496.9,130.3 497.3,130.2 497.7,130.2 498.1,130.3 498.6,130.2 499.1,130.8 499.6,130.9 500.1,130.3 500.7,130.8 501.3,130.1 501.9,130.4 502.5,130.5 503.1,130.2 503.8,130.2 504.5,130.3 505.1,130.4 505.8,130.6 506.6,130.6 507.3,130.9 508.0,130.2 508.8,130.6 509.6,130.1 510.3,130.7 511.1,130.8 511.9,130.5 512.7,130.9 513.6,130.4 514.4,130.1 515.2,130.0 516.0,130.2 516.9,130.5 517.7,130.8 518.6,130.4 519.4,130.5 520.3,130.1 521.1,130.5 522.0,130.7 522.8,130.3 523.7,130.2 524.5,130.1 525.4,130.1 526.2,130.7 527.1,130.8 527.9,130.2 528.7,130.7 529.6,130.5 530.4,130.6 531.2,130.5 532.0,130.6 532.8,130.6 533.6,130.8 534.4,130.7 535.1,130.2 535.9,130.5 536.6,130.8 537.3,130.5 538.1,130.8 538.8,130.8 539.4,130.3 540.1,130.8 540.8,130.1 541.4,130.5 542.0,130.8 542.6,130.4 543.2,130.9 543.7,130.9 544.2,130.1 544.8,130.6 546.0,131.0 547.1,130.5 548.2,130.8 549.2,130.7 550.1,130.7 551.0,130.3 551.8,131.1 552.6,130.6 553.4,130.6 554.1,130.9 554.7,131.0 555.4,130.7 556.0,131.1 556.6,130.9 557.1,131.2 557.7,131.3 558.2,131.3 558.8,131.1 559.3,131.1 559.8,131.3 560.4,131.1 560.9,131.8 561.5,132.0 562.1,131.2 562.7,131.4 563.4,132.2 564.0,131.4 564.8,131.7 565.5,132.0 566.3,131.1 567.1,131.5 567.9,132.0 568.7,131.2 569.5,131.1 570.4,132.1 571.2,132.7 572.0,131.3 572.8,132.1 573.6,131.8 574.4,132.0 575.2,131.7 576.0,132.7 576.7,132.8 577.4,133.0 578.1,131.9 578.8,131.5 579.4,133.4 580.0,131.6 580.6,130.3 581.1,134.8 581.6,131.3 582.0,132.3 582.4,134.8" fill="none" stroke="#c9524f" stroke-width="1.4" stroke-linejoin="round" opacity="1"/>
<path d="M585.2,130.5 585.6,130.3 586.0,130.3 586.4,130.4 586.8,130.3 587.3,130.3 587.8,130.4 588.3,130.3 588.9,130.3 589.5,130.1 590.1,130.7 590.7,130.0 591.3,130.6 592.0,130.5 592.6,130.4 593.3,130.5 594.0,130.5 594.8,130.4 595.5,130.5 596.2,130.1 597.0,130.5 597.8,130.0 598.6,130.1 599.4,130.3 600.2,130.0 601.0,129.9 601.8,130.1 602.6,130.5 603.5,130.2 604.3,130.4 605.1,130.5 606.0,130.2 606.8,130.0 607.7,130.2 608.5,130.3 609.4,130.5 610.2,130.6 611.1,130.6 611.9,130.6 612.8,130.2 613.6,130.5 614.2,130.0 614.8,130.5 615.5,130.4 616.1,129.9 616.8,130.4 617.5,130.5 618.1,130.2 618.8,129.9 619.5,130.4 620.2,129.9 620.9,130.2 621.6,130.0 622.3,130.1 623.0,130.1 623.7,129.9 624.5,130.0 625.2,130.1 625.9,130.4 626.7,129.7 627.4,129.9 628.1,130.4 628.9,130.2 629.6,130.2 630.4,129.9 631.1,130.1 631.9,130.3 632.6,130.1 633.4,129.9 634.1,129.9 634.9,130.1 635.6,129.7 636.4,130.3 637.1,130.1 637.9,130.3 638.6,130.0 639.3,129.8 640.1,130.2 640.8,130.4 641.5,129.9 642.3,130.2 643.0,130.2 643.7,129.7 644.4,130.0 645.1,129.5 645.8,129.8 646.5,129.9 647.2,130.5 647.8,129.5 648.5,129.6 649.2,129.7 649.8,129.4 650.5,130.3 651.1,129.5 651.7,130.4 652.5,129.4 653.4,130.2 654.2,129.9 655.1,130.2 655.9,129.7 656.8,129.5 657.6,129.3 658.5,129.6 659.3,129.4 660.2,130.1 661.0,129.7 661.9,129.2 662.7,129.7 663.6,129.9 664.4,129.6 665.2,129.9 666.0,129.3 666.8,130.5 667.6,129.4 668.4,129.1 669.2,130.3 669.9,130.1 670.7,129.5 671.4,129.1 672.1,129.7 672.8,130.1 673.5,129.1 674.1,130.1 674.8,130.4 675.4,129.9 676.0,130.1 676.6,130.3 677.1,129.5 677.7,128.8 678.2,128.8 678.6,129.1 679.1,129.7 679.5,130.1 679.9,129.8 680.3,128.9" fill="none" stroke="#c9524f" stroke-width="1.4" stroke-linejoin="round" opacity="1"/>
</g>
<line x1="496" y1="16.5" x2="681" y2="16.5" stroke="#8a8a8a" stroke-width="1"/>
<line x1="680.5" y1="16.5" x2="680.5" y2="165" stroke="#4a4a4a" stroke-width="1"/>
<line x1="496.5" y1="16" x2="496.5" y2="165" stroke="#3a3a3a" stroke-width="1"/>
<line x1="496" y1="164.5" x2="681" y2="164.5" stroke="#3a3a3a" stroke-width="1"/>
<rect x="580" y="161.5" width="6" height="6" fill="#fff"/>
<line x1="580.5" y1="167" x2="583.5" y2="162" stroke="#555" stroke-width="0.9"/>
<line x1="583.5" y1="167" x2="586.5" y2="162" stroke="#555" stroke-width="0.9"/>
<text x="501.5" y="27.5" font-size="9" text-anchor="start" fill="#1a1a1a" >BTR:L8-BO 4:6 NPs</text>
<line x1="501.5" y1="35.6" x2="522" y2="35.6" stroke="#3a9ec4" stroke-width="1.4"/>
<text x="525" y="38.8" font-size="9" text-anchor="start" fill="#1a1a1a" >114fs</text>
<line x1="501.5" y1="46.7" x2="522" y2="46.7" stroke="#8fcfe3" stroke-width="1.1"/>
<text x="525" y="49.9" font-size="9" text-anchor="start" fill="#1a1a1a" >1 ps</text>
<line x1="501.5" y1="57.7" x2="522" y2="57.7" stroke="#acdbea" stroke-width="1.1"/>
<text x="525" y="60.9" font-size="9" text-anchor="start" fill="#1a1a1a" >5 ps</text>
<line x1="501.5" y1="68.8" x2="522" y2="68.8" stroke="#6e6e6e" stroke-width="1.1"/>
<text x="525" y="72" font-size="9" text-anchor="start" fill="#1a1a1a" >50 ps</text>
<line x1="501.5" y1="79.8" x2="522" y2="79.8" stroke="#e8aaa8" stroke-width="1.1"/>
<text x="525" y="83" font-size="9" text-anchor="start" fill="#1a1a1a" >100 ps</text>
<line x1="549" y1="35.6" x2="569.5" y2="35.6" stroke="#d46a66" stroke-width="1.1"/>
<text x="572.5" y="38.8" font-size="9" text-anchor="start" fill="#1a1a1a" >1 ns</text>
<line x1="549" y1="46.7" x2="569.5" y2="46.7" stroke="#c9524f" stroke-width="1.3"/>
<text x="572.5" y="49.9" font-size="9" text-anchor="start" fill="#1a1a1a" >5 ns</text>
<line x1="493.5" y1="353" x2="496.5" y2="353" stroke="#555" stroke-width="0.9"/>
<text x="492" y="356.1" font-size="8.5" text-anchor="end" fill="#1a1a1a" >&#8722;10</text>
<line x1="494.7" y1="340.7" x2="496.5" y2="340.7" stroke="#555" stroke-width="0.7"/>
<line x1="493.5" y1="328.4" x2="496.5" y2="328.4" stroke="#555" stroke-width="0.9"/>
<text x="492" y="331.5" font-size="8.5" text-anchor="end" fill="#1a1a1a" >&#8722;5</text>
<line x1="494.7" y1="316.1" x2="496.5" y2="316.1" stroke="#555" stroke-width="0.7"/>
<line x1="493.5" y1="303.8" x2="496.5" y2="303.8" stroke="#555" stroke-width="0.9"/>
<text x="492" y="306.9" font-size="8.5" text-anchor="end" fill="#1a1a1a" >0</text>
<line x1="494.7" y1="291.5" x2="496.5" y2="291.5" stroke="#555" stroke-width="0.7"/>
<line x1="493.5" y1="279.2" x2="496.5" y2="279.2" stroke="#555" stroke-width="0.9"/>
<text x="492" y="282.3" font-size="8.5" text-anchor="end" fill="#1a1a1a" >5</text>
<line x1="494.7" y1="266.9" x2="496.5" y2="266.9" stroke="#555" stroke-width="0.7"/>
<line x1="493.5" y1="254.6" x2="496.5" y2="254.6" stroke="#555" stroke-width="0.9"/>
<text x="492" y="257.7" font-size="8.5" text-anchor="end" fill="#1a1a1a" >10</text>
<line x1="494.7" y1="242.3" x2="496.5" y2="242.3" stroke="#555" stroke-width="0.7"/>
<line x1="493.5" y1="230" x2="496.5" y2="230" stroke="#555" stroke-width="0.9"/>
<text x="492" y="233.1" font-size="8.5" text-anchor="end" fill="#1a1a1a" >15</text>
<line x1="494.7" y1="217.7" x2="496.5" y2="217.7" stroke="#555" stroke-width="0.7"/>
<line x1="493.5" y1="205.4" x2="496.5" y2="205.4" stroke="#555" stroke-width="0.9"/>
<text x="492" y="208.5" font-size="8.5" text-anchor="end" fill="#1a1a1a" >20</text>
<line x1="506.1" y1="353.5" x2="506.1" y2="356.5" stroke="#555" stroke-width="0.9"/>
<text x="506.1" y="364" font-size="8.5" text-anchor="middle" fill="#1a1a1a" >400</text>
<line x1="525.5" y1="353.5" x2="525.5" y2="355.3" stroke="#555" stroke-width="0.7"/>
<line x1="544.8" y1="353.5" x2="544.8" y2="356.5" stroke="#555" stroke-width="0.9"/>
<text x="544.8" y="364" font-size="8.5" text-anchor="middle" fill="#1a1a1a" >600</text>
<line x1="564" y1="353.5" x2="564" y2="355.3" stroke="#555" stroke-width="0.7"/>
<line x1="594.5" y1="353.5" x2="594.5" y2="355.3" stroke="#555" stroke-width="0.7"/>
<line x1="613.6" y1="353.5" x2="613.6" y2="356.5" stroke="#555" stroke-width="0.9"/>
<text x="613.6" y="364" font-size="8.5" text-anchor="middle" fill="#1a1a1a" >1000</text>
<line x1="632.6" y1="353.5" x2="632.6" y2="355.3" stroke="#555" stroke-width="0.7"/>
<line x1="651.7" y1="353.5" x2="651.7" y2="356.5" stroke="#555" stroke-width="0.9"/>
<text x="651.7" y="364" font-size="8.5" text-anchor="middle" fill="#1a1a1a" >1200</text>
<line x1="670.8" y1="353.5" x2="670.8" y2="355.3" stroke="#555" stroke-width="0.7"/>
<rect x="580" y="350.5" width="6" height="6" fill="#fff"/>
<line x1="580.5" y1="356" x2="583.5" y2="351" stroke="#555" stroke-width="0.9"/>
<line x1="583.5" y1="356" x2="586.5" y2="351" stroke="#555" stroke-width="0.9"/>
<text x="588.5" y="378.8" font-size="9" text-anchor="middle" fill="#1a1a1a" >Wavelength (nm)</text>
<text transform="translate(474.5,280) rotate(-90)" font-size="9" text-anchor="middle" fill="#222">&#916;A (mOD)</text>
<clipPath id="cl205"><rect x="496.5" y="205.5" width="184" height="148"/></clipPath>
<g clip-path="url(#cl205)">
<path d="M496.5,303.3 496.9,303.5 497.3,303.3 497.7,303.3 498.2,303.6 498.7,303.2 499.3,303.7 499.9,303.4 500.5,303.1 501.1,303.5 501.8,303.2 502.4,303.7 503.1,303.5 503.9,303.2 504.6,303.8 505.4,303.3 506.1,303.8 506.9,303.1 507.7,303.3 508.5,303.6 509.4,303.4 510.2,303.4 511.0,303.3 511.8,303.6 512.7,303.8 513.5,303.4 514.3,303.7 515.2,303.6 516.0,303.8 516.8,304.0 517.6,303.7 518.4,303.6 519.2,303.7 520.0,303.8 520.7,304.1 521.5,304.1 522.2,303.6 522.9,303.5 523.6,304.1 524.2,303.6 524.8,303.9 525.5,303.6 526.3,303.8 527.2,304.0 528.1,304.2 529.0,303.8 529.8,303.8 530.7,304.1 531.5,303.9 532.3,303.6 533.2,303.8 534.0,303.7 534.7,304.1 535.5,304.0 536.3,303.7 537.0,304.0 537.7,304.2 538.4,304.2 539.1,304.2 539.8,304.1 540.4,304.0 541.1,304.4 541.7,304.1 542.2,303.9 542.8,304.0 543.3,304.1 543.8,304.1 544.3,304.1 544.8,304.2 546.3,304.8 547.2,304.7 547.6,305.2 547.9,305.7 548.3,305.9 549.0,306.6 549.6,306.4 550.3,306.3 551.0,305.4 551.7,305.6 552.5,305.3 553.2,304.7 554.0,304.4 554.7,304.4 555.3,304.2 555.9,304.2 556.7,304.5 557.2,305.1 557.8,305.5 558.3,306.2 558.8,306.7 559.4,306.9 560.2,307.8 560.7,307.9 561.3,308.5 562.0,308.8 562.7,309.7 563.4,309.8 564.1,310.3 564.9,310.6 565.6,311.1 566.3,311.6 566.9,311.5 567.5,312.4 568.1,312.2 568.9,311.9 569.6,312.1 570.2,310.7 570.8,310.8 571.3,310.0 572.0,310.5 572.7,309.7 573.1,311.0 573.5,311.0 574.0,311.7 574.4,311.9 574.9,312.4 575.4,313.5 575.8,313.8 576.3,315.4 576.8,315.7 577.3,316.7 577.7,317.4 578.2,317.2 578.6,318.1 579.0,317.9 579.4,318.3 579.7,318.4 580.2,319.8 580.6,318.6 581.0,317.8 581.3,317.5 581.6,315.7 581.8,314.6 582.0,313.6 582.2,313.0 582.4,312.8" fill="none" stroke="#acdbea" stroke-width="1.4" stroke-linejoin="round" opacity="1"/>
<path d="M585.2,293.3 585.6,293.6 586.3,293.9 587.0,294.6 587.8,294.8 588.7,295.3 589.5,295.3 590.3,295.2 590.9,295.3 591.5,294.3 592.0,294.4 592.6,293.8 593.2,292.7 593.8,292.1 594.4,291.8 595.0,291.3 595.6,291.2 596.2,290.9 596.8,291.2 597.4,291.2 597.9,291.4 598.4,291.6 598.9,292.3 599.5,292.5 600.1,293.1 600.7,293.4 601.5,294.1 602.3,294.6 602.9,294.7 603.5,295.1 604.1,295.3 604.7,295.1 605.4,295.7 606.1,295.9 606.9,296.3 607.6,296.4 608.4,296.9 609.1,297.1 609.9,297.4 610.6,297.2 611.3,297.7 612.0,297.8 612.6,298.4 613.3,298.4 613.8,298.3 614.4,298.8 615.3,298.7 616.0,299.1 616.6,299.1 617.1,299.3 617.6,299.6 618.2,299.8 619.0,299.4 620.1,299.4 620.6,299.8 621.2,299.7 621.8,299.6 622.5,299.6 623.2,299.2 623.9,299.0 624.6,299.0 625.4,299.2 626.2,298.8 627.0,299.1 627.8,298.6 628.6,299.1 629.4,298.9 630.2,298.8 630.9,298.5 631.7,298.6 632.4,298.6 633.1,298.3 633.7,298.1 634.4,298.1 635.2,298.0 636.0,297.4 636.7,297.6 637.4,297.1 638.1,297.1 638.8,296.7 639.4,296.9 640.1,296.5 640.7,296.4 641.3,296.2 641.9,295.9 642.6,295.6 643.2,295.6 643.9,295.1 644.6,294.9 645.3,294.7 645.9,294.3 646.6,294.4 647.3,294.1 648.0,293.9 648.7,293.2 649.3,293.2 650.0,293.0 650.7,292.5 651.4,292.4 652.1,291.7 652.7,291.8 653.4,291.2 654.1,291.2 654.8,290.5 655.5,290.2 656.1,290.2 656.8,290.1 657.5,289.5 658.2,289.6 658.9,288.8 659.5,289.2 660.2,288.4 660.9,288.4 661.6,287.8 662.3,287.9 663.0,287.1 663.6,287.6 664.4,286.8 665.1,286.9 665.8,286.6 666.5,286.7 667.2,286.4 667.9,286.2 668.6,285.8 669.4,284.9 670.0,284.7 670.7,284.7 671.4,284.4 672.0,283.9 672.7,283.7 673.5,283.6 674.3,283.5 675.1,283.1 675.9,283.5 676.7,283.2 677.5,282.6 678.2,281.9 678.8,282.5 679.4,281.6 679.9,282.1 680.3,281.0" fill="none" stroke="#acdbea" stroke-width="1.4" stroke-linejoin="round" opacity="1"/>
<path d="M496.5,303.2 496.9,303.5 497.3,303.3 497.7,303.4 498.2,303.7 498.7,303.6 499.3,303.2 499.9,303.5 500.5,303.6 501.1,303.2 501.8,303.5 502.4,303.5 503.1,303.4 503.9,303.7 504.6,303.2 505.4,303.7 506.1,303.1 506.9,303.5 507.7,303.3 508.5,303.4 509.4,303.4 510.2,303.3 511.0,303.9 511.8,303.6 512.7,303.7 513.5,303.2 514.3,303.8 515.2,303.4 516.0,303.3 516.8,303.9 517.6,303.4 518.4,303.5 519.2,303.9 520.0,303.9 520.7,303.5 521.5,303.9 522.2,303.5 522.9,303.5 523.6,303.8 524.2,303.9 524.8,303.9 525.5,303.5 526.3,304.2 527.2,304.1 528.1,303.5 529.0,303.5 529.8,304.2 530.7,303.8 531.5,304.0 532.3,303.8 533.2,304.1 534.0,303.9 534.7,303.8 535.5,303.8 536.3,304.1 537.0,303.8 537.7,304.3 538.4,304.3 539.1,304.2 539.8,303.8 540.4,304.2 541.1,304.3 541.7,304.1 542.2,303.8 542.8,303.8 543.3,304.2 543.8,303.9 544.3,304.6 544.8,304.2 546.3,304.8 547.2,305.3 547.6,305.2 547.9,305.6 548.3,305.9 549.0,306.0 549.6,306.5 550.2,306.3 550.9,306.1 551.6,306.0 552.3,305.5 553.1,305.6 553.8,305.5 554.6,305.3 555.3,304.9 555.9,305.4 556.5,305.2 557.0,305.6 557.6,306.4 558.1,306.4 558.6,306.8 559.2,307.7 559.7,308.1 560.2,308.8 560.7,309.0 561.2,309.9 561.6,310.6 562.1,311.2 562.4,311.7 562.8,312.6 563.1,313.4 563.4,313.9 563.7,314.9 564.0,315.8 564.3,316.0 564.6,317.0 564.9,318.3 565.2,318.8 565.5,319.6 565.8,320.5 566.1,320.5 566.3,321.2 566.6,322.1 566.9,322.1 567.1,322.2 567.6,322.8 568.1,322.2 568.5,321.1 568.9,320.2 569.3,319.4 569.7,318.8 570.1,317.2 570.5,316.7 571.0,317.0 571.3,317.7 571.6,317.2 571.9,318.4 572.3,318.1 572.6,319.4 573.0,320.1 573.3,319.8 573.6,320.8 574.0,322.2 574.3,323.2 574.7,324.1 575.0,324.4 575.3,325.1 575.6,326.3 575.9,327.1 576.1,327.2 576.4,328.1 576.7,328.9 576.9,329.8 577.2,330.6 577.4,332.1 577.7,333.3 577.9,333.3 578.1,335.1 578.4,334.7 578.6,336.0 578.8,336.8 579.1,336.5 579.3,337.4 579.5,338.1 579.7,337.9 579.8,337.9 580.0,337.5 580.2,337.5 580.3,337.1 580.5,335.5 580.6,335.6 580.8,333.7 580.9,332.8 581.1,333.2 581.2,332.3 581.4,331.5 581.5,329.2 581.6,328.5 581.7,327.7 581.8,327.1 582.0,325.6 582.1,325.2 582.2,323.9 582.2,323.7 582.3,322.6 582.4,323.7" fill="none" stroke="#8fcfe3" stroke-width="1.4" stroke-linejoin="round" opacity="1"/>
<path d="M585.2,284.6 585.4,284.2 585.6,283.9 585.9,283.1 586.2,282.9 586.5,281.7 586.9,281.2 587.2,280.6 587.6,279.9 588.0,279.2 588.3,278.2 588.6,277.8 589.1,277.1 589.6,276.3 590.1,275.8 590.5,274.9 591.0,274.6 591.5,274.0 592.1,273.6 592.6,272.7 593.2,272.2 593.9,272.1 594.5,271.4 595.1,270.8 595.7,271.0 596.2,270.6 596.7,271.4 597.0,271.4 597.3,271.8 597.6,272.8 597.9,273.5 598.3,274.4 598.6,275.5 599.1,276.5 599.4,276.7 599.6,277.3 599.9,278.0 600.2,278.8 600.5,279.1 600.8,279.9 601.1,280.7 601.4,281.4 601.7,281.8 602.1,283.0 602.4,283.3 602.8,283.9 603.1,284.7 603.5,285.5 603.9,285.8 604.3,286.9 604.7,286.9 605.1,288.1 605.6,288.6 606.1,288.7 606.6,289.6 607.0,290.1 607.6,290.2 608.1,291.2 608.6,291.5 609.1,292.0 609.6,292.1 610.2,292.7 610.7,293.1 611.3,293.5 611.9,293.6 612.5,293.9 613.1,294.3 613.7,295.0 614.3,295.0 614.9,295.5 615.6,295.1 616.2,295.6 616.9,295.8 617.6,296.1 618.4,296.0 619.2,296.2 620.1,295.9 620.7,296.3 621.3,296.0 622.0,296.3 622.7,296.1 623.4,295.7 624.1,296.0 624.9,296.0 625.6,295.8 626.4,295.9 627.2,295.3 627.9,295.3 628.7,295.1 629.5,295.2 630.3,295.2 631.0,295.0 631.7,294.9 632.4,294.5 633.1,294.2 633.8,294.1 634.4,294.0 635.2,293.9 636.0,294.0 636.7,293.8 637.4,293.2 638.1,293.2 638.8,292.8 639.4,292.6 640.1,292.0 640.7,292.0 641.3,291.9 641.9,291.1 642.6,290.8 643.2,290.5 643.9,290.3 644.5,290.2 645.2,289.8 645.8,289.5 646.4,289.4 647.1,288.8 647.7,288.3 648.3,288.2 649.0,288.0 649.6,287.5 650.2,286.9 650.9,286.7 651.5,286.8 652.2,285.9 652.8,286.0 653.4,285.8 654.1,285.1 654.8,284.7 655.5,285.0 656.1,284.1 656.8,284.1 657.5,284.0 658.2,283.2 658.9,283.6 659.5,282.9 660.2,283.2 660.9,282.9 661.6,282.5 662.3,281.8 663.0,282.1 663.6,282.0 664.4,281.1 665.1,280.8 665.8,280.8 666.5,281.0 667.2,280.5 667.9,280.3 668.6,280.8 669.4,279.7 670.0,279.7 670.7,279.9 671.4,279.7 672.0,279.1 672.7,279.1 673.5,279.2 674.3,279.6 675.1,279.1 675.9,278.0 676.7,278.8 677.5,278.3 678.2,277.7 678.8,278.3 679.4,277.7 679.9,278.0 680.3,277.9" fill="none" stroke="#8fcfe3" stroke-width="1.4" stroke-linejoin="round" opacity="1"/>
<path d="M496.5,303.1 496.9,303.3 497.3,303.4 497.8,302.8 498.4,303.4 499.0,303.2 499.7,303.3 500.3,303.3 501.1,303.1 501.8,303.3 502.6,303.1 503.4,303.0 504.2,302.8 505.1,303.3 505.9,303.4 506.8,303.0 507.6,303.2 508.5,302.9 509.3,303.2 510.1,303.1 510.9,302.9 511.7,303.2 512.5,302.9 513.2,303.3 513.9,303.3 514.6,303.5 515.2,303.5 515.8,303.5 516.8,303.1 517.7,303.4 518.6,303.2 519.4,303.3 520.3,303.8 521.0,303.6 521.8,303.3 522.5,303.5 523.1,303.5 523.7,303.4 524.3,303.9 524.9,304.0 525.4,303.5 525.9,303.9 526.4,303.6 527.8,303.9 528.6,303.4 529.1,303.2 529.7,303.2 530.4,302.4 531.0,301.7 531.6,301.4 532.3,301.6 533.0,301.2 533.7,300.8 534.4,301.1 535.2,301.2 535.9,301.5 536.6,301.8 537.3,302.2 538.2,303.0 538.8,303.0 539.4,303.0 540.1,303.0 540.9,303.4 541.9,303.9 542.4,303.8 543.1,304.2 543.7,304.5 544.5,305.1 545.2,305.1 546.0,305.8 546.8,305.6 547.5,306.1 548.3,306.3 549.0,306.1 549.7,306.4 550.4,306.3 551.1,305.7 551.8,305.5 552.5,305.2 553.2,305.3 553.9,304.8 554.6,304.6 555.3,304.4 555.9,305.1 556.5,304.7 557.1,305.2 557.7,306.0 558.3,305.9 558.8,306.8 559.4,307.0 559.9,307.9 560.5,308.3 561.0,309.0 561.6,309.7 562.1,310.4 562.6,310.6 563.0,311.1 563.4,311.8 563.9,312.8 564.4,313.3 564.8,314.6 565.2,314.8 565.7,315.6 566.1,316.1 566.5,317.2 567.0,317.6 567.4,317.7 567.7,318.7 568.1,318.7 568.7,319.0 569.2,318.2 569.7,317.5 570.2,316.0 570.6,315.3 571.1,315.1 571.6,313.6 572.2,313.8 572.5,314.5 572.9,314.7 573.3,314.8 573.7,316.1 574.2,316.4 574.6,316.8 575.0,318.3 575.5,318.1 575.9,318.8 576.3,319.8 576.7,321.6 577.2,321.4 577.6,322.2 578.1,323.0 578.8,323.9 579.4,323.2 580.0,324.3 580.6,325.3 581.2,326.0 581.6,325.4 582.1,327.0 582.4,326.5" fill="none" stroke="#3a9ec4" stroke-width="1.6" stroke-linejoin="round" opacity="1"/>
<path d="M586.1,276.7 586.2,275.8 586.2,275.6 586.2,275.0 586.2,274.2 586.3,273.4 586.3,272.8 586.3,272.2 586.3,270.9 586.4,270.1 586.4,269.6 586.4,268.3 586.5,267.7 586.5,266.3 586.6,265.7 586.6,264.9 586.6,263.7 586.7,262.8 586.7,262.4 586.7,261.6 586.8,260.4 586.8,260.2 586.9,259.2 586.9,258.6 586.9,258.6 587.0,258.3 587.0,258.3 587.1,258.0 587.1,258.1 587.2,258.2 587.2,258.7 587.3,259.8 587.3,260.6 587.4,261.3 587.4,262.2 587.5,263.4 587.5,264.3 587.6,265.5 587.7,266.5 587.7,267.4 587.8,268.2 587.8,268.6 587.9,269.6 588.0,271.0 588.2,272.4 588.4,272.9 588.6,272.5 588.7,272.0 588.8,271.7 588.9,271.6 589.0,270.6 589.1,270.1 589.2,269.8 589.4,268.7 589.5,268.0 589.6,267.4 589.7,266.4 589.9,265.7 590.0,264.5 590.2,263.5 590.3,262.4 590.4,261.9 590.5,261.2 590.6,260.8 590.6,260.4 590.7,259.6 590.8,259.1 590.9,258.2 590.9,257.8 591.0,257.0 591.1,256.1 591.2,255.3 591.3,254.5 591.4,253.9 591.4,252.8 591.5,252.2 591.6,251.5 591.7,250.5 591.8,249.8 591.9,249.0 592.0,248.2 592.1,247.3 592.1,246.7 592.2,246.3 592.3,245.3 592.4,244.4 592.5,244.0 592.6,243.1 592.7,242.4 592.8,241.7 592.8,241.4 592.9,240.7 593.0,239.8 593.1,239.2 593.3,237.9 593.4,237.2 593.5,236.5 593.7,235.4 593.8,234.5 593.9,233.9 594.1,233.3 594.2,232.2 594.3,231.4 594.5,230.8 594.6,230.1 594.7,229.1 594.9,228.3 595.0,227.9 595.1,227.4 595.2,226.9 595.3,226.1 595.5,225.9 595.6,225.2 595.7,225.0 596.6,223.2 597.4,225.3 597.5,225.3 597.6,226.1 597.7,226.1 597.8,226.8 597.8,227.4 597.9,228.2 598.0,228.9 598.1,229.5 598.2,230.2 598.3,231.1 598.4,232.3 598.5,233.0 598.6,233.4 598.7,234.8 598.8,235.1 598.9,236.4 599.0,237.2 599.1,237.6 599.2,238.2 599.3,239.1 599.4,239.5 599.5,240.2 599.6,241.3 599.7,242.1 599.8,242.6 599.9,243.1 600.0,244.3 600.1,244.7 600.2,245.4 600.3,246.6 600.4,246.8 600.5,247.6 600.6,248.3 600.7,249.2 600.8,250.2 601.0,250.6 601.1,251.5 601.2,252.3 601.4,253.2 601.5,253.5 601.6,254.3 601.8,254.9 601.9,255.8 602.1,256.6 602.3,257.0 602.4,258.2 602.6,258.8 602.8,259.4 603.0,260.4 603.1,260.7 603.3,261.8 603.5,262.1 603.7,263.2 603.9,263.8 604.1,264.3 604.3,264.9 604.5,265.6 604.7,266.4 604.9,266.8 605.1,267.6 605.3,268.3 605.5,268.7 605.7,269.6 605.9,269.8 606.2,270.5 606.5,271.5 606.8,272.1 607.0,272.7 607.3,273.4 607.6,274.1 607.9,275.3 608.3,275.7 608.6,276.3 608.9,277.0 609.2,277.6 609.5,278.1 609.9,278.8 610.2,279.7 610.6,280.1 610.9,280.6 611.3,281.3 611.8,281.5 612.3,282.3 612.8,282.8 613.3,283.6 613.9,284.3 614.4,284.8 615.0,285.0 615.6,285.4 616.1,286.1 616.7,286.1 617.3,286.8 617.8,286.9 618.4,287.3 619.0,287.8 619.7,288.1 620.4,288.3 621.0,288.7 621.7,288.4 622.3,288.5 623.0,288.8 623.7,288.7 624.4,289.3 625.2,289.3 625.8,288.9 626.5,288.9 627.2,288.9 627.9,289.0 628.6,289.1 629.3,288.8 630.0,289.0 630.7,288.7 631.4,288.6 632.2,288.3 632.9,288.3 633.6,288.2 634.4,287.9 635.0,287.7 635.7,288.0 636.4,287.6 637.1,287.6 637.7,287.2 638.4,287.2 639.1,286.6 639.8,286.8 640.5,286.5 641.2,286.3 641.8,286.0 642.5,285.6 643.2,285.7 643.9,285.2 644.6,285.0 645.3,284.8 645.9,284.0 646.6,284.0 647.3,283.3 648.0,283.2 648.7,283.2 649.3,282.8 650.0,282.3 650.7,282.1 651.4,281.6 652.1,281.6 652.7,281.0 653.4,280.5 654.1,280.3 654.8,280.5 655.5,280.4 656.1,280.1 656.8,279.7 657.5,279.5 658.2,279.6 658.9,279.2 659.5,279.1 660.2,278.5 660.9,278.4 661.6,278.4 662.3,278.4 663.0,277.9 663.6,278.0 664.4,277.9 665.1,277.7 665.8,277.5 666.5,276.9 667.2,276.7 667.9,276.5 668.6,276.5 669.4,276.1 670.0,276.0 670.7,275.8 671.4,275.4 672.0,275.8 672.7,276.1 673.5,275.1 674.3,274.9 675.1,274.7 675.9,274.5 676.7,275.3 677.5,274.4 678.2,274.9 678.8,274.9 679.4,274.0 679.9,274.4 680.3,274.3" fill="none" stroke="#3a9ec4" stroke-width="1.6" stroke-linejoin="round" opacity="1"/>
<path d="M496.5,303.9 496.9,303.8 497.3,303.9 497.7,304.1 498.2,304.0 498.6,304.1 499.1,303.8 499.7,304.0 500.2,304.2 500.8,303.6 501.4,303.7 502.0,304.1 502.7,303.5 503.4,303.6 504.0,303.9 504.7,303.9 505.5,303.9 506.2,303.8 507.0,304.1 507.7,303.9 508.5,303.5 509.3,304.1 510.1,303.8 510.9,303.7 511.7,303.9 512.6,304.1 513.4,303.7 514.3,303.7 515.1,304.1 516.0,304.1 516.9,303.8 517.7,303.9 518.6,303.5 519.5,303.7 520.4,304.0 521.2,304.1 522.1,304.0 523.0,303.8 523.9,303.8 524.7,303.5 525.6,304.0 526.5,303.7 527.3,303.6 528.2,303.9 529.0,303.7 529.9,303.7 530.7,303.7 531.5,304.1 532.3,303.8 533.1,304.2 533.9,304.2 534.7,304.2 535.4,304.3 536.1,304.1 536.9,304.0 537.6,304.0 538.2,303.9 538.9,304.0 539.6,304.3 540.2,304.0 540.8,304.1 541.4,304.1 541.9,304.3 542.5,304.2 543.0,303.9 543.5,304.3 543.9,304.5 544.3,304.1 544.8,304.6 547.6,304.7 549.1,305.3 549.5,306.0 549.3,306.8 548.9,307.2 548.6,307.9 549.0,307.9 549.5,307.6 550.0,307.1 550.5,306.8 551.1,306.3 551.6,305.6 552.2,305.4 552.8,304.8 553.4,304.3 554.1,303.8 554.7,303.3 555.3,302.8 555.9,302.5 556.6,302.8 557.2,302.8 557.8,303.1 558.4,303.0 559.1,303.1 559.7,303.8 560.4,303.7 561.0,304.2 561.8,304.6 562.5,304.6 563.2,305.4 564.0,305.6 564.6,305.3 565.3,305.7 565.9,305.7 566.6,306.2 567.3,305.9 568.1,306.2 568.8,306.4 569.6,306.8 570.3,307.1 571.0,307.4 571.8,307.4 572.5,307.4 573.2,307.6 573.8,307.8 574.5,308.1 575.1,308.0 575.6,307.9 576.5,308.1 577.4,308.5 578.2,309.2 579.0,309.5 579.7,309.7 580.4,309.5 581.0,309.6 581.5,310.0 582.0,310.2 582.4,309.9" fill="none" stroke="#6e6e6e" stroke-width="1.4" stroke-linejoin="round" opacity="1"/>
<path d="M585.2,299.4 585.6,299.7 586.0,299.6 586.5,299.5 587.1,299.7 587.7,299.4 588.3,299.4 589.0,299.5 589.7,299.5 590.4,299.4 591.2,299.6 592.0,300.1 592.8,300.0 593.6,299.9 594.5,299.7 595.3,299.5 596.2,300.0 597.0,300.1 597.8,299.7 598.7,300.2 599.5,299.8 600.3,300.1 601.1,300.3 601.9,300.0 602.7,300.2 603.4,300.0 604.1,299.9 604.8,299.8 605.6,299.9 606.4,300.3 607.1,300.5 607.8,300.4 608.5,300.0 609.2,300.4 609.9,300.6 610.6,300.3 611.3,300.3 612.0,300.7 612.7,300.5 613.4,300.6 614.1,300.8 614.8,300.7 615.5,300.5 616.2,300.6 617.0,301.1 617.7,301.1 618.5,301.0 619.3,300.8 620.1,300.9 620.7,300.8 621.4,300.8 622.1,300.9 622.8,301.2 623.5,301.0 624.2,301.2 625.0,300.9 625.7,300.5 626.5,301.0 627.3,300.5 628.0,300.8 628.8,300.6 629.6,301.0 630.4,300.5 631.1,300.6 631.9,300.3 632.6,300.5 633.4,300.6 634.1,300.5 634.8,300.2 635.5,300.3 636.2,300.4 636.9,300.0 637.5,300.2 638.2,300.4 638.8,300.2 639.3,300.2 639.9,299.9 640.9,299.7 641.8,299.5 642.7,299.7 643.5,299.3 644.2,299.2 644.9,299.1 645.5,298.6 646.1,299.0 646.7,298.3 647.3,298.0 647.9,297.8 648.5,297.6 649.1,297.7 649.8,297.5 650.5,297.6 651.2,296.8 651.9,297.0 652.6,297.0 653.2,296.2 653.9,296.5 654.6,295.9 655.3,295.7 655.9,295.7 656.6,295.2 657.3,295.1 658.0,295.2 658.7,294.9 659.3,295.0 660.1,294.3 660.8,294.4 661.5,294.0 662.2,294.0 662.9,294.4 663.6,293.8 664.3,293.7 665.1,293.8 665.8,293.5 666.5,293.5 667.3,293.3 668.1,293.0 668.9,293.5 669.5,293.4 670.3,292.9 671.1,292.8 671.9,292.7 672.7,292.9 673.5,292.6 674.4,292.0 675.2,292.3 676.0,292.3 676.8,291.7 677.5,292.1 678.2,291.7 678.8,291.8 679.4,291.7 679.9,291.4 680.3,291.2" fill="none" stroke="#6e6e6e" stroke-width="1.4" stroke-linejoin="round" opacity="1"/>
<path d="M496.5,304.1 496.9,304.0 497.3,303.8 497.7,304.1 498.2,303.8 498.6,304.1 499.1,303.6 499.7,303.5 500.2,303.8 500.8,304.0 501.4,304.0 502.0,303.7 502.7,303.6 503.4,303.9 504.0,304.1 504.7,303.4 505.5,303.7 506.2,303.8 507.0,304.0 507.7,303.8 508.5,303.5 509.3,303.9 510.1,303.5 510.9,303.9 511.7,304.0 512.6,304.0 513.4,303.8 514.3,303.6 515.1,303.3 516.0,303.7 516.9,303.8 517.7,303.6 518.6,303.6 519.5,303.9 520.4,303.9 521.2,303.5 522.1,303.6 523.0,303.9 523.9,303.5 524.7,303.8 525.6,303.7 526.5,303.8 527.3,303.3 528.2,303.8 529.0,303.8 529.9,303.8 530.7,303.2 531.5,303.7 532.3,303.4 533.1,303.2 533.9,303.6 534.7,303.4 535.4,303.4 536.1,303.4 536.9,303.7 537.6,303.6 538.2,303.6 538.9,303.7 539.6,303.7 540.2,303.8 540.8,303.9 541.4,303.9 541.9,303.8 542.5,303.3 543.0,303.7 543.5,304.1 543.9,303.5 544.3,303.6 544.8,303.6 547.4,303.9 548.8,304.4 549.4,305.5 549.5,306.4 549.1,306.6 548.8,307.3 548.6,308.0 549.0,307.7 549.4,307.4 549.8,307.3 550.1,306.9 550.4,306.4 550.7,305.4 551.1,305.0 551.5,304.3 552.1,303.7 552.8,303.2 553.6,302.7 554.7,302.8 555.9,302.3 556.4,301.9 556.9,302.3 557.5,302.0 558.1,302.3 558.7,302.6 559.4,302.2 560.1,302.6 560.9,302.3 561.6,302.4 562.4,302.3 563.2,302.5 564.0,302.3 564.9,302.7 565.7,302.7 566.6,302.5 567.4,302.7 568.3,303.1 569.2,302.8 570.0,303.1 570.9,303.2 571.8,302.9 572.6,303.0 573.4,303.1 574.3,303.6 575.1,303.3 575.9,303.8 576.6,303.6 577.4,304.1 578.1,303.6 578.7,304.1 579.4,304.2 580.0,303.9 580.6,304.5 581.1,304.0 581.6,304.5 582.0,304.5 582.4,304.1" fill="none" stroke="#e4a3a1" stroke-width="1.4" stroke-linejoin="round" opacity="1"/>
<path d="M585.2,301.0 585.6,300.9 586.0,301.1 586.5,300.7 587.1,300.6 587.7,300.9 588.3,300.6 589.0,301.0 589.7,301.1 590.4,300.9 591.2,300.9 592.0,301.0 592.8,300.9 593.6,301.4 594.5,301.4 595.3,300.8 596.2,301.1 597.0,301.5 597.8,301.3 598.7,301.5 599.5,301.1 600.3,301.2 601.1,301.0 601.9,301.0 602.7,301.1 603.4,301.0 604.1,301.6 604.8,301.4 605.6,301.3 606.3,301.2 607.0,301.3 607.6,301.2 608.3,301.7 608.9,301.4 609.5,301.9 610.1,301.6 610.8,301.6 611.4,301.7 612.0,301.7 612.7,302.0 613.4,301.6 614.1,301.9 614.8,302.0 615.6,301.9 616.4,301.6 617.2,301.9 618.1,301.8 619.1,301.9 620.1,302.0 620.6,301.9 621.2,301.8 621.8,301.7 622.4,301.7 623.1,301.9 623.7,301.5 624.4,301.9 625.1,301.4 625.8,301.4 626.5,301.7 627.2,301.4 628.0,301.2 628.7,301.5 629.5,301.2 630.3,300.9 631.0,300.9 631.8,300.8 632.6,301.0 633.4,301.2 634.2,300.6 635.0,300.9 635.8,300.9 636.6,301.0 637.4,300.8 638.1,300.6 638.9,300.6 639.7,300.2 640.5,300.3 641.2,300.0 642.0,300.2 642.7,300.2 643.4,300.3 644.1,300.0 644.8,300.3 645.5,299.6 646.2,299.8 646.8,299.9 647.5,299.7 648.1,299.9 648.7,299.6 649.3,299.8 649.8,299.3 650.8,299.4 651.7,299.1 652.6,299.4 653.5,298.8 654.3,299.2 655.0,298.8 655.7,298.7 656.4,298.9 657.1,298.6 657.7,298.6 658.3,298.3 658.9,298.2 659.5,298.1 660.1,297.8 660.7,297.6 661.3,297.7 661.9,297.2 662.5,297.6 663.1,297.5 663.7,297.2 664.4,297.3 665.1,296.7 665.8,296.7 666.6,297.0 667.4,297.0 668.2,296.9 669.0,296.7 669.9,296.7 670.7,296.4 671.5,296.1 672.4,296.2 673.2,296.3 674.0,296.2 674.8,296.1 675.6,295.4 676.3,295.8 677.1,295.2 677.7,295.4 678.3,295.2 678.9,295.5 679.4,295.1 679.9,295.6 680.3,295.5" fill="none" stroke="#e4a3a1" stroke-width="1.4" stroke-linejoin="round" opacity="1"/>
<path d="M496.5,304.1 496.9,303.9 497.3,303.8 497.7,303.5 498.2,303.6 498.6,304.0 499.1,303.5 499.7,304.0 500.2,303.4 500.8,304.2 501.4,304.2 502.0,303.5 502.7,303.8 503.4,303.5 504.0,303.8 504.7,303.3 505.5,304.0 506.2,303.8 507.0,303.9 507.7,304.0 508.5,303.5 509.3,303.3 510.1,303.6 510.9,304.0 511.7,303.4 512.6,303.7 513.4,304.0 514.3,304.1 515.1,303.3 516.0,303.5 516.9,303.2 517.7,303.5 518.6,303.4 519.5,304.0 520.4,303.7 521.2,303.8 522.1,303.7 523.0,303.8 523.9,303.5 524.7,303.7 525.6,303.2 526.5,303.6 527.3,303.2 528.2,303.4 529.0,303.7 529.9,303.9 530.7,303.4 531.5,303.5 532.3,303.6 533.1,303.8 533.9,303.7 534.7,303.6 535.4,303.3 536.1,303.2 536.9,303.6 537.6,303.2 538.2,304.0 538.9,303.3 539.6,303.9 540.2,303.5 540.8,303.4 541.4,303.9 541.9,303.3 542.5,303.7 543.0,303.9 543.5,303.8 543.9,303.7 544.3,304.2 544.8,303.8 547.4,304.2 548.8,304.7 549.4,305.7 549.5,306.5 549.1,307.2 548.8,307.1 548.6,307.5 549.0,307.6 549.4,307.4 549.7,307.4 550.0,306.9 550.3,306.7 550.6,305.7 550.9,305.5 551.3,304.4 551.7,303.7 552.3,303.2 553.0,303.2 553.8,302.6 554.8,302.5 555.9,302.2 556.4,302.0 556.9,301.7 557.5,301.9 558.1,301.6 558.7,301.5 559.4,302.0 560.1,301.4 560.9,301.6 561.6,301.6 562.4,301.4 563.2,301.2 564.0,302.1 564.9,301.9 565.7,301.0 566.6,301.8 567.4,301.3 568.3,301.1 569.2,302.2 570.0,301.9 570.9,302.1 571.8,301.3 572.6,302.4 573.4,302.7 574.3,302.8 575.1,301.8 575.9,302.7 576.6,302.1 577.4,303.0 578.1,301.4 578.7,299.8 579.4,305.3 580.0,299.8 580.6,305.0 581.1,305.2 581.6,299.7 582.0,302.1 582.4,305.5" fill="none" stroke="#d46a66" stroke-width="1.4" stroke-linejoin="round" opacity="1"/>
<path d="M585.2,302.7 585.6,302.6 586.0,302.2 586.4,302.2 586.8,302.8 587.3,302.7 587.8,302.6 588.3,302.2 588.9,302.8 589.5,302.5 590.1,302.5 590.7,302.8 591.3,302.2 592.0,302.2 592.6,302.6 593.3,302.5 594.0,302.9 594.8,302.6 595.5,302.8 596.2,302.6 597.0,303.0 597.8,302.5 598.6,302.3 599.4,302.4 600.2,303.0 601.0,302.3 601.8,302.4 602.6,302.4 603.5,302.6 604.3,302.6 605.1,303.1 606.0,302.5 606.8,302.4 607.7,302.7 608.5,303.0 609.4,302.6 610.2,302.7 611.1,302.4 611.9,302.6 612.8,302.7 613.6,302.6 614.2,302.5 614.8,302.9 615.5,302.9 616.1,303.0 616.8,302.5 617.5,302.7 618.1,302.7 618.8,302.9 619.5,303.2 620.2,302.8 620.9,303.0 621.6,303.0 622.3,302.7 623.0,302.6 623.7,302.7 624.5,302.9 625.2,302.8 625.9,302.7 626.7,302.6 627.4,302.5 628.1,303.0 628.9,303.1 629.6,302.6 630.4,302.8 631.1,303.0 631.9,302.9 632.6,303.1 633.4,302.8 634.1,302.6 634.9,302.7 635.6,303.1 636.4,302.9 637.1,303.1 637.9,303.0 638.6,303.1 639.3,302.4 640.1,302.4 640.8,302.8 641.5,302.6 642.3,302.3 643.0,302.7 643.7,302.9 644.4,302.2 645.1,303.0 645.8,302.3 646.5,302.2 647.2,302.9 647.8,303.1 648.5,302.9 649.2,302.5 649.8,303.1 650.5,302.2 651.1,302.4 651.7,302.6 652.5,302.9 653.4,302.6 654.2,301.9 655.1,302.2 655.9,303.1 656.8,302.6 657.6,302.0 658.5,302.4 659.3,302.8 660.2,301.7 661.0,302.7 661.9,302.4 662.7,302.9 663.6,302.3 664.4,302.1 665.2,301.7 666.0,302.3 666.8,302.5 667.6,301.6 668.4,302.7 669.2,302.1 669.9,301.9 670.7,301.4 671.4,302.7 672.1,301.3 672.8,301.4 673.5,302.7 674.1,301.6 674.8,302.7 675.4,301.4 676.0,301.6 676.6,301.2 677.1,302.1 677.7,301.9 678.2,301.6 678.6,302.0 679.1,300.8 679.5,301.4 679.9,302.3 680.3,301.7" fill="none" stroke="#d46a66" stroke-width="1.4" stroke-linejoin="round" opacity="1"/>
<path d="M496.5,303.6 496.9,303.9 497.3,303.8 497.7,303.5 498.2,303.5 498.6,304.2 499.1,303.7 499.7,303.4 500.2,304.2 500.8,303.6 501.4,303.7 502.0,303.9 502.7,303.6 503.4,303.4 504.0,303.6 504.7,303.4 505.5,303.9 506.2,303.7 507.0,304.0 507.7,303.5 508.5,303.4 509.3,303.5 510.1,303.6 510.9,303.5 511.7,303.7 512.6,303.7 513.4,303.4 514.3,303.3 515.1,303.2 516.0,303.3 516.9,303.3 517.7,303.2 518.6,303.1 519.5,303.6 520.4,304.0 521.2,303.2 522.1,303.7 523.0,303.5 523.9,303.5 524.7,303.2 525.6,303.6 526.5,303.6 527.3,303.8 528.2,303.7 529.0,303.1 529.9,303.1 530.7,303.4 531.5,303.6 532.3,303.4 533.1,303.8 533.9,303.9 534.7,303.9 535.4,303.5 536.1,303.8 536.9,304.0 537.6,303.5 538.2,303.2 538.9,303.2 539.6,303.5 540.2,303.3 540.8,303.8 541.4,304.0 541.9,303.9 542.5,303.9 543.0,303.6 543.5,303.7 543.9,303.5 544.3,303.4 544.8,304.0 547.4,304.5 548.8,304.4 549.4,305.7 549.5,306.3 549.1,307.0 548.8,307.6 548.6,307.6 549.0,307.7 549.4,307.2 549.8,307.5 550.1,306.6 550.4,306.1 550.7,305.5 551.1,305.2 551.5,305.0 552.1,304.2 552.8,303.3 553.6,303.4 554.7,302.6 555.9,302.7 556.4,302.3 556.9,302.2 557.5,302.6 558.1,302.1 558.7,302.1 559.4,301.8 560.1,301.8 560.9,301.7 561.6,302.6 562.4,302.1 563.2,301.8 564.0,302.0 564.9,302.6 565.7,302.2 566.6,302.7 567.4,302.6 568.3,302.9 569.2,302.7 570.0,302.3 570.9,303.2 571.8,301.8 572.6,303.3 573.4,302.4 574.3,302.8 575.1,302.1 575.9,303.7 576.6,303.1 577.4,303.6 578.1,304.7 578.7,300.1 579.4,300.9 580.0,301.0 580.6,300.8 581.1,304.6 581.6,305.0 582.0,300.8 582.4,306.7" fill="none" stroke="#c9524f" stroke-width="1.4" stroke-linejoin="round" opacity="1"/>
<path d="M585.2,303.0 585.6,303.0 586.0,303.2 586.4,303.4 586.8,302.9 587.3,302.9 587.8,303.2 588.3,303.0 588.9,302.9 589.5,302.7 590.1,303.3 590.7,303.2 591.3,303.3 592.0,303.5 592.6,302.9 593.3,303.0 594.0,303.1 594.8,303.3 595.5,303.5 596.2,303.0 597.0,303.1 597.8,303.3 598.6,303.0 599.4,303.3 600.2,303.5 601.0,303.6 601.8,303.4 602.6,303.1 603.5,303.6 604.3,303.6 605.1,303.2 606.0,303.0 606.8,303.4 607.7,303.7 608.5,303.0 609.4,303.6 610.2,303.2 611.1,303.4 611.9,303.7 612.8,303.7 613.6,303.6 614.2,303.1 614.8,303.6 615.5,303.1 616.1,303.2 616.8,303.6 617.5,303.3 618.1,303.5 618.8,303.3 619.5,303.7 620.2,303.6 620.9,303.1 621.6,303.6 622.3,303.3 623.0,303.4 623.7,302.9 624.5,303.7 625.2,303.5 625.9,303.4 626.7,303.1 627.4,303.6 628.1,303.1 628.9,303.5 629.6,303.4 630.4,303.0 631.1,303.2 631.9,303.1 632.6,303.6 633.4,302.9 634.1,303.4 634.9,303.2 635.6,303.2 636.4,303.0 637.1,303.2 637.9,302.9 638.6,302.9 639.3,303.2 640.1,302.9 640.8,303.6 641.5,303.4 642.3,303.2 643.0,302.9 643.7,303.6 644.4,303.0 645.1,302.8 645.8,303.6 646.5,303.2 647.2,303.3 647.8,302.8 648.5,302.6 649.2,303.4 649.8,303.0 650.5,303.0 651.1,302.8 651.7,303.3 652.5,303.5 653.4,302.5 654.2,303.3 655.1,303.2 655.9,303.3 656.8,303.1 657.6,303.4 658.5,302.7 659.3,303.1 660.2,302.9 661.0,303.2 661.9,303.1 662.7,302.6 663.6,302.6 664.4,303.3 665.2,302.1 666.0,302.4 666.8,302.0 667.6,301.9 668.4,303.1 669.2,302.3 669.9,303.3 670.7,302.2 671.4,302.1 672.1,302.4 672.8,303.0 673.5,303.2 674.1,303.1 674.8,301.9 675.4,302.3 676.0,301.7 676.6,303.1 677.1,301.4 677.7,302.7 678.2,301.7 678.6,301.6 679.1,302.5 679.5,301.6 679.9,302.1 680.3,302.9" fill="none" stroke="#c9524f" stroke-width="1.4" stroke-linejoin="round" opacity="1"/>
</g>
<line x1="496" y1="205.5" x2="681" y2="205.5" stroke="#8a8a8a" stroke-width="1"/>
<line x1="680.5" y1="205.5" x2="680.5" y2="354" stroke="#4a4a4a" stroke-width="1"/>
<line x1="496.5" y1="205" x2="496.5" y2="354" stroke="#3a3a3a" stroke-width="1"/>
<line x1="496" y1="353.5" x2="681" y2="353.5" stroke="#3a3a3a" stroke-width="1"/>
<rect x="580" y="350.5" width="6" height="6" fill="#fff"/>
<line x1="580.5" y1="356" x2="583.5" y2="351" stroke="#555" stroke-width="0.9"/>
<line x1="583.5" y1="356" x2="586.5" y2="351" stroke="#555" stroke-width="0.9"/>
<text x="501.5" y="215.6" font-size="9" text-anchor="start" fill="#1a1a1a" >PM6:L8-BO 4:6 NPs</text>
<line x1="501.5" y1="223.7" x2="522" y2="223.7" stroke="#3a9ec4" stroke-width="1.4"/>
<text x="525" y="226.9" font-size="9" text-anchor="start" fill="#1a1a1a" >114fs</text>
<line x1="501.5" y1="234.8" x2="522" y2="234.8" stroke="#8fcfe3" stroke-width="1.1"/>
<text x="525" y="237.9" font-size="9" text-anchor="start" fill="#1a1a1a" >1 ps</text>
<line x1="501.5" y1="245.8" x2="522" y2="245.8" stroke="#acdbea" stroke-width="1.1"/>
<text x="525" y="249" font-size="9" text-anchor="start" fill="#1a1a1a" >5 ps</text>
<line x1="501.5" y1="256.9" x2="522" y2="256.9" stroke="#6e6e6e" stroke-width="1.1"/>
<text x="525" y="260.1" font-size="9" text-anchor="start" fill="#1a1a1a" >50 ps</text>
<line x1="501.5" y1="267.9" x2="522" y2="267.9" stroke="#e8aaa8" stroke-width="1.1"/>
<text x="525" y="271.1" font-size="9" text-anchor="start" fill="#1a1a1a" >100 ps</text>
<line x1="549" y1="223.7" x2="569.5" y2="223.7" stroke="#d46a66" stroke-width="1.1"/>
<text x="572.5" y="226.9" font-size="9" text-anchor="start" fill="#1a1a1a" >1 ns</text>
<line x1="549" y1="234.8" x2="569.5" y2="234.8" stroke="#c9524f" stroke-width="1.3"/>
<text x="572.5" y="237.9" font-size="9" text-anchor="start" fill="#1a1a1a" >5 ns</text>
<radialGradient id="gb" cx="0.4" cy="0.38" r="0.62"><stop offset="0" stop-color="#d8f0f8"/><stop offset="0.45" stop-color="#6cc0de"/><stop offset="1" stop-color="#3d9cc2"/></radialGradient>
<radialGradient id="gp" cx="0.4" cy="0.38" r="0.62"><stop offset="0" stop-color="#fae4e2"/><stop offset="0.45" stop-color="#e8a6a4"/><stop offset="1" stop-color="#cf7f7c"/></radialGradient>
<line x1="35.5" y1="547.5" x2="38.5" y2="547.5" stroke="#555" stroke-width="0.9"/>
<text x="34" y="550.6" font-size="8.5" text-anchor="end" fill="#1a1a1a" >&#8722;0.3</text>
<line x1="35.5" y1="518" x2="38.5" y2="518" stroke="#555" stroke-width="0.9"/>
<text x="34" y="521.1" font-size="8.5" text-anchor="end" fill="#1a1a1a" >0.0</text>
<line x1="35.5" y1="488.5" x2="38.5" y2="488.5" stroke="#555" stroke-width="0.9"/>
<text x="34" y="491.6" font-size="8.5" text-anchor="end" fill="#1a1a1a" >0.3</text>
<line x1="35.5" y1="459" x2="38.5" y2="459" stroke="#555" stroke-width="0.9"/>
<text x="34" y="462.1" font-size="8.5" text-anchor="end" fill="#1a1a1a" >0.6</text>
<line x1="35.5" y1="429.5" x2="38.5" y2="429.5" stroke="#555" stroke-width="0.9"/>
<text x="34" y="432.6" font-size="8.5" text-anchor="end" fill="#1a1a1a" >0.9</text>
<line x1="35.5" y1="400" x2="38.5" y2="400" stroke="#555" stroke-width="0.9"/>
<text x="34" y="403.1" font-size="8.5" text-anchor="end" fill="#1a1a1a" >1.2</text>
<line x1="36.7" y1="532.7" x2="38.5" y2="532.7" stroke="#555" stroke-width="0.7"/>
<line x1="36.7" y1="503.3" x2="38.5" y2="503.3" stroke="#555" stroke-width="0.7"/>
<line x1="36.7" y1="473.8" x2="38.5" y2="473.8" stroke="#555" stroke-width="0.7"/>
<line x1="36.7" y1="444.3" x2="38.5" y2="444.3" stroke="#555" stroke-width="0.7"/>
<line x1="36.7" y1="414.8" x2="38.5" y2="414.8" stroke="#555" stroke-width="0.7"/>
<line x1="38.2" y1="547.5" x2="38.2" y2="550.5" stroke="#555" stroke-width="0.9"/>
<text x="38.2" y="558.5" font-size="8.5" text-anchor="middle" fill="#1a1a1a" >0.1</text>
<line x1="51.7" y1="547.5" x2="51.7" y2="549.1" stroke="#555" stroke-width="0.6"/>
<line x1="59.7" y1="547.5" x2="59.7" y2="549.1" stroke="#555" stroke-width="0.6"/>
<line x1="65.3" y1="547.5" x2="65.3" y2="549.1" stroke="#555" stroke-width="0.6"/>
<line x1="69.7" y1="547.5" x2="69.7" y2="549.1" stroke="#555" stroke-width="0.6"/>
<line x1="73.2" y1="547.5" x2="73.2" y2="549.1" stroke="#555" stroke-width="0.6"/>
<line x1="76.2" y1="547.5" x2="76.2" y2="549.1" stroke="#555" stroke-width="0.6"/>
<line x1="78.8" y1="547.5" x2="78.8" y2="549.1" stroke="#555" stroke-width="0.6"/>
<line x1="81.1" y1="547.5" x2="81.1" y2="549.1" stroke="#555" stroke-width="0.6"/>
<line x1="83.2" y1="547.5" x2="83.2" y2="550.5" stroke="#555" stroke-width="0.9"/>
<text x="83.2" y="558.5" font-size="8.5" text-anchor="middle" fill="#1a1a1a" >1</text>
<line x1="96.7" y1="547.5" x2="96.7" y2="549.1" stroke="#555" stroke-width="0.6"/>
<line x1="104.7" y1="547.5" x2="104.7" y2="549.1" stroke="#555" stroke-width="0.6"/>
<line x1="110.3" y1="547.5" x2="110.3" y2="549.1" stroke="#555" stroke-width="0.6"/>
<line x1="114.7" y1="547.5" x2="114.7" y2="549.1" stroke="#555" stroke-width="0.6"/>
<line x1="118.2" y1="547.5" x2="118.2" y2="549.1" stroke="#555" stroke-width="0.6"/>
<line x1="121.2" y1="547.5" x2="121.2" y2="549.1" stroke="#555" stroke-width="0.6"/>
<line x1="123.8" y1="547.5" x2="123.8" y2="549.1" stroke="#555" stroke-width="0.6"/>
<line x1="126.1" y1="547.5" x2="126.1" y2="549.1" stroke="#555" stroke-width="0.6"/>
<line x1="128.2" y1="547.5" x2="128.2" y2="550.5" stroke="#555" stroke-width="0.9"/>
<text x="128.2" y="558.5" font-size="8.5" text-anchor="middle" fill="#1a1a1a" >10</text>
<line x1="141.7" y1="547.5" x2="141.7" y2="549.1" stroke="#555" stroke-width="0.6"/>
<line x1="149.7" y1="547.5" x2="149.7" y2="549.1" stroke="#555" stroke-width="0.6"/>
<line x1="155.3" y1="547.5" x2="155.3" y2="549.1" stroke="#555" stroke-width="0.6"/>
<line x1="159.7" y1="547.5" x2="159.7" y2="549.1" stroke="#555" stroke-width="0.6"/>
<line x1="163.2" y1="547.5" x2="163.2" y2="549.1" stroke="#555" stroke-width="0.6"/>
<line x1="166.2" y1="547.5" x2="166.2" y2="549.1" stroke="#555" stroke-width="0.6"/>
<line x1="168.8" y1="547.5" x2="168.8" y2="549.1" stroke="#555" stroke-width="0.6"/>
<line x1="171.1" y1="547.5" x2="171.1" y2="549.1" stroke="#555" stroke-width="0.6"/>
<line x1="173.2" y1="547.5" x2="173.2" y2="550.5" stroke="#555" stroke-width="0.9"/>
<text x="173.2" y="558.5" font-size="8.5" text-anchor="middle" fill="#1a1a1a" >100</text>
<line x1="186.7" y1="547.5" x2="186.7" y2="549.1" stroke="#555" stroke-width="0.6"/>
<line x1="194.7" y1="547.5" x2="194.7" y2="549.1" stroke="#555" stroke-width="0.6"/>
<line x1="200.3" y1="547.5" x2="200.3" y2="549.1" stroke="#555" stroke-width="0.6"/>
<line x1="204.7" y1="547.5" x2="204.7" y2="549.1" stroke="#555" stroke-width="0.6"/>
<line x1="208.2" y1="547.5" x2="208.2" y2="549.1" stroke="#555" stroke-width="0.6"/>
<line x1="211.2" y1="547.5" x2="211.2" y2="549.1" stroke="#555" stroke-width="0.6"/>
<line x1="213.8" y1="547.5" x2="213.8" y2="549.1" stroke="#555" stroke-width="0.6"/>
<line x1="216.1" y1="547.5" x2="216.1" y2="549.1" stroke="#555" stroke-width="0.6"/>
<line x1="218.2" y1="547.5" x2="218.2" y2="550.5" stroke="#555" stroke-width="0.9"/>
<text x="218.2" y="558.5" font-size="8.5" text-anchor="middle" fill="#1a1a1a" >1000</text>
<text x="131.7" y="573" font-size="9" text-anchor="middle" fill="#1a1a1a" >Time (ps)</text>
<text transform="translate(14.4,473.8) rotate(-90)" font-size="9" text-anchor="middle" fill="#222">&#916;A (mOD)</text>
<clipPath id="ck38"><rect x="38.5" y="399.5" width="186" height="148"/></clipPath>
<g clip-path="url(#ck38)">
<circle cx="49.8" cy="455.2" r="2.1" fill="url(#gp)"/>
<circle cx="44.1" cy="467.4" r="2.1" fill="url(#gp)"/>
<circle cx="54.5" cy="467.0" r="2.1" fill="url(#gp)"/>
<circle cx="58.9" cy="466.0" r="2.1" fill="url(#gp)"/>
<circle cx="62.3" cy="470.5" r="2.1" fill="url(#gp)"/>
<circle cx="65.0" cy="474.7" r="2.1" fill="url(#gp)"/>
<circle cx="68.4" cy="486.2" r="2.1" fill="url(#gp)"/>
<circle cx="72.8" cy="494.3" r="2.1" fill="url(#gp)"/>
<circle cx="71.0" cy="497.0" r="2.1" fill="url(#gp)"/>
<circle cx="75.4" cy="503.0" r="2.1" fill="url(#gp)"/>
<circle cx="78.0" cy="510.0" r="2.1" fill="url(#gp)"/>
<circle cx="79.7" cy="506.5" r="2.1" fill="url(#gp)"/>
<circle cx="83.2" cy="488.6" r="2.1" fill="url(#gp)"/>
<circle cx="85.0" cy="508.3" r="2.1" fill="url(#gp)"/>
<circle cx="88.4" cy="510.9" r="2.1" fill="url(#gp)"/>
<circle cx="94.5" cy="507.7" r="2.1" fill="url(#gp)"/>
<circle cx="97.1" cy="511.7" r="2.1" fill="url(#gp)"/>
<circle cx="101.5" cy="515.2" r="2.1" fill="url(#gp)"/>
<circle cx="105.0" cy="518.7" r="2.1" fill="url(#gp)"/>
<circle cx="102.3" cy="523.0" r="2.1" fill="url(#gp)"/>
<circle cx="107.6" cy="523.0" r="2.1" fill="url(#gp)"/>
<circle cx="113.7" cy="516.6" r="2.1" fill="url(#gp)"/>
<circle cx="111.9" cy="523.9" r="2.1" fill="url(#gp)"/>
<circle cx="109.3" cy="530.9" r="2.1" fill="url(#gp)"/>
<circle cx="115.4" cy="530.9" r="2.1" fill="url(#gp)"/>
<circle cx="118.0" cy="526.5" r="2.1" fill="url(#gp)"/>
<circle cx="123.2" cy="529.1" r="2.1" fill="url(#gp)"/>
<circle cx="126.7" cy="520.4" r="2.1" fill="url(#gp)"/>
<circle cx="128.4" cy="522.2" r="2.1" fill="url(#gp)"/>
<circle cx="131.9" cy="526.5" r="2.1" fill="url(#gp)"/>
<circle cx="134.5" cy="531.7" r="2.1" fill="url(#gp)"/>
<circle cx="137.1" cy="522.2" r="2.1" fill="url(#gp)"/>
<circle cx="138.1" cy="533.5" r="2.1" fill="url(#gp)"/>
<circle cx="138.8" cy="535.8" r="2.1" fill="url(#gp)"/>
<circle cx="139.6" cy="532.2" r="2.1" fill="url(#gp)"/>
<circle cx="141.3" cy="526.2" r="2.1" fill="url(#gp)"/>
<circle cx="142.2" cy="534.8" r="2.1" fill="url(#gp)"/>
<circle cx="143.1" cy="533.4" r="2.1" fill="url(#gp)"/>
<circle cx="143.6" cy="532.3" r="2.1" fill="url(#gp)"/>
<circle cx="145.3" cy="528.2" r="2.1" fill="url(#gp)"/>
<circle cx="145.5" cy="528.5" r="2.1" fill="url(#gp)"/>
<circle cx="147.1" cy="531.4" r="2.1" fill="url(#gp)"/>
<circle cx="147.7" cy="538.1" r="2.1" fill="url(#gp)"/>
<circle cx="148.4" cy="523.7" r="2.1" fill="url(#gp)"/>
<circle cx="149.4" cy="524.0" r="2.1" fill="url(#gp)"/>
<circle cx="150.4" cy="532.9" r="2.1" fill="url(#gp)"/>
<circle cx="152.2" cy="527.2" r="2.1" fill="url(#gp)"/>
<circle cx="152.7" cy="530.6" r="2.1" fill="url(#gp)"/>
<circle cx="153.4" cy="532.6" r="2.1" fill="url(#gp)"/>
<circle cx="154.4" cy="522.8" r="2.1" fill="url(#gp)"/>
<circle cx="155.8" cy="526.6" r="2.1" fill="url(#gp)"/>
<circle cx="156.9" cy="528.6" r="2.1" fill="url(#gp)"/>
<circle cx="157.5" cy="535.9" r="2.1" fill="url(#gp)"/>
<circle cx="158.6" cy="525.9" r="2.1" fill="url(#gp)"/>
<circle cx="159.5" cy="520.8" r="2.1" fill="url(#gp)"/>
<circle cx="161.0" cy="527.6" r="2.1" fill="url(#gp)"/>
<circle cx="161.9" cy="531.8" r="2.1" fill="url(#gp)"/>
<circle cx="162.4" cy="533.4" r="2.1" fill="url(#gp)"/>
<circle cx="163.6" cy="530.2" r="2.1" fill="url(#gp)"/>
<circle cx="164.2" cy="531.3" r="2.1" fill="url(#gp)"/>
<circle cx="165.3" cy="538.6" r="2.1" fill="url(#gp)"/>
<circle cx="166.4" cy="529.4" r="2.1" fill="url(#gp)"/>
<circle cx="167.0" cy="526.1" r="2.1" fill="url(#gp)"/>
<circle cx="168.4" cy="533.6" r="2.1" fill="url(#gp)"/>
<circle cx="169.1" cy="533.2" r="2.1" fill="url(#gp)"/>
<circle cx="170.5" cy="525.9" r="2.1" fill="url(#gp)"/>
<circle cx="170.9" cy="531.5" r="2.1" fill="url(#gp)"/>
<circle cx="172.4" cy="529.1" r="2.1" fill="url(#gp)"/>
<circle cx="172.8" cy="528.9" r="2.1" fill="url(#gp)"/>
<circle cx="174.3" cy="523.0" r="2.1" fill="url(#gp)"/>
<circle cx="174.8" cy="531.4" r="2.1" fill="url(#gp)"/>
<circle cx="176.0" cy="526.8" r="2.1" fill="url(#gp)"/>
<circle cx="177.1" cy="521.7" r="2.1" fill="url(#gp)"/>
<circle cx="178.5" cy="529.1" r="2.1" fill="url(#gp)"/>
<circle cx="178.8" cy="522.9" r="2.1" fill="url(#gp)"/>
<circle cx="179.8" cy="529.8" r="2.1" fill="url(#gp)"/>
<circle cx="181.3" cy="526.8" r="2.1" fill="url(#gp)"/>
<circle cx="181.8" cy="527.6" r="2.1" fill="url(#gp)"/>
<circle cx="183.2" cy="529.3" r="2.1" fill="url(#gp)"/>
<circle cx="183.5" cy="523.7" r="2.1" fill="url(#gp)"/>
<circle cx="184.5" cy="538.4" r="2.1" fill="url(#gp)"/>
<circle cx="186.4" cy="537.4" r="2.1" fill="url(#gp)"/>
<circle cx="186.9" cy="522.1" r="2.1" fill="url(#gp)"/>
<circle cx="188.1" cy="526.0" r="2.1" fill="url(#gp)"/>
<circle cx="189.1" cy="529.1" r="2.1" fill="url(#gp)"/>
<circle cx="189.8" cy="529.6" r="2.1" fill="url(#gp)"/>
<circle cx="190.8" cy="529.4" r="2.1" fill="url(#gp)"/>
<circle cx="192.2" cy="529.4" r="2.1" fill="url(#gp)"/>
<circle cx="193.1" cy="523.9" r="2.1" fill="url(#gp)"/>
<circle cx="194.1" cy="522.4" r="2.1" fill="url(#gp)"/>
<circle cx="194.5" cy="520.1" r="2.1" fill="url(#gp)"/>
<circle cx="195.9" cy="528.3" r="2.1" fill="url(#gp)"/>
<circle cx="196.8" cy="525.0" r="2.1" fill="url(#gp)"/>
<circle cx="197.4" cy="521.6" r="2.1" fill="url(#gp)"/>
<circle cx="198.8" cy="526.8" r="2.1" fill="url(#gp)"/>
<circle cx="199.9" cy="528.4" r="2.1" fill="url(#gp)"/>
<circle cx="200.5" cy="525.4" r="2.1" fill="url(#gp)"/>
<circle cx="202.0" cy="519.8" r="2.1" fill="url(#gp)"/>
<circle cx="202.6" cy="534.1" r="2.1" fill="url(#gp)"/>
<circle cx="203.9" cy="534.0" r="2.1" fill="url(#gp)"/>
<circle cx="204.7" cy="531.6" r="2.1" fill="url(#gp)"/>
<circle cx="205.8" cy="521.7" r="2.1" fill="url(#gp)"/>
<circle cx="206.7" cy="529.5" r="2.1" fill="url(#gp)"/>
<circle cx="207.3" cy="527.5" r="2.1" fill="url(#gp)"/>
<circle cx="208.6" cy="525.9" r="2.1" fill="url(#gp)"/>
<circle cx="209.5" cy="525.3" r="2.1" fill="url(#gp)"/>
<circle cx="210.7" cy="521.4" r="2.1" fill="url(#gp)"/>
<circle cx="211.7" cy="535.8" r="2.1" fill="url(#gp)"/>
<circle cx="212.3" cy="523.4" r="2.1" fill="url(#gp)"/>
<circle cx="212.9" cy="529.7" r="2.1" fill="url(#gp)"/>
<circle cx="214.1" cy="529.3" r="2.1" fill="url(#gp)"/>
<circle cx="215.4" cy="512.7" r="2.1" fill="url(#gp)"/>
<circle cx="216.2" cy="526.3" r="2.1" fill="url(#gp)"/>
<circle cx="217.2" cy="526.2" r="2.1" fill="url(#gp)"/>
<circle cx="218.3" cy="527.4" r="2.1" fill="url(#gp)"/>
<circle cx="219.0" cy="521.6" r="2.1" fill="url(#gp)"/>
<circle cx="219.9" cy="525.2" r="2.1" fill="url(#gp)"/>
<circle cx="220.7" cy="526.7" r="2.1" fill="url(#gp)"/>
<circle cx="221.9" cy="526.9" r="2.1" fill="url(#gp)"/>
<circle cx="223.1" cy="532.4" r="2.1" fill="url(#gp)"/>
<circle cx="224.4" cy="524.5" r="2.1" fill="url(#gp)"/>
<circle cx="224.9" cy="522.6" r="2.1" fill="url(#gp)"/>
<circle cx="44.1" cy="464.8" r="2.1" fill="url(#gb)"/>
<circle cx="49.3" cy="472.3" r="2.1" fill="url(#gb)"/>
<circle cx="54.5" cy="474.3" r="2.1" fill="url(#gb)"/>
<circle cx="58.9" cy="481.3" r="2.1" fill="url(#gb)"/>
<circle cx="62.3" cy="484.8" r="2.1" fill="url(#gb)"/>
<circle cx="65.0" cy="490.9" r="2.1" fill="url(#gb)"/>
<circle cx="67.6" cy="497.0" r="2.1" fill="url(#gb)"/>
<circle cx="70.2" cy="487.4" r="2.1" fill="url(#gb)"/>
<circle cx="73.7" cy="498.7" r="2.1" fill="url(#gb)"/>
<circle cx="77.1" cy="497.0" r="2.1" fill="url(#gb)"/>
<circle cx="79.7" cy="503.9" r="2.1" fill="url(#gb)"/>
<circle cx="83.2" cy="505.7" r="2.1" fill="url(#gb)"/>
<circle cx="85.8" cy="510.0" r="2.1" fill="url(#gb)"/>
<circle cx="89.3" cy="514.3" r="2.1" fill="url(#gb)"/>
<circle cx="91.9" cy="521.3" r="2.1" fill="url(#gb)"/>
<circle cx="88.4" cy="526.2" r="2.1" fill="url(#gb)"/>
<circle cx="94.5" cy="523.0" r="2.1" fill="url(#gb)"/>
<circle cx="97.1" cy="528.3" r="2.1" fill="url(#gb)"/>
<circle cx="99.7" cy="531.7" r="2.1" fill="url(#gb)"/>
<circle cx="103.2" cy="530.0" r="2.1" fill="url(#gb)"/>
<circle cx="111.9" cy="519.6" r="2.1" fill="url(#gb)"/>
<circle cx="114.5" cy="526.5" r="2.1" fill="url(#gb)"/>
<circle cx="115.4" cy="541.3" r="2.1" fill="url(#gb)"/>
<circle cx="119.7" cy="535.2" r="2.1" fill="url(#gb)"/>
<circle cx="125.0" cy="537.0" r="2.1" fill="url(#gb)"/>
<circle cx="127.6" cy="539.6" r="2.1" fill="url(#gb)"/>
<circle cx="130.2" cy="535.2" r="2.1" fill="url(#gb)"/>
<circle cx="134.5" cy="541.3" r="2.1" fill="url(#gb)"/>
<circle cx="136.3" cy="528.3" r="2.1" fill="url(#gb)"/>
<circle cx="138.1" cy="546.1" r="2.1" fill="url(#gb)"/>
<circle cx="139.5" cy="540.0" r="2.1" fill="url(#gb)"/>
<circle cx="141.1" cy="538.8" r="2.1" fill="url(#gb)"/>
<circle cx="142.5" cy="538.0" r="2.1" fill="url(#gb)"/>
<circle cx="144.1" cy="536.0" r="2.1" fill="url(#gb)"/>
<circle cx="145.3" cy="538.8" r="2.1" fill="url(#gb)"/>
<circle cx="146.6" cy="534.1" r="2.1" fill="url(#gb)"/>
<circle cx="148.0" cy="544.2" r="2.1" fill="url(#gb)"/>
<circle cx="150.3" cy="530.5" r="2.1" fill="url(#gb)"/>
<circle cx="151.5" cy="539.2" r="2.1" fill="url(#gb)"/>
<circle cx="152.5" cy="531.8" r="2.1" fill="url(#gb)"/>
<circle cx="153.9" cy="537.4" r="2.1" fill="url(#gb)"/>
<circle cx="155.5" cy="538.1" r="2.1" fill="url(#gb)"/>
<circle cx="157.2" cy="537.0" r="2.1" fill="url(#gb)"/>
<circle cx="158.7" cy="535.0" r="2.1" fill="url(#gb)"/>
<circle cx="160.3" cy="543.3" r="2.1" fill="url(#gb)"/>
<circle cx="161.7" cy="541.2" r="2.1" fill="url(#gb)"/>
<circle cx="162.9" cy="543.1" r="2.1" fill="url(#gb)"/>
<circle cx="165.0" cy="529.1" r="2.1" fill="url(#gb)"/>
<circle cx="166.3" cy="538.8" r="2.1" fill="url(#gb)"/>
<circle cx="167.4" cy="538.1" r="2.1" fill="url(#gb)"/>
<circle cx="168.6" cy="534.6" r="2.1" fill="url(#gb)"/>
<circle cx="170.7" cy="546.4" r="2.1" fill="url(#gb)"/>
<circle cx="171.9" cy="533.2" r="2.1" fill="url(#gb)"/>
<circle cx="173.8" cy="538.7" r="2.1" fill="url(#gb)"/>
<circle cx="174.6" cy="539.0" r="2.1" fill="url(#gb)"/>
<circle cx="176.7" cy="552.5" r="2.1" fill="url(#gb)"/>
<circle cx="177.8" cy="536.4" r="2.1" fill="url(#gb)"/>
<circle cx="178.9" cy="544.9" r="2.1" fill="url(#gb)"/>
<circle cx="180.6" cy="545.3" r="2.1" fill="url(#gb)"/>
<circle cx="181.9" cy="545.4" r="2.1" fill="url(#gb)"/>
<circle cx="184.0" cy="528.1" r="2.1" fill="url(#gb)"/>
<circle cx="184.9" cy="539.1" r="2.1" fill="url(#gb)"/>
<circle cx="186.3" cy="536.9" r="2.1" fill="url(#gb)"/>
<circle cx="188.4" cy="536.4" r="2.1" fill="url(#gb)"/>
<circle cx="189.6" cy="533.5" r="2.1" fill="url(#gb)"/>
<circle cx="190.8" cy="539.4" r="2.1" fill="url(#gb)"/>
<circle cx="192.7" cy="541.7" r="2.1" fill="url(#gb)"/>
<circle cx="193.7" cy="542.1" r="2.1" fill="url(#gb)"/>
<circle cx="195.3" cy="537.5" r="2.1" fill="url(#gb)"/>
<circle cx="197.4" cy="537.8" r="2.1" fill="url(#gb)"/>
<circle cx="198.8" cy="543.1" r="2.1" fill="url(#gb)"/>
<circle cx="199.7" cy="546.7" r="2.1" fill="url(#gb)"/>
<circle cx="201.5" cy="533.2" r="2.1" fill="url(#gb)"/>
<circle cx="202.5" cy="535.7" r="2.1" fill="url(#gb)"/>
<circle cx="204.1" cy="539.4" r="2.1" fill="url(#gb)"/>
<circle cx="206.1" cy="541.1" r="2.1" fill="url(#gb)"/>
<circle cx="206.9" cy="535.5" r="2.1" fill="url(#gb)"/>
<circle cx="208.4" cy="542.3" r="2.1" fill="url(#gb)"/>
<circle cx="210.3" cy="541.0" r="2.1" fill="url(#gb)"/>
<circle cx="211.6" cy="551.0" r="2.1" fill="url(#gb)"/>
<circle cx="213.2" cy="535.5" r="2.1" fill="url(#gb)"/>
<circle cx="214.7" cy="537.1" r="2.1" fill="url(#gb)"/>
<circle cx="215.8" cy="541.5" r="2.1" fill="url(#gb)"/>
<circle cx="218.0" cy="537.6" r="2.1" fill="url(#gb)"/>
<circle cx="218.8" cy="542.5" r="2.1" fill="url(#gb)"/>
<circle cx="220.7" cy="536.1" r="2.1" fill="url(#gb)"/>
<circle cx="222.4" cy="540.3" r="2.1" fill="url(#gb)"/>
<circle cx="223.8" cy="543.2" r="2.1" fill="url(#gb)"/>
<circle cx="224.6" cy="542.3" r="2.1" fill="url(#gb)"/>
<path d="M38.2,470.8 38.7,470.8 39.3,470.8 40.0,470.8 40.8,470.7 41.6,470.7 42.6,470.7 43.6,470.8 44.6,471.0 45.7,471.3 46.8,471.8 47.3,472.1 47.9,472.4 48.5,472.7 49.1,473.1 49.8,473.5 50.5,474.0 51.1,474.4 51.8,474.9 52.5,475.4 53.2,475.9 54.0,476.5 54.7,477.0 55.4,477.6 56.1,478.1 56.8,478.7 57.4,479.2 58.1,479.8 58.7,480.3 59.4,480.9 60.0,481.4 60.6,482.0 61.2,482.6 61.8,483.1 62.4,483.7 62.9,484.3 63.5,484.9 64.0,485.6 64.6,486.2 65.1,486.8 65.6,487.4 66.2,488.1 66.7,488.7 67.2,489.3 67.7,489.9 68.3,490.6 68.8,491.2 69.3,491.8 69.9,492.4 70.4,493.0 71.0,493.6 71.5,494.2 72.1,494.8 72.6,495.4 73.2,496.0 73.7,496.6 74.3,497.2 74.8,497.8 75.4,498.4 75.9,499.0 76.5,499.6 77.0,500.2 77.6,500.8 78.2,501.4 78.7,502.0 79.3,502.6 79.8,503.2 80.4,503.8 80.9,504.4 81.5,505.0 82.0,505.7 82.6,506.3 83.1,506.9 83.6,507.5 84.2,508.2 84.7,508.8 85.3,509.4 85.8,510.1 86.4,510.7 86.9,511.3 87.5,511.9 88.0,512.5 88.6,513.1 89.1,513.7 89.7,514.3 90.2,514.9 90.8,515.4 91.3,515.9 92.0,516.6 92.6,517.2 93.3,517.8 93.9,518.3 94.6,518.9 95.2,519.5 95.9,520.0 96.5,520.6 97.2,521.1 97.9,521.6 98.5,522.1 99.2,522.6 99.8,523.0 100.5,523.5 101.1,523.9 101.8,524.3 102.5,524.7 103.3,525.1 104.0,525.5 104.7,525.8 105.4,526.1 106.1,526.4 106.8,526.7 107.6,526.9 108.3,527.2 109.0,527.4 109.8,527.7 110.6,528.0 111.4,528.2 112.2,528.5 112.9,528.8 113.7,529.1 114.4,529.3 115.2,529.6 116.0,529.9 116.8,530.2 117.6,530.4 118.4,530.7 119.3,531.0 120.1,531.3 120.9,531.5 121.8,531.8 122.6,532.0 123.4,532.3 124.2,532.5 125.1,532.7 125.9,533.0 126.6,533.2 127.4,533.4 128.2,533.6 129.0,533.8 129.8,534.0 130.5,534.2 131.3,534.3 132.1,534.5 132.9,534.7 133.7,534.9 134.5,535.0 135.4,535.2 136.3,535.4 137.2,535.5 138.1,535.7 138.8,535.8 139.5,536.0 140.2,536.1 141.0,536.2 141.7,536.4 142.4,536.5 143.1,536.6 143.9,536.7 144.6,536.9 145.4,537.0 146.2,537.1 147.0,537.2 147.8,537.4 148.6,537.5 149.5,537.6 150.4,537.7 151.3,537.8 152.2,537.9 153.2,538.0 154.2,538.1 155.2,538.2 155.9,538.2 156.5,538.3 157.2,538.3 157.9,538.4 158.6,538.4 159.3,538.4 160.0,538.5 160.7,538.5 161.4,538.6 162.1,538.6 162.8,538.6 163.5,538.7 164.3,538.7 165.0,538.7 165.8,538.8 166.6,538.8 167.4,538.8 168.2,538.8 169.0,538.9 169.8,538.9 170.6,538.9 171.5,538.9 172.4,539.0 173.3,539.0 174.2,539.0 175.1,539.0 176.1,539.0 177.0,539.1 178.0,539.1 179.0,539.1 180.1,539.1 181.1,539.1 182.2,539.1 182.9,539.1 183.5,539.2 184.2,539.2 185.0,539.2 185.7,539.2 186.5,539.2 187.3,539.2 188.1,539.2 188.9,539.2 189.7,539.2 190.6,539.2 191.5,539.2 192.3,539.2 193.2,539.2 194.1,539.2 195.1,539.2 196.0,539.2 196.9,539.2 197.8,539.2 198.8,539.2 199.7,539.2 200.7,539.2 201.6,539.2 202.6,539.2 203.5,539.2 204.5,539.2 205.4,539.2 206.4,539.2 207.3,539.2 208.3,539.2 209.2,539.2 210.1,539.2 211.0,539.2 211.9,539.2 212.8,539.2 213.7,539.2 214.6,539.2 215.4,539.2 216.3,539.2 217.1,539.2 217.9,539.2 218.7,539.2 219.5,539.2 220.2,539.2 220.9,539.2 221.6,539.2 222.3,539.2 223.0,539.1 223.6,539.1 224.2,539.1 224.8,539.1 225.3,539.1 225.8,539.1 226.3,539.1 226.8,539.1 227.2,539.1" fill="none" stroke="#3ea3cc" stroke-width="1.3" stroke-linejoin="round" opacity="1"/>
<path d="M38.2,465.9 38.7,465.9 39.3,466.0 40.0,466.0 40.8,466.0 41.6,466.1 42.6,466.2 43.6,466.4 44.6,466.6 45.7,466.9 46.8,467.4 47.3,467.6 48.0,467.9 48.6,468.3 49.3,468.7 50.0,469.1 50.7,469.5 51.4,469.9 52.1,470.4 52.9,470.8 53.6,471.3 54.4,471.8 55.1,472.3 55.8,472.8 56.6,473.3 57.3,473.8 58.0,474.3 58.7,474.8 59.3,475.3 60.0,475.7 60.7,476.2 61.3,476.7 62.0,477.2 62.6,477.7 63.3,478.2 63.9,478.7 64.5,479.2 65.1,479.7 65.7,480.2 66.3,480.7 66.8,481.2 67.4,481.7 68.0,482.3 68.6,482.8 69.2,483.4 69.8,484.0 70.4,484.6 71.0,485.1 71.5,485.7 72.1,486.2 72.6,486.8 73.2,487.4 73.7,488.0 74.3,488.6 74.8,489.2 75.4,489.8 75.9,490.4 76.5,491.1 77.0,491.7 77.6,492.4 78.2,493.0 78.7,493.7 79.3,494.3 79.8,495.0 80.4,495.7 80.9,496.4 81.4,497.0 81.9,497.6 82.3,498.2 82.8,498.9 83.3,499.6 83.7,500.3 84.2,501.0 84.7,501.7 85.2,502.4 85.6,503.1 86.1,503.8 86.6,504.5 87.0,505.2 87.5,505.8 88.0,506.5 88.5,507.2 88.9,507.8 89.4,508.4 89.9,509.0 90.4,509.6 90.8,510.1 91.3,510.6 92.0,511.3 92.6,511.9 93.3,512.4 93.9,513.0 94.6,513.5 95.2,513.9 95.9,514.4 96.5,514.8 97.2,515.2 97.9,515.6 98.5,516.0 99.2,516.4 99.8,516.8 100.5,517.2 101.1,517.6 101.8,518.0 102.5,518.5 103.2,518.9 103.9,519.4 104.6,519.9 105.4,520.3 106.1,520.8 106.8,521.2 107.5,521.7 108.2,522.1 108.9,522.5 109.6,522.9 110.3,523.3 110.9,523.6 111.6,524.0 112.2,524.3 113.0,524.7 113.7,525.0 114.4,525.3 115.0,525.6 115.6,525.8 116.3,526.0 117.0,526.2 117.8,526.4 118.8,526.6 120.0,526.8 120.6,527.0 121.3,527.1 122.0,527.2 122.7,527.3 123.4,527.4 124.2,527.5 125.0,527.6 125.9,527.8 126.7,527.9 127.6,528.0 128.5,528.1 129.4,528.2 130.3,528.3 131.2,528.4 132.1,528.5 133.0,528.6 133.9,528.7 134.7,528.8 135.6,528.9 136.5,529.0 137.3,529.0 138.1,529.1 138.9,529.2 139.8,529.2 140.6,529.3 141.4,529.4 142.2,529.4 143.0,529.5 143.8,529.6 144.6,529.6 145.4,529.7 146.1,529.7 146.9,529.7 147.7,529.8 148.5,529.8 149.3,529.8 150.1,529.8 151.0,529.9 151.8,529.9 152.6,529.9 153.5,529.8 154.3,529.8 155.2,529.8 155.9,529.8 156.7,529.7 157.3,529.7 158.0,529.7 158.6,529.6 159.2,529.6 159.8,529.5 160.4,529.4 161.0,529.4 161.6,529.3 162.3,529.2 162.9,529.1 163.6,529.1 164.3,529.0 165.1,528.9 165.9,528.8 166.8,528.7 167.7,528.6 168.7,528.4 169.8,528.3 171.0,528.2 172.2,528.1 173.6,528.0 175.0,527.8 175.6,527.8 176.2,527.7 176.8,527.7 177.4,527.6 178.1,527.6 178.8,527.5 179.5,527.4 180.2,527.4 181.0,527.3 181.8,527.2 182.6,527.2 183.4,527.1 184.2,527.0 185.0,527.0 185.9,526.9 186.8,526.8 187.7,526.7 188.6,526.7 189.5,526.6 190.4,526.5 191.3,526.4 192.2,526.3 193.2,526.3 194.1,526.2 195.1,526.1 196.1,526.0 197.0,525.9 198.0,525.9 198.9,525.8 199.9,525.7 200.9,525.6 201.9,525.5 202.8,525.5 203.8,525.4 204.7,525.3 205.7,525.2 206.6,525.1 207.6,525.1 208.5,525.0 209.4,524.9 210.4,524.8 211.3,524.7 212.2,524.7 213.1,524.6 213.9,524.5 214.8,524.5 215.6,524.4 216.5,524.3 217.3,524.2 218.1,524.2 218.8,524.1 219.6,524.0 220.3,524.0 221.0,523.9 221.7,523.9 222.4,523.8 223.0,523.8 223.6,523.7 224.2,523.7 224.8,523.6 225.3,523.6 225.9,523.5 226.3,523.5 226.8,523.4 227.2,523.4" fill="none" stroke="#e28f8d" stroke-width="1.3" stroke-linejoin="round" opacity="1"/>
</g>
<line x1="38" y1="399.5" x2="225" y2="399.5" stroke="#8a8a8a" stroke-width="1"/>
<line x1="224.5" y1="399.5" x2="224.5" y2="548" stroke="#4a4a4a" stroke-width="1"/>
<line x1="38.5" y1="399" x2="38.5" y2="548" stroke="#3a3a3a" stroke-width="1"/>
<line x1="38" y1="547.5" x2="225" y2="547.5" stroke="#3a3a3a" stroke-width="1"/>
<text x="150.8" y="409" font-size="9" text-anchor="start" fill="#1a1a1a" >Probe 550 nm</text>
<circle cx="160.8" cy="417" r="2" fill="url(#gb)"/>
<circle cx="160.8" cy="428.3" r="2" fill="url(#gp)"/>
<text x="174" y="420.1" font-size="9" text-anchor="start" fill="#1a1a1a" >PM6:L8-BO</text>
<text x="174" y="430.6" font-size="9" text-anchor="start" fill="#1a1a1a" >BTR:L8-BO</text>
<line x1="267.5" y1="547.9" x2="270.5" y2="547.9" stroke="#555" stroke-width="0.9"/>
<text x="266" y="551" font-size="8.5" text-anchor="end" fill="#1a1a1a" >0</text>
<line x1="267.5" y1="518.3" x2="270.5" y2="518.3" stroke="#555" stroke-width="0.9"/>
<text x="266" y="521.4" font-size="8.5" text-anchor="end" fill="#1a1a1a" >5</text>
<line x1="267.5" y1="488.6" x2="270.5" y2="488.6" stroke="#555" stroke-width="0.9"/>
<text x="266" y="491.7" font-size="8.5" text-anchor="end" fill="#1a1a1a" >10</text>
<line x1="267.5" y1="459" x2="270.5" y2="459" stroke="#555" stroke-width="0.9"/>
<text x="266" y="462.1" font-size="8.5" text-anchor="end" fill="#1a1a1a" >15</text>
<line x1="267.5" y1="429.3" x2="270.5" y2="429.3" stroke="#555" stroke-width="0.9"/>
<text x="266" y="432.4" font-size="8.5" text-anchor="end" fill="#1a1a1a" >20</text>
<line x1="267.5" y1="399.7" x2="270.5" y2="399.7" stroke="#555" stroke-width="0.9"/>
<text x="266" y="402.8" font-size="8.5" text-anchor="end" fill="#1a1a1a" >25</text>
<line x1="268.7" y1="533.1" x2="270.5" y2="533.1" stroke="#555" stroke-width="0.7"/>
<line x1="268.7" y1="503.4" x2="270.5" y2="503.4" stroke="#555" stroke-width="0.7"/>
<line x1="268.7" y1="473.8" x2="270.5" y2="473.8" stroke="#555" stroke-width="0.7"/>
<line x1="268.7" y1="444.2" x2="270.5" y2="444.2" stroke="#555" stroke-width="0.7"/>
<line x1="268.7" y1="414.5" x2="270.5" y2="414.5" stroke="#555" stroke-width="0.7"/>
<line x1="270.1" y1="547.5" x2="270.1" y2="550.5" stroke="#555" stroke-width="0.9"/>
<text x="270.1" y="558.5" font-size="8.5" text-anchor="middle" fill="#1a1a1a" >0.1</text>
<line x1="283.5" y1="547.5" x2="283.5" y2="549.1" stroke="#555" stroke-width="0.6"/>
<line x1="291.4" y1="547.5" x2="291.4" y2="549.1" stroke="#555" stroke-width="0.6"/>
<line x1="297" y1="547.5" x2="297" y2="549.1" stroke="#555" stroke-width="0.6"/>
<line x1="301.3" y1="547.5" x2="301.3" y2="549.1" stroke="#555" stroke-width="0.6"/>
<line x1="304.8" y1="547.5" x2="304.8" y2="549.1" stroke="#555" stroke-width="0.6"/>
<line x1="307.8" y1="547.5" x2="307.8" y2="549.1" stroke="#555" stroke-width="0.6"/>
<line x1="310.4" y1="547.5" x2="310.4" y2="549.1" stroke="#555" stroke-width="0.6"/>
<line x1="312.7" y1="547.5" x2="312.7" y2="549.1" stroke="#555" stroke-width="0.6"/>
<line x1="314.7" y1="547.5" x2="314.7" y2="550.5" stroke="#555" stroke-width="0.9"/>
<text x="314.7" y="558.5" font-size="8.5" text-anchor="middle" fill="#1a1a1a" >1</text>
<line x1="328.1" y1="547.5" x2="328.1" y2="549.1" stroke="#555" stroke-width="0.6"/>
<line x1="336" y1="547.5" x2="336" y2="549.1" stroke="#555" stroke-width="0.6"/>
<line x1="341.6" y1="547.5" x2="341.6" y2="549.1" stroke="#555" stroke-width="0.6"/>
<line x1="345.9" y1="547.5" x2="345.9" y2="549.1" stroke="#555" stroke-width="0.6"/>
<line x1="349.4" y1="547.5" x2="349.4" y2="549.1" stroke="#555" stroke-width="0.6"/>
<line x1="352.4" y1="547.5" x2="352.4" y2="549.1" stroke="#555" stroke-width="0.6"/>
<line x1="355" y1="547.5" x2="355" y2="549.1" stroke="#555" stroke-width="0.6"/>
<line x1="357.3" y1="547.5" x2="357.3" y2="549.1" stroke="#555" stroke-width="0.6"/>
<line x1="359.3" y1="547.5" x2="359.3" y2="550.5" stroke="#555" stroke-width="0.9"/>
<text x="359.3" y="558.5" font-size="8.5" text-anchor="middle" fill="#1a1a1a" >10</text>
<line x1="372.7" y1="547.5" x2="372.7" y2="549.1" stroke="#555" stroke-width="0.6"/>
<line x1="380.6" y1="547.5" x2="380.6" y2="549.1" stroke="#555" stroke-width="0.6"/>
<line x1="386.2" y1="547.5" x2="386.2" y2="549.1" stroke="#555" stroke-width="0.6"/>
<line x1="390.5" y1="547.5" x2="390.5" y2="549.1" stroke="#555" stroke-width="0.6"/>
<line x1="394" y1="547.5" x2="394" y2="549.1" stroke="#555" stroke-width="0.6"/>
<line x1="397" y1="547.5" x2="397" y2="549.1" stroke="#555" stroke-width="0.6"/>
<line x1="399.6" y1="547.5" x2="399.6" y2="549.1" stroke="#555" stroke-width="0.6"/>
<line x1="401.9" y1="547.5" x2="401.9" y2="549.1" stroke="#555" stroke-width="0.6"/>
<line x1="403.9" y1="547.5" x2="403.9" y2="550.5" stroke="#555" stroke-width="0.9"/>
<text x="403.9" y="558.5" font-size="8.5" text-anchor="middle" fill="#1a1a1a" >100</text>
<line x1="417.3" y1="547.5" x2="417.3" y2="549.1" stroke="#555" stroke-width="0.6"/>
<line x1="425.2" y1="547.5" x2="425.2" y2="549.1" stroke="#555" stroke-width="0.6"/>
<line x1="430.8" y1="547.5" x2="430.8" y2="549.1" stroke="#555" stroke-width="0.6"/>
<line x1="435.1" y1="547.5" x2="435.1" y2="549.1" stroke="#555" stroke-width="0.6"/>
<line x1="438.6" y1="547.5" x2="438.6" y2="549.1" stroke="#555" stroke-width="0.6"/>
<line x1="441.6" y1="547.5" x2="441.6" y2="549.1" stroke="#555" stroke-width="0.6"/>
<line x1="444.2" y1="547.5" x2="444.2" y2="549.1" stroke="#555" stroke-width="0.6"/>
<line x1="446.5" y1="547.5" x2="446.5" y2="549.1" stroke="#555" stroke-width="0.6"/>
<line x1="448.5" y1="547.5" x2="448.5" y2="550.5" stroke="#555" stroke-width="0.9"/>
<text x="448.5" y="558.5" font-size="8.5" text-anchor="middle" fill="#1a1a1a" >1000</text>
<text x="363.7" y="573" font-size="9" text-anchor="middle" fill="#1a1a1a" >Time (ps)</text>
<text transform="translate(244.1,473.8) rotate(-90)" font-size="9" text-anchor="middle" fill="#222">&#916;A (mOD)</text>
<clipPath id="ck270"><rect x="270.5" y="399.5" width="186" height="148"/></clipPath>
<g clip-path="url(#ck270)">
<circle cx="275.0" cy="450.9" r="2.1" fill="url(#gb)"/>
<circle cx="280.2" cy="455.2" r="2.1" fill="url(#gb)"/>
<circle cx="284.5" cy="463.6" r="2.1" fill="url(#gb)"/>
<circle cx="289.9" cy="473.4" r="2.1" fill="url(#gb)"/>
<circle cx="291.7" cy="476.3" r="2.1" fill="url(#gb)"/>
<circle cx="292.9" cy="476.6" r="2.1" fill="url(#gb)"/>
<circle cx="294.7" cy="480.7" r="2.1" fill="url(#gb)"/>
<circle cx="296.2" cy="481.8" r="2.1" fill="url(#gb)"/>
<circle cx="297.6" cy="483.9" r="2.1" fill="url(#gb)"/>
<circle cx="299.3" cy="485.4" r="2.1" fill="url(#gb)"/>
<circle cx="300.5" cy="487.9" r="2.1" fill="url(#gb)"/>
<circle cx="302.0" cy="488.4" r="2.1" fill="url(#gb)"/>
<circle cx="304.0" cy="493.0" r="2.1" fill="url(#gb)"/>
<circle cx="305.6" cy="496.1" r="2.1" fill="url(#gb)"/>
<circle cx="306.7" cy="497.6" r="2.1" fill="url(#gb)"/>
<circle cx="308.3" cy="498.6" r="2.1" fill="url(#gb)"/>
<circle cx="309.7" cy="500.8" r="2.1" fill="url(#gb)"/>
<circle cx="311.1" cy="503.8" r="2.1" fill="url(#gb)"/>
<circle cx="313.3" cy="507.2" r="2.1" fill="url(#gb)"/>
<circle cx="314.4" cy="508.9" r="2.1" fill="url(#gb)"/>
<circle cx="315.9" cy="510.6" r="2.1" fill="url(#gb)"/>
<circle cx="317.1" cy="510.6" r="2.1" fill="url(#gb)"/>
<circle cx="318.7" cy="513.8" r="2.1" fill="url(#gb)"/>
<circle cx="320.7" cy="515.9" r="2.1" fill="url(#gb)"/>
<circle cx="322.3" cy="516.1" r="2.1" fill="url(#gb)"/>
<circle cx="323.7" cy="519.2" r="2.1" fill="url(#gb)"/>
<circle cx="325.2" cy="521.6" r="2.1" fill="url(#gb)"/>
<circle cx="326.2" cy="522.9" r="2.1" fill="url(#gb)"/>
<circle cx="327.8" cy="522.9" r="2.1" fill="url(#gb)"/>
<circle cx="329.9" cy="524.2" r="2.1" fill="url(#gb)"/>
<circle cx="330.9" cy="525.8" r="2.1" fill="url(#gb)"/>
<circle cx="332.5" cy="528.1" r="2.1" fill="url(#gb)"/>
<circle cx="334.0" cy="525.7" r="2.1" fill="url(#gb)"/>
<circle cx="335.2" cy="527.0" r="2.1" fill="url(#gb)"/>
<circle cx="337.5" cy="528.7" r="2.1" fill="url(#gb)"/>
<circle cx="338.6" cy="530.7" r="2.1" fill="url(#gb)"/>
<circle cx="340.4" cy="530.6" r="2.1" fill="url(#gb)"/>
<circle cx="341.4" cy="531.8" r="2.1" fill="url(#gb)"/>
<circle cx="343.3" cy="532.5" r="2.1" fill="url(#gb)"/>
<circle cx="344.4" cy="532.1" r="2.1" fill="url(#gb)"/>
<circle cx="346.6" cy="532.8" r="2.1" fill="url(#gb)"/>
<circle cx="347.6" cy="534.3" r="2.1" fill="url(#gb)"/>
<circle cx="348.9" cy="534.7" r="2.1" fill="url(#gb)"/>
<circle cx="350.3" cy="534.5" r="2.1" fill="url(#gb)"/>
<circle cx="352.1" cy="536.9" r="2.1" fill="url(#gb)"/>
<circle cx="353.9" cy="537.3" r="2.1" fill="url(#gb)"/>
<circle cx="355.7" cy="538.6" r="2.1" fill="url(#gb)"/>
<circle cx="356.7" cy="535.7" r="2.1" fill="url(#gb)"/>
<circle cx="358.4" cy="538.0" r="2.1" fill="url(#gb)"/>
<circle cx="360.2" cy="539.0" r="2.1" fill="url(#gb)"/>
<circle cx="361.1" cy="538.5" r="2.1" fill="url(#gb)"/>
<circle cx="363.2" cy="539.0" r="2.1" fill="url(#gb)"/>
<circle cx="364.6" cy="539.2" r="2.1" fill="url(#gb)"/>
<circle cx="366.1" cy="541.2" r="2.1" fill="url(#gb)"/>
<circle cx="367.0" cy="539.9" r="2.1" fill="url(#gb)"/>
<circle cx="368.7" cy="540.6" r="2.1" fill="url(#gb)"/>
<circle cx="370.1" cy="539.9" r="2.1" fill="url(#gb)"/>
<circle cx="371.5" cy="541.5" r="2.1" fill="url(#gb)"/>
<circle cx="373.9" cy="539.7" r="2.1" fill="url(#gb)"/>
<circle cx="375.2" cy="541.7" r="2.1" fill="url(#gb)"/>
<circle cx="376.9" cy="541.3" r="2.1" fill="url(#gb)"/>
<circle cx="378.0" cy="541.5" r="2.1" fill="url(#gb)"/>
<circle cx="379.2" cy="541.8" r="2.1" fill="url(#gb)"/>
<circle cx="381.3" cy="541.4" r="2.1" fill="url(#gb)"/>
<circle cx="382.6" cy="543.4" r="2.1" fill="url(#gb)"/>
<circle cx="384.0" cy="543.3" r="2.1" fill="url(#gb)"/>
<circle cx="385.4" cy="543.0" r="2.1" fill="url(#gb)"/>
<circle cx="387.1" cy="542.7" r="2.1" fill="url(#gb)"/>
<circle cx="388.1" cy="541.4" r="2.1" fill="url(#gb)"/>
<circle cx="390.3" cy="542.7" r="2.1" fill="url(#gb)"/>
<circle cx="391.7" cy="543.0" r="2.1" fill="url(#gb)"/>
<circle cx="393.2" cy="542.5" r="2.1" fill="url(#gb)"/>
<circle cx="394.4" cy="543.9" r="2.1" fill="url(#gb)"/>
<circle cx="396.1" cy="541.7" r="2.1" fill="url(#gb)"/>
<circle cx="397.3" cy="543.7" r="2.1" fill="url(#gb)"/>
<circle cx="398.8" cy="543.3" r="2.1" fill="url(#gb)"/>
<circle cx="400.6" cy="543.4" r="2.1" fill="url(#gb)"/>
<circle cx="401.9" cy="542.9" r="2.1" fill="url(#gb)"/>
<circle cx="403.4" cy="544.5" r="2.1" fill="url(#gb)"/>
<circle cx="405.3" cy="544.2" r="2.1" fill="url(#gb)"/>
<circle cx="406.5" cy="543.2" r="2.1" fill="url(#gb)"/>
<circle cx="408.0" cy="543.7" r="2.1" fill="url(#gb)"/>
<circle cx="410.0" cy="543.5" r="2.1" fill="url(#gb)"/>
<circle cx="411.3" cy="543.2" r="2.1" fill="url(#gb)"/>
<circle cx="413.1" cy="544.0" r="2.1" fill="url(#gb)"/>
<circle cx="414.6" cy="544.4" r="2.1" fill="url(#gb)"/>
<circle cx="415.8" cy="544.5" r="2.1" fill="url(#gb)"/>
<circle cx="417.0" cy="544.4" r="2.1" fill="url(#gb)"/>
<circle cx="419.0" cy="544.9" r="2.1" fill="url(#gb)"/>
<circle cx="420.1" cy="544.7" r="2.1" fill="url(#gb)"/>
<circle cx="421.5" cy="545.1" r="2.1" fill="url(#gb)"/>
<circle cx="423.3" cy="545.1" r="2.1" fill="url(#gb)"/>
<circle cx="424.7" cy="543.2" r="2.1" fill="url(#gb)"/>
<circle cx="426.4" cy="546.3" r="2.1" fill="url(#gb)"/>
<circle cx="427.6" cy="545.2" r="2.1" fill="url(#gb)"/>
<circle cx="429.5" cy="545.8" r="2.1" fill="url(#gb)"/>
<circle cx="431.4" cy="544.8" r="2.1" fill="url(#gb)"/>
<circle cx="432.3" cy="545.0" r="2.1" fill="url(#gb)"/>
<circle cx="434.0" cy="545.6" r="2.1" fill="url(#gb)"/>
<circle cx="435.1" cy="544.0" r="2.1" fill="url(#gb)"/>
<circle cx="436.9" cy="546.6" r="2.1" fill="url(#gb)"/>
<circle cx="438.4" cy="544.5" r="2.1" fill="url(#gb)"/>
<circle cx="439.7" cy="544.9" r="2.1" fill="url(#gb)"/>
<circle cx="441.2" cy="544.4" r="2.1" fill="url(#gb)"/>
<circle cx="443.0" cy="546.1" r="2.1" fill="url(#gb)"/>
<circle cx="444.7" cy="544.0" r="2.1" fill="url(#gb)"/>
<circle cx="446.1" cy="544.9" r="2.1" fill="url(#gb)"/>
<circle cx="447.6" cy="545.6" r="2.1" fill="url(#gb)"/>
<circle cx="448.9" cy="544.6" r="2.1" fill="url(#gb)"/>
<circle cx="450.2" cy="545.6" r="2.1" fill="url(#gb)"/>
<circle cx="452.3" cy="544.9" r="2.1" fill="url(#gb)"/>
<circle cx="454.0" cy="545.3" r="2.1" fill="url(#gb)"/>
<circle cx="455.0" cy="546.0" r="2.1" fill="url(#gb)"/>
<circle cx="275.0" cy="462.5" r="2.1" fill="url(#gp)"/>
<circle cx="280.2" cy="461.8" r="2.1" fill="url(#gp)"/>
<circle cx="284.5" cy="469.5" r="2.1" fill="url(#gp)"/>
<circle cx="288.0" cy="477.0" r="2.1" fill="url(#gp)"/>
<circle cx="290.6" cy="482.2" r="2.1" fill="url(#gp)"/>
<circle cx="294.0" cy="485.7" r="2.1" fill="url(#gp)"/>
<circle cx="296.7" cy="490.9" r="2.1" fill="url(#gp)"/>
<circle cx="300.2" cy="494.3" r="2.1" fill="url(#gp)"/>
<circle cx="303.7" cy="498.7" r="2.1" fill="url(#gp)"/>
<circle cx="306.3" cy="502.2" r="2.1" fill="url(#gp)"/>
<circle cx="308.9" cy="505.7" r="2.1" fill="url(#gp)"/>
<circle cx="311.5" cy="507.4" r="2.1" fill="url(#gp)"/>
<circle cx="314.1" cy="510.0" r="2.1" fill="url(#gp)"/>
<circle cx="315.1" cy="510.1" r="2.1" fill="url(#gp)"/>
<circle cx="316.4" cy="511.6" r="2.1" fill="url(#gp)"/>
<circle cx="317.0" cy="511.4" r="2.1" fill="url(#gp)"/>
<circle cx="318.4" cy="513.1" r="2.1" fill="url(#gp)"/>
<circle cx="320.2" cy="515.5" r="2.1" fill="url(#gp)"/>
<circle cx="321.0" cy="514.2" r="2.1" fill="url(#gp)"/>
<circle cx="322.5" cy="516.4" r="2.1" fill="url(#gp)"/>
<circle cx="324.1" cy="519.4" r="2.1" fill="url(#gp)"/>
<circle cx="325.2" cy="518.0" r="2.1" fill="url(#gp)"/>
<circle cx="326.4" cy="520.1" r="2.1" fill="url(#gp)"/>
<circle cx="327.4" cy="520.9" r="2.1" fill="url(#gp)"/>
<circle cx="329.0" cy="521.0" r="2.1" fill="url(#gp)"/>
<circle cx="330.6" cy="523.1" r="2.1" fill="url(#gp)"/>
<circle cx="331.5" cy="526.1" r="2.1" fill="url(#gp)"/>
<circle cx="332.9" cy="525.1" r="2.1" fill="url(#gp)"/>
<circle cx="334.4" cy="525.8" r="2.1" fill="url(#gp)"/>
<circle cx="335.2" cy="525.2" r="2.1" fill="url(#gp)"/>
<circle cx="336.7" cy="528.6" r="2.1" fill="url(#gp)"/>
<circle cx="337.6" cy="526.2" r="2.1" fill="url(#gp)"/>
<circle cx="338.9" cy="528.7" r="2.1" fill="url(#gp)"/>
<circle cx="340.1" cy="528.3" r="2.1" fill="url(#gp)"/>
<circle cx="342.1" cy="529.1" r="2.1" fill="url(#gp)"/>
<circle cx="343.1" cy="530.4" r="2.1" fill="url(#gp)"/>
<circle cx="344.5" cy="530.3" r="2.1" fill="url(#gp)"/>
<circle cx="346.0" cy="531.2" r="2.1" fill="url(#gp)"/>
<circle cx="347.0" cy="530.5" r="2.1" fill="url(#gp)"/>
<circle cx="348.0" cy="532.6" r="2.1" fill="url(#gp)"/>
<circle cx="349.4" cy="532.8" r="2.1" fill="url(#gp)"/>
<circle cx="350.9" cy="533.2" r="2.1" fill="url(#gp)"/>
<circle cx="352.5" cy="533.5" r="2.1" fill="url(#gp)"/>
<circle cx="353.2" cy="534.5" r="2.1" fill="url(#gp)"/>
<circle cx="355.0" cy="533.9" r="2.1" fill="url(#gp)"/>
<circle cx="356.3" cy="535.6" r="2.1" fill="url(#gp)"/>
<circle cx="356.9" cy="534.9" r="2.1" fill="url(#gp)"/>
<circle cx="358.9" cy="534.8" r="2.1" fill="url(#gp)"/>
<circle cx="359.7" cy="534.6" r="2.1" fill="url(#gp)"/>
<circle cx="360.9" cy="536.3" r="2.1" fill="url(#gp)"/>
<circle cx="362.0" cy="535.7" r="2.1" fill="url(#gp)"/>
<circle cx="363.7" cy="536.3" r="2.1" fill="url(#gp)"/>
<circle cx="364.7" cy="538.1" r="2.1" fill="url(#gp)"/>
<circle cx="366.4" cy="536.5" r="2.1" fill="url(#gp)"/>
<circle cx="367.8" cy="537.4" r="2.1" fill="url(#gp)"/>
<circle cx="369.2" cy="539.6" r="2.1" fill="url(#gp)"/>
<circle cx="370.1" cy="537.7" r="2.1" fill="url(#gp)"/>
<circle cx="371.4" cy="540.7" r="2.1" fill="url(#gp)"/>
<circle cx="372.9" cy="539.9" r="2.1" fill="url(#gp)"/>
<circle cx="374.0" cy="538.8" r="2.1" fill="url(#gp)"/>
<circle cx="375.1" cy="540.1" r="2.1" fill="url(#gp)"/>
<circle cx="376.8" cy="538.6" r="2.1" fill="url(#gp)"/>
<circle cx="378.3" cy="540.4" r="2.1" fill="url(#gp)"/>
<circle cx="378.7" cy="540.6" r="2.1" fill="url(#gp)"/>
<circle cx="380.3" cy="539.6" r="2.1" fill="url(#gp)"/>
<circle cx="381.4" cy="540.1" r="2.1" fill="url(#gp)"/>
<circle cx="382.8" cy="540.8" r="2.1" fill="url(#gp)"/>
<circle cx="383.9" cy="539.3" r="2.1" fill="url(#gp)"/>
<circle cx="385.2" cy="540.5" r="2.1" fill="url(#gp)"/>
<circle cx="386.6" cy="540.6" r="2.1" fill="url(#gp)"/>
<circle cx="387.9" cy="538.9" r="2.1" fill="url(#gp)"/>
<circle cx="389.3" cy="540.1" r="2.1" fill="url(#gp)"/>
<circle cx="390.5" cy="540.5" r="2.1" fill="url(#gp)"/>
<circle cx="391.9" cy="541.4" r="2.1" fill="url(#gp)"/>
<circle cx="393.6" cy="543.4" r="2.1" fill="url(#gp)"/>
<circle cx="394.2" cy="542.7" r="2.1" fill="url(#gp)"/>
<circle cx="395.5" cy="540.3" r="2.1" fill="url(#gp)"/>
<circle cx="396.9" cy="542.5" r="2.1" fill="url(#gp)"/>
<circle cx="398.7" cy="541.8" r="2.1" fill="url(#gp)"/>
<circle cx="400.0" cy="542.6" r="2.1" fill="url(#gp)"/>
<circle cx="400.8" cy="541.9" r="2.1" fill="url(#gp)"/>
<circle cx="402.1" cy="541.0" r="2.1" fill="url(#gp)"/>
<circle cx="403.3" cy="541.8" r="2.1" fill="url(#gp)"/>
<circle cx="405.3" cy="542.6" r="2.1" fill="url(#gp)"/>
<circle cx="406.2" cy="542.8" r="2.1" fill="url(#gp)"/>
<circle cx="407.6" cy="541.7" r="2.1" fill="url(#gp)"/>
<circle cx="408.4" cy="542.5" r="2.1" fill="url(#gp)"/>
<circle cx="410.3" cy="541.7" r="2.1" fill="url(#gp)"/>
<circle cx="411.8" cy="543.0" r="2.1" fill="url(#gp)"/>
<circle cx="413.0" cy="543.0" r="2.1" fill="url(#gp)"/>
<circle cx="413.6" cy="542.1" r="2.1" fill="url(#gp)"/>
<circle cx="415.1" cy="542.1" r="2.1" fill="url(#gp)"/>
<circle cx="416.1" cy="544.5" r="2.1" fill="url(#gp)"/>
<circle cx="417.7" cy="543.6" r="2.1" fill="url(#gp)"/>
<circle cx="419.4" cy="543.8" r="2.1" fill="url(#gp)"/>
<circle cx="420.7" cy="544.2" r="2.1" fill="url(#gp)"/>
<circle cx="422.0" cy="543.7" r="2.1" fill="url(#gp)"/>
<circle cx="423.0" cy="543.2" r="2.1" fill="url(#gp)"/>
<circle cx="424.0" cy="542.8" r="2.1" fill="url(#gp)"/>
<circle cx="425.8" cy="544.9" r="2.1" fill="url(#gp)"/>
<circle cx="427.1" cy="543.6" r="2.1" fill="url(#gp)"/>
<circle cx="428.5" cy="543.2" r="2.1" fill="url(#gp)"/>
<circle cx="429.7" cy="542.8" r="2.1" fill="url(#gp)"/>
<circle cx="430.9" cy="544.6" r="2.1" fill="url(#gp)"/>
<circle cx="431.7" cy="542.8" r="2.1" fill="url(#gp)"/>
<circle cx="433.0" cy="542.9" r="2.1" fill="url(#gp)"/>
<circle cx="434.3" cy="543.5" r="2.1" fill="url(#gp)"/>
<circle cx="435.9" cy="543.3" r="2.1" fill="url(#gp)"/>
<circle cx="437.2" cy="543.9" r="2.1" fill="url(#gp)"/>
<circle cx="438.8" cy="544.7" r="2.1" fill="url(#gp)"/>
<circle cx="440.0" cy="544.5" r="2.1" fill="url(#gp)"/>
<circle cx="440.6" cy="542.6" r="2.1" fill="url(#gp)"/>
<circle cx="442.6" cy="544.4" r="2.1" fill="url(#gp)"/>
<circle cx="443.9" cy="543.7" r="2.1" fill="url(#gp)"/>
<circle cx="444.6" cy="543.8" r="2.1" fill="url(#gp)"/>
<circle cx="446.2" cy="542.2" r="2.1" fill="url(#gp)"/>
<circle cx="447.4" cy="544.8" r="2.1" fill="url(#gp)"/>
<circle cx="448.9" cy="544.2" r="2.1" fill="url(#gp)"/>
<circle cx="450.5" cy="545.0" r="2.1" fill="url(#gp)"/>
<circle cx="451.7" cy="544.5" r="2.1" fill="url(#gp)"/>
<circle cx="452.9" cy="546.1" r="2.1" fill="url(#gp)"/>
<circle cx="454.0" cy="544.6" r="2.1" fill="url(#gp)"/>
<circle cx="455.0" cy="543.6" r="2.1" fill="url(#gp)"/>
<path d="M270.1,459.6 270.6,459.3 271.3,458.7 272.1,458.2 273.2,458.0 274.6,458.4 275.0,458.6 275.6,459.0 276.1,459.3 276.7,459.7 277.4,460.2 278.0,460.7 278.7,461.2 279.4,461.8 280.1,462.3 280.8,462.9 281.5,463.6 282.2,464.2 282.9,464.8 283.6,465.4 284.2,466.1 284.8,466.7 285.4,467.3 285.9,467.9 286.5,468.5 287.0,469.1 287.6,469.7 288.1,470.4 288.6,471.0 289.1,471.7 289.6,472.4 290.2,473.0 290.7,473.7 291.2,474.4 291.7,475.1 292.2,475.8 292.7,476.5 293.2,477.2 293.7,477.9 294.2,478.6 294.6,479.2 295.1,479.9 295.5,480.6 296.0,481.3 296.4,481.9 296.9,482.6 297.3,483.3 297.8,484.0 298.2,484.7 298.6,485.4 299.1,486.1 299.5,486.8 300.0,487.5 300.4,488.2 300.9,488.9 301.3,489.6 301.8,490.3 302.2,491.0 302.7,491.7 303.1,492.4 303.6,493.1 304.1,493.8 304.5,494.5 305.0,495.2 305.5,495.9 306.0,496.6 306.4,497.3 306.9,498.0 307.4,498.7 307.9,499.4 308.3,500.0 308.8,500.7 309.3,501.4 309.7,502.1 310.2,502.7 310.7,503.4 311.1,504.0 311.6,504.7 312.1,505.5 312.6,506.2 313.1,506.9 313.6,507.6 314.1,508.2 314.6,508.9 315.1,509.6 315.6,510.3 316.1,510.9 316.6,511.6 317.1,512.2 317.6,512.9 318.1,513.5 318.6,514.1 319.1,514.7 319.6,515.3 320.2,516.0 320.8,516.6 321.4,517.2 322.0,517.9 322.6,518.5 323.2,519.1 323.8,519.7 324.4,520.3 325.0,520.8 325.6,521.4 326.2,521.9 326.8,522.4 327.4,522.9 327.9,523.4 328.5,523.9 329.2,524.4 330.0,525.0 330.7,525.5 331.4,525.9 332.1,526.4 332.8,526.8 333.5,527.2 334.2,527.6 334.9,528.0 335.6,528.3 336.3,528.7 337.0,529.1 337.7,529.5 338.5,529.8 339.2,530.2 339.9,530.5 340.7,530.9 341.4,531.2 342.2,531.5 342.9,531.8 343.7,532.1 344.4,532.4 345.2,532.8 345.9,533.1 346.6,533.4 347.4,533.7 348.0,534.1 348.7,534.4 349.4,534.7 350.1,535.1 350.8,535.4 351.5,535.7 352.3,536.1 353.1,536.4 353.9,536.7 354.8,537.0 355.5,537.2 356.2,537.4 356.8,537.6 357.5,537.8 358.2,538.1 358.9,538.3 359.6,538.5 360.3,538.7 361.1,538.9 361.9,539.1 362.7,539.3 363.5,539.5 364.4,539.6 365.3,539.8 366.2,540.0 367.2,540.2 368.2,540.4 368.9,540.5 369.5,540.6 370.2,540.7 370.9,540.8 371.7,540.9 372.4,541.0 373.2,541.1 373.9,541.2 374.7,541.3 375.5,541.4 376.3,541.5 377.2,541.6 378.0,541.6 378.8,541.7 379.7,541.8 380.5,541.9 381.3,542.0 382.2,542.1 383.0,542.2 383.9,542.2 384.7,542.3 385.6,542.4 386.4,542.5 387.3,542.6 388.1,542.6 388.9,542.7 389.7,542.8 390.5,542.9 391.3,542.9 392.1,543.0 392.9,543.1 393.6,543.1 394.3,543.2 395.0,543.3 395.7,543.3 396.4,543.4 397.1,543.5 397.8,543.5 398.5,543.6 399.2,543.6 399.9,543.7 400.6,543.7 401.4,543.8 402.1,543.8 402.9,543.9 403.7,543.9 404.6,544.0 405.5,544.0 406.4,544.1 407.3,544.1 408.3,544.2 409.4,544.2 410.5,544.3 411.6,544.3 412.8,544.3 413.4,544.4 414.1,544.4 414.8,544.4 415.5,544.4 416.2,544.4 417.0,544.5 417.7,544.5 418.5,544.5 419.3,544.5 420.2,544.6 421.0,544.6 421.9,544.6 422.8,544.6 423.7,544.6 424.6,544.7 425.5,544.7 426.4,544.7 427.4,544.7 428.3,544.7 429.3,544.7 430.2,544.8 431.2,544.8 432.2,544.8 433.1,544.8 434.1,544.8 435.1,544.9 436.0,544.9 437.0,544.9 438.0,544.9 438.9,544.9 439.9,544.9 440.8,545.0 441.7,545.0 442.6,545.0 443.5,545.0 444.4,545.0 445.3,545.0 446.2,545.0 447.0,545.1 447.9,545.1 448.7,545.1 449.5,545.1 450.2,545.1 451.0,545.1 451.7,545.1 452.4,545.1 453.1,545.2 453.7,545.2 454.4,545.2 455.0,545.2 455.5,545.2 456.0,545.2 456.5,545.2 457.0,545.2 457.4,545.2" fill="none" stroke="#3ea3cc" stroke-width="1.3" stroke-linejoin="round" opacity="1"/>
<path d="M270.1,473.8 270.4,473.4 270.8,472.7 271.2,471.9 271.7,471.1 272.2,470.2 272.8,469.3 273.4,468.6 274.0,467.9 274.7,467.5 275.5,467.3 276.0,467.3 276.7,467.4 277.3,467.6 278.1,467.9 278.8,468.2 279.5,468.6 280.3,469.1 281.1,469.6 281.8,470.1 282.6,470.7 283.4,471.3 284.1,472.0 284.8,472.6 285.4,473.1 285.9,473.7 286.4,474.2 287.0,474.9 287.5,475.5 288.0,476.2 288.5,476.8 289.1,477.5 289.6,478.2 290.1,478.9 290.6,479.7 291.2,480.4 291.7,481.1 292.2,481.8 292.7,482.5 293.2,483.2 293.7,483.9 294.2,484.5 294.8,485.2 295.3,485.9 295.8,486.5 296.2,487.2 296.7,487.9 297.2,488.5 297.7,489.2 298.2,489.9 298.7,490.5 299.2,491.2 299.7,491.9 300.2,492.5 300.7,493.2 301.2,493.8 301.7,494.5 302.2,495.1 302.7,495.8 303.2,496.4 303.8,497.1 304.3,497.7 304.8,498.4 305.3,499.0 305.9,499.6 306.4,500.3 306.9,500.9 307.5,501.5 308.0,502.2 308.5,502.8 309.1,503.4 309.6,504.0 310.1,504.6 310.6,505.2 311.1,505.8 311.7,506.5 312.3,507.2 312.8,507.8 313.4,508.5 314.0,509.1 314.5,509.8 315.1,510.5 315.6,511.1 316.2,511.7 316.8,512.4 317.3,513.0 317.9,513.6 318.5,514.2 319.0,514.7 319.6,515.3 320.2,515.9 320.9,516.5 321.5,517.0 322.1,517.6 322.8,518.1 323.4,518.7 324.1,519.2 324.7,519.7 325.4,520.2 326.0,520.7 326.6,521.1 327.3,521.6 327.9,522.0 328.5,522.4 329.3,522.9 330.1,523.3 330.9,523.8 331.6,524.1 332.4,524.5 333.1,524.8 333.9,525.2 334.7,525.5 335.4,525.8 336.2,526.2 337.0,526.6 337.7,526.9 338.5,527.3 339.2,527.7 339.9,528.0 340.7,528.4 341.4,528.8 342.2,529.1 342.9,529.5 343.7,529.9 344.4,530.2 345.2,530.6 345.9,530.9 346.7,531.2 347.5,531.6 348.2,531.9 349.0,532.2 349.7,532.5 350.5,532.8 351.3,533.1 352.1,533.4 352.9,533.7 353.9,534.0 354.8,534.3 355.5,534.5 356.2,534.7 356.8,534.9 357.5,535.1 358.2,535.3 358.9,535.5 359.6,535.7 360.3,535.9 361.1,536.2 361.9,536.4 362.7,536.6 363.5,536.8 364.4,537.0 365.3,537.2 366.2,537.4 367.2,537.6 368.2,537.8 368.9,537.9 369.5,538.1 370.2,538.2 370.9,538.3 371.7,538.4 372.4,538.6 373.2,538.7 373.9,538.8 374.7,538.9 375.5,539.1 376.3,539.2 377.2,539.3 378.0,539.4 378.8,539.5 379.7,539.7 380.5,539.8 381.3,539.9 382.2,540.0 383.0,540.1 383.9,540.2 384.7,540.4 385.6,540.5 386.4,540.6 387.3,540.7 388.1,540.8 388.9,540.9 389.7,541.0 390.5,541.1 391.3,541.2 392.1,541.3 392.9,541.4 393.6,541.5 394.3,541.6 395.0,541.6 395.7,541.7 396.4,541.8 397.1,541.9 397.8,542.0 398.5,542.1 399.2,542.1 399.9,542.2 400.6,542.3 401.4,542.4 402.1,542.4 402.9,542.5 403.7,542.6 404.6,542.6 405.5,542.7 406.4,542.8 407.3,542.8 408.3,542.9 409.4,543.0 410.5,543.0 411.6,543.1 412.8,543.2 413.4,543.2 414.1,543.2 414.8,543.2 415.5,543.3 416.2,543.3 417.0,543.3 417.7,543.4 418.5,543.4 419.3,543.4 420.2,543.4 421.0,543.5 421.9,543.5 422.8,543.5 423.7,543.6 424.6,543.6 425.5,543.6 426.4,543.6 427.4,543.7 428.3,543.7 429.3,543.7 430.2,543.7 431.2,543.8 432.2,543.8 433.1,543.8 434.1,543.8 435.1,543.8 436.0,543.9 437.0,543.9 438.0,543.9 438.9,543.9 439.9,544.0 440.8,544.0 441.7,544.0 442.6,544.0 443.5,544.0 444.4,544.1 445.3,544.1 446.2,544.1 447.0,544.1 447.9,544.1 448.7,544.1 449.5,544.2 450.2,544.2 451.0,544.2 451.7,544.2 452.4,544.2 453.1,544.2 453.7,544.3 454.4,544.3 455.0,544.3 455.5,544.3 456.0,544.3 456.5,544.3 457.0,544.3 457.4,544.3" fill="none" stroke="#e28f8d" stroke-width="1.3" stroke-linejoin="round" opacity="1"/>
</g>
<line x1="270" y1="399.5" x2="457" y2="399.5" stroke="#8a8a8a" stroke-width="1"/>
<line x1="456.5" y1="399.5" x2="456.5" y2="548" stroke="#4a4a4a" stroke-width="1"/>
<line x1="270.5" y1="399" x2="270.5" y2="548" stroke="#3a3a3a" stroke-width="1"/>
<line x1="270" y1="547.5" x2="457" y2="547.5" stroke="#3a3a3a" stroke-width="1"/>
<text x="384.7" y="409" font-size="9" text-anchor="start" fill="#1a1a1a" >Probe 900 nm</text>
<circle cx="394.7" cy="417" r="2" fill="url(#gb)"/>
<circle cx="394.7" cy="428.3" r="2" fill="url(#gp)"/>
<text x="407.9" y="420.1" font-size="9" text-anchor="start" fill="#1a1a1a" >PM6:L8-BO</text>
<text x="407.9" y="430.6" font-size="9" text-anchor="start" fill="#1a1a1a" >BTR:L8-BO</text>
<line x1="494.5" y1="547.9" x2="497.5" y2="547.9" stroke="#555" stroke-width="0.9"/>
<text x="493" y="551" font-size="8.5" text-anchor="end" fill="#1a1a1a" >0</text>
<line x1="494.5" y1="518.3" x2="497.5" y2="518.3" stroke="#555" stroke-width="0.9"/>
<text x="493" y="521.4" font-size="8.5" text-anchor="end" fill="#1a1a1a" >2</text>
<line x1="494.5" y1="488.6" x2="497.5" y2="488.6" stroke="#555" stroke-width="0.9"/>
<text x="493" y="491.7" font-size="8.5" text-anchor="end" fill="#1a1a1a" >4</text>
<line x1="494.5" y1="459" x2="497.5" y2="459" stroke="#555" stroke-width="0.9"/>
<text x="493" y="462.1" font-size="8.5" text-anchor="end" fill="#1a1a1a" >6</text>
<line x1="494.5" y1="429.3" x2="497.5" y2="429.3" stroke="#555" stroke-width="0.9"/>
<text x="493" y="432.4" font-size="8.5" text-anchor="end" fill="#1a1a1a" >8</text>
<line x1="494.5" y1="399.7" x2="497.5" y2="399.7" stroke="#555" stroke-width="0.9"/>
<text x="493" y="402.8" font-size="8.5" text-anchor="end" fill="#1a1a1a" >10</text>
<line x1="495.7" y1="533.1" x2="497.5" y2="533.1" stroke="#555" stroke-width="0.7"/>
<line x1="495.7" y1="503.4" x2="497.5" y2="503.4" stroke="#555" stroke-width="0.7"/>
<line x1="495.7" y1="473.8" x2="497.5" y2="473.8" stroke="#555" stroke-width="0.7"/>
<line x1="495.7" y1="444.2" x2="497.5" y2="444.2" stroke="#555" stroke-width="0.7"/>
<line x1="495.7" y1="414.5" x2="497.5" y2="414.5" stroke="#555" stroke-width="0.7"/>
<line x1="496.9" y1="547.5" x2="496.9" y2="550.5" stroke="#555" stroke-width="0.9"/>
<text x="496.9" y="558.5" font-size="8.5" text-anchor="middle" fill="#1a1a1a" >0.1</text>
<line x1="510.3" y1="547.5" x2="510.3" y2="549.1" stroke="#555" stroke-width="0.6"/>
<line x1="518.1" y1="547.5" x2="518.1" y2="549.1" stroke="#555" stroke-width="0.6"/>
<line x1="523.6" y1="547.5" x2="523.6" y2="549.1" stroke="#555" stroke-width="0.6"/>
<line x1="527.9" y1="547.5" x2="527.9" y2="549.1" stroke="#555" stroke-width="0.6"/>
<line x1="531.4" y1="547.5" x2="531.4" y2="549.1" stroke="#555" stroke-width="0.6"/>
<line x1="534.4" y1="547.5" x2="534.4" y2="549.1" stroke="#555" stroke-width="0.6"/>
<line x1="537" y1="547.5" x2="537" y2="549.1" stroke="#555" stroke-width="0.6"/>
<line x1="539.3" y1="547.5" x2="539.3" y2="549.1" stroke="#555" stroke-width="0.6"/>
<line x1="541.3" y1="547.5" x2="541.3" y2="550.5" stroke="#555" stroke-width="0.9"/>
<text x="541.3" y="558.5" font-size="8.5" text-anchor="middle" fill="#1a1a1a" >1</text>
<line x1="554.7" y1="547.5" x2="554.7" y2="549.1" stroke="#555" stroke-width="0.6"/>
<line x1="562.5" y1="547.5" x2="562.5" y2="549.1" stroke="#555" stroke-width="0.6"/>
<line x1="568" y1="547.5" x2="568" y2="549.1" stroke="#555" stroke-width="0.6"/>
<line x1="572.3" y1="547.5" x2="572.3" y2="549.1" stroke="#555" stroke-width="0.6"/>
<line x1="575.8" y1="547.5" x2="575.8" y2="549.1" stroke="#555" stroke-width="0.6"/>
<line x1="578.8" y1="547.5" x2="578.8" y2="549.1" stroke="#555" stroke-width="0.6"/>
<line x1="581.4" y1="547.5" x2="581.4" y2="549.1" stroke="#555" stroke-width="0.6"/>
<line x1="583.7" y1="547.5" x2="583.7" y2="549.1" stroke="#555" stroke-width="0.6"/>
<line x1="585.7" y1="547.5" x2="585.7" y2="550.5" stroke="#555" stroke-width="0.9"/>
<text x="585.7" y="558.5" font-size="8.5" text-anchor="middle" fill="#1a1a1a" >10</text>
<line x1="599.1" y1="547.5" x2="599.1" y2="549.1" stroke="#555" stroke-width="0.6"/>
<line x1="606.9" y1="547.5" x2="606.9" y2="549.1" stroke="#555" stroke-width="0.6"/>
<line x1="612.4" y1="547.5" x2="612.4" y2="549.1" stroke="#555" stroke-width="0.6"/>
<line x1="616.7" y1="547.5" x2="616.7" y2="549.1" stroke="#555" stroke-width="0.6"/>
<line x1="620.2" y1="547.5" x2="620.2" y2="549.1" stroke="#555" stroke-width="0.6"/>
<line x1="623.2" y1="547.5" x2="623.2" y2="549.1" stroke="#555" stroke-width="0.6"/>
<line x1="625.8" y1="547.5" x2="625.8" y2="549.1" stroke="#555" stroke-width="0.6"/>
<line x1="628.1" y1="547.5" x2="628.1" y2="549.1" stroke="#555" stroke-width="0.6"/>
<line x1="630.1" y1="547.5" x2="630.1" y2="550.5" stroke="#555" stroke-width="0.9"/>
<text x="630.1" y="558.5" font-size="8.5" text-anchor="middle" fill="#1a1a1a" >100</text>
<line x1="643.5" y1="547.5" x2="643.5" y2="549.1" stroke="#555" stroke-width="0.6"/>
<line x1="651.3" y1="547.5" x2="651.3" y2="549.1" stroke="#555" stroke-width="0.6"/>
<line x1="656.8" y1="547.5" x2="656.8" y2="549.1" stroke="#555" stroke-width="0.6"/>
<line x1="661.1" y1="547.5" x2="661.1" y2="549.1" stroke="#555" stroke-width="0.6"/>
<line x1="664.6" y1="547.5" x2="664.6" y2="549.1" stroke="#555" stroke-width="0.6"/>
<line x1="667.6" y1="547.5" x2="667.6" y2="549.1" stroke="#555" stroke-width="0.6"/>
<line x1="670.2" y1="547.5" x2="670.2" y2="549.1" stroke="#555" stroke-width="0.6"/>
<line x1="672.5" y1="547.5" x2="672.5" y2="549.1" stroke="#555" stroke-width="0.6"/>
<line x1="674.5" y1="547.5" x2="674.5" y2="550.5" stroke="#555" stroke-width="0.9"/>
<text x="674.5" y="558.5" font-size="8.5" text-anchor="middle" fill="#1a1a1a" >1000</text>
<text x="590" y="573" font-size="9" text-anchor="middle" fill="#1a1a1a" >Time (ps)</text>
<text transform="translate(478.6,473.8) rotate(-90)" font-size="9" text-anchor="middle" fill="#222">&#916;A (mOD)</text>
<clipPath id="ck497"><rect x="497.5" y="399.5" width="183" height="148"/></clipPath>
<g clip-path="url(#ck497)">
<circle cx="496.5" cy="486.9" r="2.1" fill="url(#gp)"/>
<circle cx="506.9" cy="485.2" r="2.1" fill="url(#gp)"/>
<circle cx="513.0" cy="488.1" r="2.1" fill="url(#gp)"/>
<circle cx="517.8" cy="489.3" r="2.1" fill="url(#gp)"/>
<circle cx="521.9" cy="495.1" r="2.1" fill="url(#gp)"/>
<circle cx="525.1" cy="489.2" r="2.1" fill="url(#gp)"/>
<circle cx="527.4" cy="483.3" r="2.1" fill="url(#gp)"/>
<circle cx="529.6" cy="488.5" r="2.1" fill="url(#gp)"/>
<circle cx="531.6" cy="489.4" r="2.1" fill="url(#gp)"/>
<circle cx="534.3" cy="494.7" r="2.1" fill="url(#gp)"/>
<circle cx="536.2" cy="488.8" r="2.1" fill="url(#gp)"/>
<circle cx="537.0" cy="488.1" r="2.1" fill="url(#gp)"/>
<circle cx="539.3" cy="488.2" r="2.1" fill="url(#gp)"/>
<circle cx="539.8" cy="488.4" r="2.1" fill="url(#gp)"/>
<circle cx="540.9" cy="487.0" r="2.1" fill="url(#gp)"/>
<circle cx="542.2" cy="489.1" r="2.1" fill="url(#gp)"/>
<circle cx="543.4" cy="488.3" r="2.1" fill="url(#gp)"/>
<circle cx="545.0" cy="490.9" r="2.1" fill="url(#gp)"/>
<circle cx="546.1" cy="493.7" r="2.1" fill="url(#gp)"/>
<circle cx="547.3" cy="491.9" r="2.1" fill="url(#gp)"/>
<circle cx="548.3" cy="490.1" r="2.1" fill="url(#gp)"/>
<circle cx="549.2" cy="487.9" r="2.1" fill="url(#gp)"/>
<circle cx="550.5" cy="487.5" r="2.1" fill="url(#gp)"/>
<circle cx="551.3" cy="491.0" r="2.1" fill="url(#gp)"/>
<circle cx="552.8" cy="489.6" r="2.1" fill="url(#gp)"/>
<circle cx="554.2" cy="494.0" r="2.1" fill="url(#gp)"/>
<circle cx="554.8" cy="487.0" r="2.1" fill="url(#gp)"/>
<circle cx="555.9" cy="489.6" r="2.1" fill="url(#gp)"/>
<circle cx="557.3" cy="493.1" r="2.1" fill="url(#gp)"/>
<circle cx="558.2" cy="490.7" r="2.1" fill="url(#gp)"/>
<circle cx="559.4" cy="488.0" r="2.1" fill="url(#gp)"/>
<circle cx="561.4" cy="494.3" r="2.1" fill="url(#gp)"/>
<circle cx="562.1" cy="487.5" r="2.1" fill="url(#gp)"/>
<circle cx="563.4" cy="495.2" r="2.1" fill="url(#gp)"/>
<circle cx="564.5" cy="496.0" r="2.1" fill="url(#gp)"/>
<circle cx="565.5" cy="494.3" r="2.1" fill="url(#gp)"/>
<circle cx="566.9" cy="492.7" r="2.1" fill="url(#gp)"/>
<circle cx="567.9" cy="489.5" r="2.1" fill="url(#gp)"/>
<circle cx="569.2" cy="493.4" r="2.1" fill="url(#gp)"/>
<circle cx="569.9" cy="499.4" r="2.1" fill="url(#gp)"/>
<circle cx="571.1" cy="495.2" r="2.1" fill="url(#gp)"/>
<circle cx="572.9" cy="496.4" r="2.1" fill="url(#gp)"/>
<circle cx="573.8" cy="491.6" r="2.1" fill="url(#gp)"/>
<circle cx="574.7" cy="498.0" r="2.1" fill="url(#gp)"/>
<circle cx="576.4" cy="494.6" r="2.1" fill="url(#gp)"/>
<circle cx="576.8" cy="499.2" r="2.1" fill="url(#gp)"/>
<circle cx="578.2" cy="496.6" r="2.1" fill="url(#gp)"/>
<circle cx="579.1" cy="495.9" r="2.1" fill="url(#gp)"/>
<circle cx="580.8" cy="496.8" r="2.1" fill="url(#gp)"/>
<circle cx="582.0" cy="499.6" r="2.1" fill="url(#gp)"/>
<circle cx="583.0" cy="506.2" r="2.1" fill="url(#gp)"/>
<circle cx="584.0" cy="499.4" r="2.1" fill="url(#gp)"/>
<circle cx="585.5" cy="493.3" r="2.1" fill="url(#gp)"/>
<circle cx="586.1" cy="499.4" r="2.1" fill="url(#gp)"/>
<circle cx="587.1" cy="498.0" r="2.1" fill="url(#gp)"/>
<circle cx="588.9" cy="505.4" r="2.1" fill="url(#gp)"/>
<circle cx="590.1" cy="503.8" r="2.1" fill="url(#gp)"/>
<circle cx="590.9" cy="502.0" r="2.1" fill="url(#gp)"/>
<circle cx="592.6" cy="501.7" r="2.1" fill="url(#gp)"/>
<circle cx="593.3" cy="504.3" r="2.1" fill="url(#gp)"/>
<circle cx="594.5" cy="504.3" r="2.1" fill="url(#gp)"/>
<circle cx="596.0" cy="505.4" r="2.1" fill="url(#gp)"/>
<circle cx="596.6" cy="507.0" r="2.1" fill="url(#gp)"/>
<circle cx="597.6" cy="506.4" r="2.1" fill="url(#gp)"/>
<circle cx="599.5" cy="514.6" r="2.1" fill="url(#gp)"/>
<circle cx="600.6" cy="507.3" r="2.1" fill="url(#gp)"/>
<circle cx="601.7" cy="504.0" r="2.1" fill="url(#gp)"/>
<circle cx="603.0" cy="506.4" r="2.1" fill="url(#gp)"/>
<circle cx="603.8" cy="506.7" r="2.1" fill="url(#gp)"/>
<circle cx="605.3" cy="508.3" r="2.1" fill="url(#gp)"/>
<circle cx="606.5" cy="509.5" r="2.1" fill="url(#gp)"/>
<circle cx="607.4" cy="507.4" r="2.1" fill="url(#gp)"/>
<circle cx="608.4" cy="507.0" r="2.1" fill="url(#gp)"/>
<circle cx="609.6" cy="503.0" r="2.1" fill="url(#gp)"/>
<circle cx="610.6" cy="507.8" r="2.1" fill="url(#gp)"/>
<circle cx="612.1" cy="511.5" r="2.1" fill="url(#gp)"/>
<circle cx="612.7" cy="508.2" r="2.1" fill="url(#gp)"/>
<circle cx="614.5" cy="510.6" r="2.1" fill="url(#gp)"/>
<circle cx="615.2" cy="517.6" r="2.1" fill="url(#gp)"/>
<circle cx="616.5" cy="513.3" r="2.1" fill="url(#gp)"/>
<circle cx="617.3" cy="514.7" r="2.1" fill="url(#gp)"/>
<circle cx="618.5" cy="512.9" r="2.1" fill="url(#gp)"/>
<circle cx="619.6" cy="517.0" r="2.1" fill="url(#gp)"/>
<circle cx="621.4" cy="514.9" r="2.1" fill="url(#gp)"/>
<circle cx="622.1" cy="511.3" r="2.1" fill="url(#gp)"/>
<circle cx="623.2" cy="518.3" r="2.1" fill="url(#gp)"/>
<circle cx="624.3" cy="520.5" r="2.1" fill="url(#gp)"/>
<circle cx="625.8" cy="519.7" r="2.1" fill="url(#gp)"/>
<circle cx="626.6" cy="523.5" r="2.1" fill="url(#gp)"/>
<circle cx="628.0" cy="520.3" r="2.1" fill="url(#gp)"/>
<circle cx="629.0" cy="517.6" r="2.1" fill="url(#gp)"/>
<circle cx="630.8" cy="521.9" r="2.1" fill="url(#gp)"/>
<circle cx="631.7" cy="517.9" r="2.1" fill="url(#gp)"/>
<circle cx="632.4" cy="521.5" r="2.1" fill="url(#gp)"/>
<circle cx="634.1" cy="523.5" r="2.1" fill="url(#gp)"/>
<circle cx="635.4" cy="522.4" r="2.1" fill="url(#gp)"/>
<circle cx="636.4" cy="526.5" r="2.1" fill="url(#gp)"/>
<circle cx="636.9" cy="526.2" r="2.1" fill="url(#gp)"/>
<circle cx="638.9" cy="525.9" r="2.1" fill="url(#gp)"/>
<circle cx="639.6" cy="521.7" r="2.1" fill="url(#gp)"/>
<circle cx="640.7" cy="519.5" r="2.1" fill="url(#gp)"/>
<circle cx="641.9" cy="525.6" r="2.1" fill="url(#gp)"/>
<circle cx="643.0" cy="523.0" r="2.1" fill="url(#gp)"/>
<circle cx="644.4" cy="532.0" r="2.1" fill="url(#gp)"/>
<circle cx="645.8" cy="529.0" r="2.1" fill="url(#gp)"/>
<circle cx="646.4" cy="527.4" r="2.1" fill="url(#gp)"/>
<circle cx="647.8" cy="528.1" r="2.1" fill="url(#gp)"/>
<circle cx="649.0" cy="534.5" r="2.1" fill="url(#gp)"/>
<circle cx="650.1" cy="532.3" r="2.1" fill="url(#gp)"/>
<circle cx="650.8" cy="534.0" r="2.1" fill="url(#gp)"/>
<circle cx="652.4" cy="531.6" r="2.1" fill="url(#gp)"/>
<circle cx="653.6" cy="530.9" r="2.1" fill="url(#gp)"/>
<circle cx="655.0" cy="533.6" r="2.1" fill="url(#gp)"/>
<circle cx="655.9" cy="528.9" r="2.1" fill="url(#gp)"/>
<circle cx="657.1" cy="530.6" r="2.1" fill="url(#gp)"/>
<circle cx="657.7" cy="537.3" r="2.1" fill="url(#gp)"/>
<circle cx="659.4" cy="536.5" r="2.1" fill="url(#gp)"/>
<circle cx="660.6" cy="532.8" r="2.1" fill="url(#gp)"/>
<circle cx="661.3" cy="540.5" r="2.1" fill="url(#gp)"/>
<circle cx="662.4" cy="541.1" r="2.1" fill="url(#gp)"/>
<circle cx="664.2" cy="537.7" r="2.1" fill="url(#gp)"/>
<circle cx="665.3" cy="540.3" r="2.1" fill="url(#gp)"/>
<circle cx="665.8" cy="532.2" r="2.1" fill="url(#gp)"/>
<circle cx="667.5" cy="529.7" r="2.1" fill="url(#gp)"/>
<circle cx="668.2" cy="536.5" r="2.1" fill="url(#gp)"/>
<circle cx="669.7" cy="537.0" r="2.1" fill="url(#gp)"/>
<circle cx="671.3" cy="538.4" r="2.1" fill="url(#gp)"/>
<circle cx="671.9" cy="536.5" r="2.1" fill="url(#gp)"/>
<circle cx="673.2" cy="539.4" r="2.1" fill="url(#gp)"/>
<circle cx="674.6" cy="541.8" r="2.1" fill="url(#gp)"/>
<circle cx="675.7" cy="541.8" r="2.1" fill="url(#gp)"/>
<circle cx="676.8" cy="540.6" r="2.1" fill="url(#gp)"/>
<circle cx="678.1" cy="543.4" r="2.1" fill="url(#gp)"/>
<circle cx="679.0" cy="541.4" r="2.1" fill="url(#gp)"/>
<circle cx="496.5" cy="457.5" r="2.1" fill="url(#gb)"/>
<circle cx="506.7" cy="458.4" r="2.1" fill="url(#gb)"/>
<circle cx="512.6" cy="459.1" r="2.1" fill="url(#gb)"/>
<circle cx="518.0" cy="459.7" r="2.1" fill="url(#gb)"/>
<circle cx="521.3" cy="462.5" r="2.1" fill="url(#gb)"/>
<circle cx="524.5" cy="469.1" r="2.1" fill="url(#gb)"/>
<circle cx="527.6" cy="467.1" r="2.1" fill="url(#gb)"/>
<circle cx="530.4" cy="461.4" r="2.1" fill="url(#gb)"/>
<circle cx="531.7" cy="452.1" r="2.1" fill="url(#gb)"/>
<circle cx="533.9" cy="462.2" r="2.1" fill="url(#gb)"/>
<circle cx="535.5" cy="466.1" r="2.1" fill="url(#gb)"/>
<circle cx="537.8" cy="460.4" r="2.1" fill="url(#gb)"/>
<circle cx="538.6" cy="463.2" r="2.1" fill="url(#gb)"/>
<circle cx="540.3" cy="458.6" r="2.1" fill="url(#gb)"/>
<circle cx="541.7" cy="462.8" r="2.1" fill="url(#gb)"/>
<circle cx="542.4" cy="469.2" r="2.1" fill="url(#gb)"/>
<circle cx="544.2" cy="464.9" r="2.1" fill="url(#gb)"/>
<circle cx="545.5" cy="466.6" r="2.1" fill="url(#gb)"/>
<circle cx="546.9" cy="468.9" r="2.1" fill="url(#gb)"/>
<circle cx="548.2" cy="470.1" r="2.1" fill="url(#gb)"/>
<circle cx="549.4" cy="465.5" r="2.1" fill="url(#gb)"/>
<circle cx="550.3" cy="461.8" r="2.1" fill="url(#gb)"/>
<circle cx="551.5" cy="470.8" r="2.1" fill="url(#gb)"/>
<circle cx="553.1" cy="465.5" r="2.1" fill="url(#gb)"/>
<circle cx="554.7" cy="463.4" r="2.1" fill="url(#gb)"/>
<circle cx="556.3" cy="480.7" r="2.1" fill="url(#gb)"/>
<circle cx="557.6" cy="470.1" r="2.1" fill="url(#gb)"/>
<circle cx="558.2" cy="475.4" r="2.1" fill="url(#gb)"/>
<circle cx="559.9" cy="479.2" r="2.1" fill="url(#gb)"/>
<circle cx="560.8" cy="474.9" r="2.1" fill="url(#gb)"/>
<circle cx="562.2" cy="468.0" r="2.1" fill="url(#gb)"/>
<circle cx="564.0" cy="476.7" r="2.1" fill="url(#gb)"/>
<circle cx="564.8" cy="480.8" r="2.1" fill="url(#gb)"/>
<circle cx="566.6" cy="471.8" r="2.1" fill="url(#gb)"/>
<circle cx="568.2" cy="475.8" r="2.1" fill="url(#gb)"/>
<circle cx="569.4" cy="474.2" r="2.1" fill="url(#gb)"/>
<circle cx="570.4" cy="477.2" r="2.1" fill="url(#gb)"/>
<circle cx="571.4" cy="482.9" r="2.1" fill="url(#gb)"/>
<circle cx="572.7" cy="478.0" r="2.1" fill="url(#gb)"/>
<circle cx="574.1" cy="480.7" r="2.1" fill="url(#gb)"/>
<circle cx="575.6" cy="482.9" r="2.1" fill="url(#gb)"/>
<circle cx="577.0" cy="488.6" r="2.1" fill="url(#gb)"/>
<circle cx="578.4" cy="482.6" r="2.1" fill="url(#gb)"/>
<circle cx="579.6" cy="486.5" r="2.1" fill="url(#gb)"/>
<circle cx="581.1" cy="485.5" r="2.1" fill="url(#gb)"/>
<circle cx="582.0" cy="486.2" r="2.1" fill="url(#gb)"/>
<circle cx="583.3" cy="487.1" r="2.1" fill="url(#gb)"/>
<circle cx="585.4" cy="492.8" r="2.1" fill="url(#gb)"/>
<circle cx="586.5" cy="488.9" r="2.1" fill="url(#gb)"/>
<circle cx="588.1" cy="484.5" r="2.1" fill="url(#gb)"/>
<circle cx="588.8" cy="487.5" r="2.1" fill="url(#gb)"/>
<circle cx="590.1" cy="491.5" r="2.1" fill="url(#gb)"/>
<circle cx="591.3" cy="491.1" r="2.1" fill="url(#gb)"/>
<circle cx="593.2" cy="493.9" r="2.1" fill="url(#gb)"/>
<circle cx="593.8" cy="496.5" r="2.1" fill="url(#gb)"/>
<circle cx="595.3" cy="497.5" r="2.1" fill="url(#gb)"/>
<circle cx="597.2" cy="497.7" r="2.1" fill="url(#gb)"/>
<circle cx="598.2" cy="495.7" r="2.1" fill="url(#gb)"/>
<circle cx="599.7" cy="505.0" r="2.1" fill="url(#gb)"/>
<circle cx="600.8" cy="500.2" r="2.1" fill="url(#gb)"/>
<circle cx="602.2" cy="500.8" r="2.1" fill="url(#gb)"/>
<circle cx="603.7" cy="504.5" r="2.1" fill="url(#gb)"/>
<circle cx="604.8" cy="500.4" r="2.1" fill="url(#gb)"/>
<circle cx="606.4" cy="501.2" r="2.1" fill="url(#gb)"/>
<circle cx="607.7" cy="498.6" r="2.1" fill="url(#gb)"/>
<circle cx="608.9" cy="505.7" r="2.1" fill="url(#gb)"/>
<circle cx="609.8" cy="503.5" r="2.1" fill="url(#gb)"/>
<circle cx="611.4" cy="506.7" r="2.1" fill="url(#gb)"/>
<circle cx="612.4" cy="508.0" r="2.1" fill="url(#gb)"/>
<circle cx="614.0" cy="505.0" r="2.1" fill="url(#gb)"/>
<circle cx="615.6" cy="510.1" r="2.1" fill="url(#gb)"/>
<circle cx="617.0" cy="509.2" r="2.1" fill="url(#gb)"/>
<circle cx="618.3" cy="508.9" r="2.1" fill="url(#gb)"/>
<circle cx="619.5" cy="510.8" r="2.1" fill="url(#gb)"/>
<circle cx="621.1" cy="511.0" r="2.1" fill="url(#gb)"/>
<circle cx="622.3" cy="509.4" r="2.1" fill="url(#gb)"/>
<circle cx="623.2" cy="517.0" r="2.1" fill="url(#gb)"/>
<circle cx="624.6" cy="509.4" r="2.1" fill="url(#gb)"/>
<circle cx="625.7" cy="512.9" r="2.1" fill="url(#gb)"/>
<circle cx="627.5" cy="511.5" r="2.1" fill="url(#gb)"/>
<circle cx="628.5" cy="514.8" r="2.1" fill="url(#gb)"/>
<circle cx="629.7" cy="516.8" r="2.1" fill="url(#gb)"/>
<circle cx="631.4" cy="520.2" r="2.1" fill="url(#gb)"/>
<circle cx="633.0" cy="516.7" r="2.1" fill="url(#gb)"/>
<circle cx="633.7" cy="517.2" r="2.1" fill="url(#gb)"/>
<circle cx="635.3" cy="517.5" r="2.1" fill="url(#gb)"/>
<circle cx="636.4" cy="519.2" r="2.1" fill="url(#gb)"/>
<circle cx="637.5" cy="519.3" r="2.1" fill="url(#gb)"/>
<circle cx="639.1" cy="520.0" r="2.1" fill="url(#gb)"/>
<circle cx="640.9" cy="523.8" r="2.1" fill="url(#gb)"/>
<circle cx="642.0" cy="526.2" r="2.1" fill="url(#gb)"/>
<circle cx="643.0" cy="518.9" r="2.1" fill="url(#gb)"/>
<circle cx="644.6" cy="520.7" r="2.1" fill="url(#gb)"/>
<circle cx="645.7" cy="527.0" r="2.1" fill="url(#gb)"/>
<circle cx="646.8" cy="526.2" r="2.1" fill="url(#gb)"/>
<circle cx="648.4" cy="526.1" r="2.1" fill="url(#gb)"/>
<circle cx="649.9" cy="521.4" r="2.1" fill="url(#gb)"/>
<circle cx="651.2" cy="528.4" r="2.1" fill="url(#gb)"/>
<circle cx="652.8" cy="528.7" r="2.1" fill="url(#gb)"/>
<circle cx="654.0" cy="525.2" r="2.1" fill="url(#gb)"/>
<circle cx="655.2" cy="528.3" r="2.1" fill="url(#gb)"/>
<circle cx="656.7" cy="526.4" r="2.1" fill="url(#gb)"/>
<circle cx="657.5" cy="530.5" r="2.1" fill="url(#gb)"/>
<circle cx="659.5" cy="532.3" r="2.1" fill="url(#gb)"/>
<circle cx="660.6" cy="536.0" r="2.1" fill="url(#gb)"/>
<circle cx="662.0" cy="524.3" r="2.1" fill="url(#gb)"/>
<circle cx="662.7" cy="533.0" r="2.1" fill="url(#gb)"/>
<circle cx="664.8" cy="530.4" r="2.1" fill="url(#gb)"/>
<circle cx="665.4" cy="531.8" r="2.1" fill="url(#gb)"/>
<circle cx="666.6" cy="534.4" r="2.1" fill="url(#gb)"/>
<circle cx="668.3" cy="539.5" r="2.1" fill="url(#gb)"/>
<circle cx="669.4" cy="537.6" r="2.1" fill="url(#gb)"/>
<circle cx="670.6" cy="536.3" r="2.1" fill="url(#gb)"/>
<circle cx="672.3" cy="541.6" r="2.1" fill="url(#gb)"/>
<circle cx="673.6" cy="541.5" r="2.1" fill="url(#gb)"/>
<circle cx="675.3" cy="545.7" r="2.1" fill="url(#gb)"/>
<circle cx="676.5" cy="540.7" r="2.1" fill="url(#gb)"/>
<circle cx="677.3" cy="538.3" r="2.1" fill="url(#gb)"/>
<circle cx="679.3" cy="536.7" r="2.1" fill="url(#gb)"/>
<path d="M496.9,461.1 497.3,461.1 497.8,461.1 498.4,461.1 499.0,461.1 499.6,461.1 500.3,461.2 501.0,461.2 501.7,461.2 502.5,461.2 503.3,461.3 504.2,461.3 505.0,461.3 505.9,461.3 506.8,461.4 507.8,461.4 508.7,461.4 509.7,461.4 510.6,461.5 511.6,461.5 512.6,461.5 513.5,461.6 514.5,461.6 515.5,461.7 516.4,461.7 517.4,461.7 518.3,461.8 519.2,461.8 520.1,461.9 521.0,461.9 521.8,461.9 522.6,462.0 523.4,462.0 524.2,462.1 524.9,462.1 525.6,462.2 526.2,462.2 527.4,462.3 528.5,462.5 529.5,462.6 530.4,462.7 531.3,462.8 532.2,462.9 533.0,463.1 533.7,463.2 534.4,463.3 535.1,463.5 535.8,463.6 536.5,463.8 537.2,464.0 537.9,464.1 538.6,464.3 539.3,464.5 540.1,464.7 540.9,464.9 541.6,465.1 542.4,465.3 543.2,465.5 543.9,465.8 544.7,466.0 545.5,466.2 546.3,466.5 547.0,466.7 547.8,467.0 548.6,467.2 549.4,467.5 550.1,467.8 550.9,468.1 551.7,468.3 552.4,468.7 553.2,469.0 554.0,469.3 554.7,469.6 555.5,469.9 556.2,470.3 557.0,470.6 557.7,471.0 558.4,471.3 559.1,471.7 559.9,472.1 560.6,472.5 561.3,472.9 562.0,473.3 562.7,473.7 563.5,474.1 564.2,474.5 564.9,474.9 565.6,475.4 566.4,475.8 567.1,476.2 567.8,476.7 568.5,477.1 569.3,477.5 570.0,477.9 570.7,478.4 571.4,478.8 572.1,479.2 572.8,479.6 573.5,480.1 574.3,480.5 575.0,480.9 575.7,481.4 576.4,481.8 577.2,482.3 577.9,482.7 578.6,483.2 579.3,483.6 580.0,484.1 580.7,484.5 581.4,484.9 582.0,485.4 582.7,485.8 583.4,486.3 584.0,486.7 584.6,487.1 585.3,487.7 586.0,488.2 586.7,488.7 587.3,489.3 587.9,489.8 588.5,490.3 589.0,490.8 589.6,491.3 590.2,491.9 590.8,492.4 591.3,492.9 591.9,493.4 592.5,493.9 593.2,494.5 593.8,495.0 594.5,495.5 595.3,496.0 595.9,496.4 596.5,496.8 597.1,497.2 597.8,497.6 598.5,498.1 599.1,498.5 599.8,498.9 600.5,499.3 601.2,499.7 601.9,500.1 602.7,500.5 603.4,500.9 604.1,501.3 604.8,501.7 605.6,502.1 606.3,502.5 607.0,502.9 607.8,503.3 608.5,503.7 609.2,504.1 609.9,504.5 610.6,504.9 611.3,505.3 612.1,505.8 612.8,506.2 613.5,506.6 614.2,507.0 615.0,507.5 615.7,507.9 616.4,508.3 617.2,508.7 617.9,509.2 618.6,509.6 619.3,510.0 620.1,510.4 620.8,510.8 621.5,511.3 622.2,511.7 623.0,512.1 623.7,512.5 624.4,512.9 625.2,513.3 625.9,513.7 626.6,514.1 627.3,514.4 628.1,514.8 628.8,515.2 629.5,515.5 630.3,515.9 631.0,516.2 631.7,516.6 632.5,516.9 633.2,517.3 634.0,517.6 634.7,518.0 635.4,518.3 636.2,518.7 636.9,519.0 637.6,519.4 638.4,519.7 639.1,520.1 639.8,520.5 640.6,520.8 641.3,521.2 642.0,521.6 642.8,522.0 643.5,522.4 644.2,522.8 644.9,523.2 645.7,523.6 646.4,524.0 647.1,524.4 647.9,524.8 648.6,525.2 649.3,525.6 650.0,526.0 650.8,526.4 651.5,526.8 652.2,527.2 653.0,527.6 653.7,528.0 654.4,528.5 655.2,528.9 655.9,529.3 656.6,529.7 657.3,530.1 658.1,530.5 658.8,530.9 659.6,531.4 660.4,531.8 661.2,532.2 661.9,532.7 662.7,533.1 663.5,533.6 664.2,534.0 665.0,534.4 665.8,534.9 666.5,535.3 667.2,535.7 668.0,536.1 668.7,536.5 669.4,536.8 670.0,537.2 670.7,537.5 671.3,537.8 671.9,538.1 672.9,538.6 673.8,539.0 674.7,539.3 675.5,539.6 676.3,539.9 677.1,540.1 677.8,540.4 678.5,540.5 679.2,540.7 679.8,540.9 680.4,541.1 681.0,541.2 682.3,541.6 683.4,541.8 684.3,542.0 685.0,542.2 685.6,542.3" fill="none" stroke="#3ea3cc" stroke-width="1.3" stroke-linejoin="round" opacity="1"/>
<path d="M496.9,487.4 497.3,487.4 497.8,487.5 498.3,487.5 498.9,487.5 499.5,487.5 500.1,487.5 500.7,487.5 501.4,487.5 502.2,487.5 502.9,487.5 503.7,487.5 504.5,487.5 505.3,487.6 506.2,487.6 507.0,487.6 507.9,487.6 508.8,487.6 509.7,487.6 510.6,487.6 511.6,487.7 512.5,487.7 513.5,487.7 514.4,487.7 515.4,487.7 516.3,487.8 517.2,487.8 518.2,487.8 519.1,487.8 520.1,487.9 521.0,487.9 521.9,488.0 522.8,488.0 523.7,488.0 524.5,488.1 525.4,488.1 526.2,488.2 527.0,488.2 527.8,488.3 528.7,488.3 529.5,488.4 530.3,488.4 531.1,488.5 532.0,488.5 532.8,488.6 533.6,488.6 534.4,488.7 535.3,488.8 536.1,488.8 536.9,488.9 537.8,488.9 538.6,489.0 539.4,489.1 540.3,489.1 541.1,489.2 541.9,489.3 542.7,489.4 543.5,489.4 544.4,489.5 545.2,489.6 546.0,489.7 546.8,489.8 547.6,489.9 548.4,490.0 549.2,490.1 550.0,490.2 550.8,490.3 551.6,490.5 552.4,490.6 553.2,490.7 554.0,490.9 554.7,491.0 555.5,491.1 556.3,491.3 557.2,491.5 558.0,491.7 558.9,491.9 559.7,492.1 560.6,492.3 561.4,492.5 562.3,492.7 563.1,493.0 563.9,493.2 564.8,493.5 565.6,493.7 566.5,494.0 567.3,494.2 568.1,494.5 568.9,494.7 569.7,495.0 570.5,495.3 571.3,495.5 572.1,495.8 572.9,496.1 573.7,496.3 574.4,496.6 575.2,496.9 575.9,497.1 576.6,497.4 577.3,497.6 578.0,497.9 578.7,498.1 579.4,498.3 580.0,498.6 580.6,498.8 581.3,499.0 582.3,499.4 583.2,499.7 584.1,500.0 585.0,500.4 585.8,500.7 586.5,501.0 587.2,501.3 587.9,501.6 588.6,501.9 589.3,502.2 589.9,502.5 590.5,502.8 591.2,503.1 591.8,503.4 592.5,503.7 593.1,504.0 593.8,504.3 594.5,504.6 595.3,504.9 596.0,505.2 596.8,505.5 597.5,505.8 598.3,506.2 599.0,506.5 599.8,506.8 600.6,507.1 601.3,507.4 602.1,507.7 602.9,508.0 603.6,508.4 604.4,508.7 605.2,509.0 606.0,509.3 606.8,509.6 607.5,510.0 608.3,510.3 609.1,510.6 609.8,511.0 610.6,511.3 611.4,511.6 612.1,512.0 612.9,512.3 613.7,512.6 614.4,513.0 615.2,513.3 616.0,513.7 616.7,514.0 617.5,514.3 618.2,514.7 619.0,515.0 619.8,515.4 620.5,515.7 621.3,516.1 622.1,516.5 622.8,516.8 623.6,517.2 624.3,517.5 625.1,517.9 625.9,518.3 626.6,518.6 627.3,519.0 628.1,519.3 628.8,519.7 629.5,520.0 630.3,520.4 631.0,520.8 631.7,521.1 632.5,521.5 633.2,521.9 634.0,522.3 634.7,522.6 635.4,523.0 636.2,523.4 636.9,523.8 637.6,524.1 638.4,524.5 639.1,524.9 639.8,525.2 640.6,525.6 641.3,526.0 642.0,526.3 642.8,526.7 643.5,527.1 644.2,527.4 644.9,527.8 645.7,528.2 646.4,528.5 647.1,528.9 647.9,529.3 648.6,529.6 649.3,530.0 650.0,530.3 650.8,530.7 651.5,531.1 652.2,531.4 653.0,531.8 653.7,532.1 654.4,532.5 655.2,532.8 655.9,533.2 656.6,533.5 657.4,533.9 658.2,534.3 659.0,534.6 659.8,535.0 660.6,535.4 661.4,535.7 662.2,536.1 663.0,536.5 663.8,536.8 664.6,537.2 665.4,537.6 666.2,537.9 667.0,538.3 667.8,538.6 668.5,538.9 669.2,539.2 669.9,539.5 670.6,539.8 671.3,540.1 671.9,540.3 672.9,540.7 673.8,541.1 674.7,541.4 675.5,541.7 676.3,542.0 677.1,542.3 677.8,542.5 678.5,542.7 679.2,542.9 679.8,543.1 680.4,543.3 681.0,543.5 682.3,543.8 683.4,544.0 684.3,544.1 685.0,544.1 685.6,544.2" fill="none" stroke="#e28f8d" stroke-width="1.3" stroke-linejoin="round" opacity="1"/>
</g>
<line x1="497" y1="399.5" x2="681" y2="399.5" stroke="#8a8a8a" stroke-width="1"/>
<line x1="680.5" y1="399.5" x2="680.5" y2="548" stroke="#4a4a4a" stroke-width="1"/>
<line x1="497.5" y1="399" x2="497.5" y2="548" stroke="#3a3a3a" stroke-width="1"/>
<line x1="497" y1="547.5" x2="681" y2="547.5" stroke="#3a3a3a" stroke-width="1"/>
<text x="610.7" y="409" font-size="9" text-anchor="start" fill="#1a1a1a" >Probe 1350 nm</text>
<circle cx="620.7" cy="417" r="2" fill="url(#gb)"/>
<circle cx="620.7" cy="428.3" r="2" fill="url(#gp)"/>
<text x="633.9" y="420.1" font-size="9" text-anchor="start" fill="#1a1a1a" >PM6:L8-BO</text>
<text x="633.9" y="430.6" font-size="9" text-anchor="start" fill="#1a1a1a" >BTR:L8-BO</text>
</svg></body></html>
